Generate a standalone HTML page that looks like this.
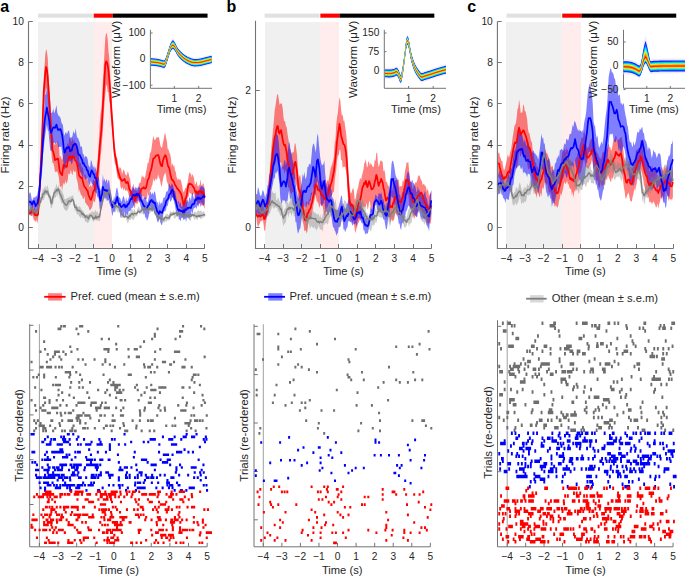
<!DOCTYPE html>
<html><head><meta charset="utf-8"><style>html,body{margin:0;padding:0;background:#fff;overflow:hidden}svg{display:block}</style></head><body>
<svg width="685" height="576" viewBox="0 0 685 576">
<rect width="685" height="576" fill="#fff"/>
<rect x="38" y="22" width="56" height="225.8" fill="#f0f0f0"/>
<rect x="94" y="22" width="18" height="225.8" fill="#ffecec"/>
<rect x="38" y="13.6" width="54.69" height="4.1" fill="#e1e1e1"/>
<rect x="93.69" y="13.6" width="19.13" height="4.1" fill="#ff0000"/>
<rect x="112.82" y="13.6" width="94.73" height="4.1" fill="#000000"/>
<polygon points="28.5,205.3 29.3,208.06 30.1,210.31 30.9,210.14 31.7,206.64 32.5,202.19 33.3,206.82 34.1,204.66 34.9,208.86 35.7,211.25 36.5,209.31 37.3,210.21 38.1,206.28 38.9,189.03 39.7,177.65 40.5,163.48 41.3,147.62 42.1,122.32 42.9,104.25 43.7,78.39 44.5,66.01 45.3,54.6 46.1,49.28 46.9,51.24 47.7,57.72 48.5,74.58 49.3,87.68 50.1,100.58 50.9,115.23 51.7,130.4 52.5,134.37 53.3,139.47 54.1,143.46 54.9,144.89 55.7,144.63 56.5,143.85 57.3,140.68 58.1,141.88 58.9,146.18 59.7,157.44 60.5,155.76 61.3,158.4 62.1,159.92 62.9,157.15 63.7,152.38 64.5,149.55 65.3,149.28 66.1,146.98 66.9,145.85 67.7,142.25 68.5,145.54 69.3,137.76 70.1,138.14 70.9,140.54 71.7,141.9 72.5,137.86 73.3,142.55 74.1,138.86 74.9,143.69 75.7,144.11 76.5,145.31 77.3,146.69 78.1,150.41 78.9,157.65 79.7,163.32 80.5,162.58 81.3,166.37 82.1,167.91 82.9,166.73 83.7,173.72 84.5,175.13 85.3,174.56 86.1,175.95 86.9,180.94 87.7,178.95 88.5,180.18 89.3,187.54 90.1,185.42 90.9,184.89 91.7,187.15 92.5,183.09 93.3,178.87 94.1,180.79 94.9,181.31 95.7,173.05 96.5,170.45 97.3,162.63 98.1,153.1 98.9,142.11 99.7,124.43 100.5,114.46 101.3,109.24 102.1,99.61 102.9,79.44 103.7,67.06 104.5,52.18 105.3,38.17 106.1,32.94 106.9,34.02 107.7,39.53 108.5,51.85 109.3,58.12 110.1,73.81 110.9,88.25 111.7,96.66 112.5,114.05 113.3,121.33 114.1,139.13 114.9,145.07 115.7,152.04 116.5,157.15 117.3,158.58 118.1,164.15 118.9,169.57 119.7,166.89 120.5,167.79 121.3,169.34 122.1,174.5 122.9,170.94 123.7,169.34 124.5,171.21 125.3,174.34 126.1,175.09 126.9,175.5 127.7,171.21 128.5,173.09 129.3,176.98 130.1,178.65 130.9,185.43 131.7,190.44 132.5,185.52 133.3,188.3 134.1,186.99 134.9,191.23 135.7,189.39 136.5,190.56 137.3,191.55 138.1,189.61 138.9,184.59 139.7,182.58 140.5,182.69 141.3,178.34 142.1,174.72 142.9,177.51 143.7,176.17 144.5,178.57 145.3,176.18 146.1,171.48 146.9,167.72 147.7,162.55 148.5,163.06 149.3,158.12 150.1,152.29 150.9,152.66 151.7,147.04 152.5,140.84 153.3,135.52 154.1,139.03 154.9,139.95 155.7,139.2 156.5,137.16 157.3,137.15 158.1,137.43 158.9,137.1 159.7,141.18 160.5,145.92 161.3,147.56 162.1,147.6 162.9,142.62 163.7,139.36 164.5,134.25 165.3,133.12 166.1,137.88 166.9,141.32 167.7,149.25 168.5,149.36 169.3,152.58 170.1,153.81 170.9,158.08 171.7,166.18 172.5,163.08 173.3,167.05 174.1,164.27 174.9,170.36 175.7,171.66 176.5,176.86 177.3,179.36 178.1,180.03 178.9,178.08 179.7,180.51 180.5,179.06 181.3,181.94 182.1,185.44 182.9,190.22 183.7,192.62 184.5,190.15 185.3,187.75 186.1,188.68 186.9,185.27 187.7,182.04 188.5,176.79 189.3,171.45 190.1,174.49 190.9,172.77 191.7,177.56 192.5,173.83 193.3,176.14 194.1,178.86 194.9,184.84 195.7,184.09 196.5,180.82 197.3,185.29 198.1,186.72 198.9,185.39 199.7,184.71 200.5,179.05 201.3,185.63 202.1,187.86 202.9,182.66 203.7,184.21 204.5,188.81 204.7,189.77 204.7,209.72 204.5,208.48 203.7,206.25 202.9,205.04 202.1,205.5 201.3,205.41 200.5,200.66 199.7,204.35 198.9,202.19 198.1,206.04 197.3,204.01 196.5,198.86 195.7,200.78 194.9,200.97 194.1,193.28 193.3,193.89 192.5,195.55 191.7,193.86 190.9,193.7 190.1,192.88 189.3,192.25 188.5,196.98 187.7,197.1 186.9,208.5 186.1,209.84 185.3,212.64 184.5,216.35 183.7,215.78 182.9,216.8 182.1,212.92 181.3,208.37 180.5,208.29 179.7,206.95 178.9,203.96 178.1,202.8 177.3,203.22 176.5,201.66 175.7,197.86 174.9,201.24 174.1,197.36 173.3,198.46 172.5,197.29 171.7,197.19 170.9,195.63 170.1,192.4 169.3,187.8 168.5,186.36 167.7,183.58 166.9,181.82 166.1,176.25 165.3,172.23 164.5,174.61 163.7,175.94 162.9,179.66 162.1,184.13 161.3,186.95 160.5,182.64 159.7,178.7 158.9,177.6 158.1,173.99 157.3,178.66 156.5,180.12 155.7,178.36 154.9,180.73 154.1,181.6 153.3,178.29 152.5,184.6 151.7,186.23 150.9,190.36 150.1,189.56 149.3,195.33 148.5,196.37 147.7,192.02 146.9,198.96 146.1,198.88 145.3,199.49 144.5,198.83 143.7,195.63 142.9,199.19 142.1,195.31 141.3,200.25 140.5,202.11 139.7,203.3 138.9,200.47 138.1,202.33 137.3,203.76 136.5,204.25 135.7,200.9 134.9,208.41 134.1,207.29 133.3,203.69 132.5,202.63 131.7,199.92 130.9,195.92 130.1,196.58 129.3,197.58 128.5,194.34 127.7,191.26 126.9,190.36 126.1,190.21 125.3,191.29 124.5,187.64 123.7,190.9 122.9,187.79 122.1,187.37 121.3,189.38 120.5,186.56 119.7,180.06 118.9,179.18 118.1,178.87 117.3,177.11 116.5,170.84 115.7,165.52 114.9,163.68 114.1,158.46 113.3,143.61 112.5,136.01 111.7,125.13 110.9,118.36 110.1,104.77 109.3,101.55 108.5,92.29 107.7,91.92 106.9,84.5 106.1,86.24 105.3,94.12 104.5,103.66 103.7,113.45 102.9,130.83 102.1,140.43 101.3,150.91 100.5,157.42 99.7,166.18 98.9,179.65 98.1,184.72 97.3,189.09 96.5,190.3 95.7,197.98 94.9,201.83 94.1,202.25 93.3,200.27 92.5,205.41 91.7,207.97 90.9,209 90.1,210.41 89.3,209.41 88.5,206.42 87.7,205.45 86.9,205.07 86.1,203.17 85.3,203.11 84.5,196.37 83.7,198.47 82.9,199 82.1,195.68 81.3,195.3 80.5,193.84 79.7,189.18 78.9,192.71 78.1,184.97 77.3,180.83 76.5,178.56 75.7,171.09 74.9,171.96 74.1,171.74 73.3,169.59 72.5,175.17 71.7,173.65 70.9,169.56 70.1,173.73 69.3,174.39 68.5,173.16 67.7,180.33 66.9,182.68 66.1,183.7 65.3,179.95 64.5,185.05 63.7,182.85 62.9,185.15 62.1,191.03 61.3,185.37 60.5,187.53 59.7,185.53 58.9,177.86 58.1,174.15 57.3,171.58 56.5,171.57 55.7,172.33 54.9,171.22 54.1,166.2 53.3,162.64 52.5,163.22 51.7,157.35 50.9,141.19 50.1,127.46 49.3,112.68 48.5,105.84 47.7,97.16 46.9,89.21 46.1,86.91 45.3,94.67 44.5,102 43.7,106.72 42.9,131.52 42.1,150.56 41.3,166.19 40.5,182.41 39.7,193.15 38.9,204.13 38.1,219.61 37.3,223.7 36.5,219.49 35.7,222.02 34.9,220.84 34.1,220.38 33.3,218.62 32.5,214.23 31.7,216.29 30.9,215.54 30.1,215.54 29.3,214.71 28.5,216.5" fill="#ff0000" fill-opacity="0.5"/>
<polygon points="28.5,196.43 29.3,193.48 30.1,191.71 30.9,194.37 31.7,199.31 32.5,200.44 33.3,197.03 34.1,198.16 34.9,196.49 35.7,196.89 36.5,196.17 37.3,194.72 38.1,190.12 38.9,185.34 39.7,178.49 40.5,164.06 41.3,152.59 42.1,143.27 42.9,131.77 43.7,117.91 44.5,102.42 45.3,93.81 46.1,95.17 46.9,84.67 47.7,93.39 48.5,98.9 49.3,102.51 50.1,114.16 50.9,113.46 51.7,112.62 52.5,112.26 53.3,108.16 54.1,113.52 54.9,111.61 55.7,108.42 56.5,105.31 57.3,112.72 58.1,114.87 58.9,116.15 59.7,116.6 60.5,117.95 61.3,122.05 62.1,123.92 62.9,124.77 63.7,133.26 64.5,135.86 65.3,132.86 66.1,132.28 66.9,134.53 67.7,132.09 68.5,130.18 69.3,131.94 70.1,138.29 70.9,136.88 71.7,137.55 72.5,135.92 73.3,130.83 74.1,133.16 74.9,133.54 75.7,128.34 76.5,134.68 77.3,137.91 78.1,137.76 78.9,140.62 79.7,142.33 80.5,147.27 81.3,145.77 82.1,147.99 82.9,154.24 83.7,154.36 84.5,157.9 85.3,155.76 86.1,156.84 86.9,156.7 87.7,159.62 88.5,165.29 89.3,166.25 90.1,167.8 90.9,159.65 91.7,161.57 92.5,165.1 93.3,167.91 94.1,165.31 94.9,169.91 95.7,166.54 96.5,171.99 97.3,177.54 98.1,177.21 98.9,176.41 99.7,185.93 100.5,190.79 101.3,189.06 102.1,185.01 102.9,173.91 103.7,181.15 104.5,178.3 105.3,182.18 106.1,179.97 106.9,179.27 107.7,183.88 108.5,179.59 109.3,181 110.1,187.95 110.9,192.49 111.7,197.99 112.5,201.47 113.3,200.32 114.1,195.91 114.9,199.61 115.7,192.77 116.5,188 117.3,188.05 118.1,191.87 118.9,198.21 119.7,197.1 120.5,198.97 121.3,202.04 122.1,200.02 122.9,196.97 123.7,195.63 124.5,198.82 125.3,203.35 126.1,196.78 126.9,201.09 127.7,200.64 128.5,198.16 129.3,195.88 130.1,190.56 130.9,190.33 131.7,191.03 132.5,188.83 133.3,183.46 134.1,189.38 134.9,188.87 135.7,186.72 136.5,187.98 137.3,188.65 138.1,185.92 138.9,188.18 139.7,186.35 140.5,190.9 141.3,191.14 142.1,197.02 142.9,200.23 143.7,197.66 144.5,197.7 145.3,196.81 146.1,199.05 146.9,202.19 147.7,202.18 148.5,198.47 149.3,194.95 150.1,191.03 150.9,192.52 151.7,195.09 152.5,192.29 153.3,194.9 154.1,191.89 154.9,191.16 155.7,195.14 156.5,201 157.3,202.62 158.1,202.62 158.9,206.33 159.7,200.24 160.5,204.76 161.3,201.94 162.1,204.03 162.9,200.26 163.7,197.19 164.5,197.73 165.3,196.24 166.1,192.09 166.9,191.14 167.7,191.14 168.5,186.87 169.3,183.22 170.1,185.8 170.9,185.9 171.7,183.13 172.5,184.6 173.3,186.01 174.1,191.26 174.9,190.34 175.7,194.08 176.5,199.02 177.3,203.75 178.1,201.6 178.9,201.29 179.7,204.65 180.5,201.83 181.3,206.51 182.1,207.1 182.9,202.98 183.7,199.99 184.5,204.68 185.3,199.61 186.1,198.28 186.9,202.52 187.7,199.6 188.5,202.65 189.3,197.34 190.1,197.87 190.9,200.93 191.7,194.25 192.5,192.58 193.3,196.51 194.1,199.33 194.9,197.98 195.7,189.89 196.5,191.46 197.3,191.79 198.1,190 198.9,192.72 199.7,188.06 200.5,187.1 201.3,185.7 202.1,184.39 202.9,187.47 203.7,187.13 204.5,189.52 204.7,185.32 204.7,200.78 204.5,204.06 203.7,205.31 202.9,205.71 202.1,202.91 201.3,202.96 200.5,207.25 199.7,202.72 198.9,204.34 198.1,207.08 197.3,204.81 196.5,209.16 195.7,206.75 194.9,208.22 194.1,207.87 193.3,209.65 192.5,213.85 191.7,210.29 190.9,215.28 190.1,216.21 189.3,219.49 188.5,218.51 187.7,216.17 186.9,217.33 186.1,222.15 185.3,218.22 184.5,219.34 183.7,220.13 182.9,218.1 182.1,217.81 181.3,217.72 180.5,221.62 179.7,219.2 178.9,219.82 178.1,213.82 177.3,213.31 176.5,215.11 175.7,209.7 174.9,205.17 174.1,201.43 173.3,199.73 172.5,197.06 171.7,199.68 170.9,201.18 170.1,201.72 169.3,198 168.5,202 167.7,206.58 166.9,205.27 166.1,209.7 165.3,211.32 164.5,211.36 163.7,212.19 162.9,216.47 162.1,225.32 161.3,224.86 160.5,222.86 159.7,216.69 158.9,220.39 158.1,222.66 157.3,221.29 156.5,217.71 155.7,215.27 154.9,211.43 154.1,209.14 153.3,208.92 152.5,212.01 151.7,210.68 150.9,210.48 150.1,206.5 149.3,211.19 148.5,216.9 147.7,219.38 146.9,220.48 146.1,217.55 145.3,217.77 144.5,213.36 143.7,213.89 142.9,209.9 142.1,209.68 141.3,208.8 140.5,205.96 139.7,201.79 138.9,201.26 138.1,197.21 137.3,200.98 136.5,201.5 135.7,203.33 134.9,201.63 134.1,205.08 133.3,206.75 132.5,208.05 131.7,207.92 130.9,209.65 130.1,211.87 129.3,210.63 128.5,211.68 127.7,215.81 126.9,214.61 126.1,214.03 125.3,217.98 124.5,210.81 123.7,217.38 122.9,216.86 122.1,212.05 121.3,218.06 120.5,217.14 119.7,210.97 118.9,213.7 118.1,205.69 117.3,200.41 116.5,203.82 115.7,206.96 114.9,211.09 114.1,212.41 113.3,211.38 112.5,216.56 111.7,212.5 110.9,206.42 110.1,205.63 109.3,202.82 108.5,199.67 107.7,200.17 106.9,201.37 106.1,196.65 105.3,199.34 104.5,198.44 103.7,195.59 102.9,195.35 102.1,201.73 101.3,208.87 100.5,207.91 99.7,209.66 98.9,200.06 98.1,195.67 97.3,198.11 96.5,192.97 95.7,193.12 94.9,190.76 94.1,189.12 93.3,185.34 92.5,184.03 91.7,183.6 90.9,180.53 90.1,184.41 89.3,184.99 88.5,181.96 87.7,178.03 86.9,180.85 86.1,177.74 85.3,180.28 84.5,177.61 83.7,173.39 82.9,180.66 82.1,175.41 81.3,173.43 80.5,172.05 79.7,171.51 78.9,167.45 78.1,167.04 77.3,163.22 76.5,160.43 75.7,157.43 74.9,159.88 74.1,161.74 73.3,157.1 72.5,162.58 71.7,164.68 70.9,161.85 70.1,161.31 69.3,161.02 68.5,158.53 67.7,159.54 66.9,163.38 66.1,162.54 65.3,168.79 64.5,169.71 63.7,164.86 62.9,158.16 62.1,152.14 61.3,146.11 60.5,146.91 59.7,146.78 58.9,146.94 58.1,147.29 57.3,141.73 56.5,142.86 55.7,144.95 54.9,143.02 54.1,142.84 53.3,142.28 52.5,146.2 51.7,150.87 50.9,151.38 50.1,149.03 49.3,140.75 48.5,130.99 47.7,130.34 46.9,124.09 46.1,129.29 45.3,134.2 44.5,140.87 43.7,147.9 42.9,155.91 42.1,172.16 41.3,179.87 40.5,183.14 39.7,198.66 38.9,203.65 38.1,207.19 37.3,210.3 36.5,210.83 35.7,215.27 34.9,211.05 34.1,210.03 33.3,204.92 32.5,209.98 31.7,215.68 30.9,213.35 30.1,210.03 29.3,205.71 28.5,207.63" fill="#0000ff" fill-opacity="0.5"/>
<polygon points="28.5,206.75 29.3,204.97 30.1,207.21 30.9,203.23 31.7,206.35 32.5,208.26 33.3,207.45 34.1,209.8 34.9,209.31 35.7,207.82 36.5,207.46 37.3,208.14 38.1,205.71 38.9,203.2 39.7,200.38 40.5,198.35 41.3,194.14 42.1,192.71 42.9,189.02 43.7,189.09 44.5,186.93 45.3,185.71 46.1,189.66 46.9,185.68 47.7,185.45 48.5,188.91 49.3,193.62 50.1,193.79 50.9,196.32 51.7,200.3 52.5,196.28 53.3,194.27 54.1,188.7 54.9,188.82 55.7,186.75 56.5,183.3 57.3,187.56 58.1,186.38 58.9,184.61 59.7,190.89 60.5,188.32 61.3,190.27 62.1,191.32 62.9,193.5 63.7,195.37 64.5,199.09 65.3,199.34 66.1,198.96 66.9,198.25 67.7,197.18 68.5,198.26 69.3,197.47 70.1,195.78 70.9,197.73 71.7,195.77 72.5,195.22 73.3,196.4 74.1,200.22 74.9,204.83 75.7,204.26 76.5,203.94 77.3,206.54 78.1,206.92 78.9,206.57 79.7,205.93 80.5,207.51 81.3,209.36 82.1,209.75 82.9,211.11 83.7,211.84 84.5,212.97 85.3,214.96 86.1,214.71 86.9,214.67 87.7,213.92 88.5,214.73 89.3,212.91 90.1,212.98 90.9,213.61 91.7,211.34 92.5,211.22 93.3,212.79 94.1,211.18 94.9,212.04 95.7,209.27 96.5,212.47 97.3,211.09 98.1,212.91 98.9,214.34 99.7,214.5 100.5,209.94 101.3,205.1 102.1,202.96 102.9,194.78 103.7,190.98 104.5,190.73 105.3,189.26 106.1,189.16 106.9,191.88 107.7,190.23 108.5,187.74 109.3,186.82 110.1,189.02 110.9,192.28 111.7,197.47 112.5,201.76 113.3,202.83 114.1,204.48 114.9,205.35 115.7,203.58 116.5,201.35 117.3,205.18 118.1,204.42 118.9,203.62 119.7,202.51 120.5,205.99 121.3,207.12 122.1,211.96 122.9,213.45 123.7,214.49 124.5,213.48 125.3,212.13 126.1,214.17 126.9,215.49 127.7,215.39 128.5,213.7 129.3,212.22 130.1,213.42 130.9,210.82 131.7,208.84 132.5,209.28 133.3,211.8 134.1,208.78 134.9,209.55 135.7,212.21 136.5,212.02 137.3,209.01 138.1,207.49 138.9,206.2 139.7,209.16 140.5,209.08 141.3,206.33 142.1,206.1 142.9,206.25 143.7,207.22 144.5,205.8 145.3,203.11 146.1,204.64 146.9,207.96 147.7,205.68 148.5,205.73 149.3,206 150.1,203.92 150.9,205.32 151.7,203.83 152.5,203.28 153.3,204.47 154.1,205.36 154.9,211.19 155.7,210.46 156.5,210.86 157.3,213.6 158.1,212.45 158.9,214.19 159.7,216.02 160.5,213.56 161.3,215.08 162.1,214.23 162.9,214.52 163.7,217.56 164.5,217.1 165.3,215.42 166.1,213.27 166.9,214.43 167.7,213.9 168.5,215.3 169.3,214.01 170.1,211.2 170.9,210.91 171.7,212.22 172.5,211.91 173.3,210.24 174.1,213.01 174.9,210.72 175.7,211.81 176.5,210.45 177.3,212.31 178.1,209.32 178.9,211.31 179.7,211.89 180.5,209.91 181.3,211.22 182.1,211.79 182.9,213.49 183.7,213.16 184.5,213.71 185.3,212.6 186.1,212.08 186.9,212.15 187.7,211.58 188.5,212.7 189.3,213.54 190.1,213.38 190.9,215.26 191.7,213.61 192.5,211.27 193.3,213.71 194.1,211.8 194.9,211.83 195.7,211.58 196.5,213.16 197.3,210.89 198.1,210.75 198.9,209.96 199.7,211.87 200.5,210.45 201.3,210.55 202.1,212.87 202.9,211.8 203.7,211.35 204.5,212.01 204.7,214.52 204.7,218.66 204.5,216.43 203.7,217.68 202.9,216.84 202.1,219.01 201.3,218.14 200.5,219.35 199.7,217.9 198.9,216.44 198.1,218.42 197.3,220.42 196.5,218.92 195.7,217.65 194.9,220.5 194.1,218.48 193.3,217.28 192.5,216.22 191.7,216.14 190.9,220.3 190.1,221.29 189.3,219.65 188.5,217.27 187.7,218.33 186.9,217.9 186.1,217.14 185.3,218.04 184.5,217.54 183.7,219.51 182.9,217.35 182.1,216.28 181.3,218.71 180.5,215.92 179.7,215.26 178.9,215.65 178.1,216.87 177.3,216.85 176.5,216.67 175.7,217.53 174.9,218.46 174.1,218.65 173.3,214.81 172.5,215.64 171.7,216.07 170.9,216.61 170.1,220.08 169.3,219.98 168.5,220.43 167.7,220.14 166.9,220.54 166.1,222.28 165.3,220.82 164.5,222.76 163.7,222.03 162.9,223.09 162.1,223.27 161.3,222.16 160.5,222.6 159.7,219.91 158.9,219.84 158.1,220.81 157.3,219.76 156.5,218.51 155.7,215.68 154.9,214.84 154.1,212.74 153.3,210.73 152.5,209.61 151.7,211.66 150.9,211.66 150.1,212.94 149.3,214.09 148.5,214.48 147.7,213.73 146.9,211.39 146.1,211.64 145.3,210.51 144.5,213.27 143.7,214.74 142.9,214.27 142.1,212.16 141.3,213.98 140.5,213.34 139.7,214.45 138.9,212.87 138.1,213.05 137.3,215.72 136.5,216.55 135.7,216.06 134.9,217.49 134.1,218.51 133.3,220.64 132.5,219.38 131.7,218.13 130.9,219.26 130.1,220.15 129.3,219.8 128.5,222.28 127.7,223.58 126.9,221.04 126.1,218.61 125.3,216.89 124.5,217.98 123.7,218.04 122.9,217.5 122.1,218.42 121.3,215.99 120.5,216.58 119.7,212.28 118.9,207.46 118.1,210.18 117.3,212.38 116.5,209.39 115.7,212.17 114.9,212.15 114.1,210.39 113.3,208.03 112.5,205.88 111.7,202.82 110.9,200.01 110.1,198.57 109.3,192.57 108.5,193.7 107.7,198.54 106.9,199.3 106.1,198.65 105.3,194.65 104.5,195.14 103.7,201.28 102.9,202.62 102.1,208.91 101.3,210.08 100.5,216.7 99.7,221.5 98.9,221.1 98.1,220.21 97.3,220.62 96.5,220.86 95.7,219.01 94.9,221.43 94.1,219.13 93.3,221.9 92.5,220.49 91.7,217.08 90.9,217.65 90.1,219.27 89.3,221.11 88.5,222.31 87.7,223.09 86.9,222.57 86.1,221.27 85.3,222.12 84.5,218.95 83.7,218.29 82.9,217.79 82.1,217.79 81.3,216.07 80.5,218.53 79.7,216.52 78.9,216 78.1,213.06 77.3,215.25 76.5,212.87 75.7,210.12 74.9,211.42 74.1,206.46 73.3,205.85 72.5,200.61 71.7,201.23 70.9,203.44 70.1,204.8 69.3,204.94 68.5,207.2 67.7,209.81 66.9,210.55 66.1,211.14 65.3,209.73 64.5,209.39 63.7,208.09 62.9,204.44 62.1,202.78 61.3,203.55 60.5,199.9 59.7,198.67 58.9,195.21 58.1,191.56 57.3,197.37 56.5,194.25 55.7,198.12 54.9,197.07 54.1,198.56 53.3,203.32 52.5,204.72 51.7,208.57 50.9,207.56 50.1,203.03 49.3,198.23 48.5,198.58 47.7,194.95 46.9,194.63 46.1,194.72 45.3,195.23 44.5,197.73 43.7,200.48 42.9,199.38 42.1,200.6 41.3,202.06 40.5,205.33 39.7,208.94 38.9,210.4 38.1,211.81 37.3,218.08 36.5,218.37 35.7,217.8 34.9,216.44 34.1,214.7 33.3,215.53 32.5,216.45 31.7,215.54 30.9,214.45 30.1,215.79 29.3,213.69 28.5,214.27" fill="#7f7f7f" fill-opacity="0.4"/>
<polyline points="28.5,210.23 29.3,211.42 30.1,213.41 30.9,212.1 31.7,211.82 32.5,210.2 33.3,212.13 34.1,212.86 34.9,215.08 35.7,215.02 36.5,215.08 37.3,215.49 38.1,214.29 38.9,199.62 39.7,186.58 40.5,170.52 41.3,153.72 42.1,136.43 42.9,115 43.7,91.94 44.5,82.58 45.3,72.63 46.1,66.95 46.9,69.45 47.7,77.17 48.5,88.34 49.3,100.16 50.1,112.97 50.9,127.15 51.7,140.22 52.5,149.92 53.3,152.09 54.1,155.19 54.9,160.07 55.7,159.41 56.5,159.33 57.3,158.54 58.1,158.77 58.9,164.98 59.7,170.9 60.5,173.22 61.3,173.84 62.1,175.21 62.9,169.2 63.7,164.71 64.5,165.36 65.3,166.18 66.1,166.81 66.9,166.69 67.7,161.42 68.5,159.14 69.3,156.44 70.1,157.6 70.9,156.69 71.7,159.04 72.5,156.71 73.3,156.05 74.1,157.55 74.9,159.87 75.7,160.52 76.5,162.28 77.3,164.87 78.1,169.12 78.9,174.49 79.7,176.64 80.5,176.74 81.3,178.25 82.1,178.04 82.9,181.6 83.7,184.58 84.5,186.76 85.3,187.56 86.1,188.54 86.9,190.3 87.7,190.91 88.5,195.22 89.3,196.74 90.1,198.99 90.9,199.92 91.7,197.74 92.5,195.17 93.3,191.48 94.1,190.63 94.9,188.14 95.7,184.54 96.5,180.31 97.3,175.19 98.1,167.75 98.9,159.11 99.7,147.36 100.5,139.03 101.3,130.96 102.1,120.9 102.9,105.92 103.7,91.84 104.5,78.32 105.3,64.68 106.1,61.29 106.9,62.27 107.7,65.42 108.5,70.89 109.3,79.59 110.1,89.63 110.9,103.43 111.7,114.38 112.5,126.03 113.3,136.59 114.1,148.22 114.9,154.98 115.7,157.94 116.5,163.13 117.3,167.39 118.1,171.8 118.9,173.92 119.7,176.39 120.5,178.74 121.3,180.09 122.1,180.96 122.9,180.3 123.7,179.61 124.5,178.91 125.3,181.32 126.1,182.99 126.9,182.67 127.7,181.83 128.5,184.98 129.3,189.05 130.1,190.51 130.9,192.31 131.7,194.11 132.5,194.25 133.3,196.99 134.1,198.44 134.9,200.63 135.7,196.43 136.5,197.09 137.3,195.83 138.1,195.81 138.9,195.36 139.7,192.53 140.5,192.08 141.3,188.95 142.1,188.49 142.9,188.16 143.7,187.2 144.5,188.41 145.3,188.67 146.1,187.58 146.9,183.97 147.7,179.93 148.5,179.05 149.3,176.48 150.1,172.52 150.9,170.5 151.7,167.49 152.5,162.93 153.3,158.5 154.1,158.21 154.9,157.46 155.7,155.95 156.5,155.43 157.3,155.49 158.1,154.87 158.9,156.76 159.7,160.98 160.5,164.19 161.3,165.91 162.1,166.17 162.9,160.98 163.7,158.51 164.5,156.19 165.3,155.09 166.1,156.37 166.9,160.34 167.7,164.66 168.5,166.91 169.3,168.2 170.1,172.71 170.9,176.32 171.7,179.51 172.5,179.76 173.3,181.22 174.1,182.03 174.9,184.65 175.7,185.76 176.5,187.19 177.3,188.76 178.1,189.3 178.9,190.5 179.7,191.26 180.5,193.03 181.3,194.22 182.1,197.72 182.9,201.67 183.7,205.11 184.5,203.29 185.3,198.63 186.1,197.79 186.9,194.47 187.7,188.22 188.5,185.01 189.3,183.57 190.1,184.12 190.9,184.08 191.7,184.6 192.5,185.68 193.3,187.11 194.1,187.85 194.9,190.82 195.7,192.52 196.5,191.21 197.3,193.27 198.1,193.78 198.9,191.13 199.7,191.5 200.5,190.82 201.3,192.42 202.1,193.37 202.9,191.6 203.7,192.6 204.5,195.63 204.7,195.41" fill="none" stroke="#ff0000" stroke-width="1.7" stroke-linejoin="round"/>
<polyline points="28.5,202.85 29.3,201.56 30.1,201.64 30.9,202.42 31.7,204.31 32.5,204.29 33.3,201.45 34.1,201.1 34.9,203.64 35.7,206.26 36.5,204.35 37.3,203.71 38.1,200.05 38.9,195.64 39.7,188.09 40.5,175.35 41.3,166.78 42.1,155.24 42.9,142.34 43.7,132.74 44.5,122.31 45.3,116.44 46.1,112.81 46.9,107.68 47.7,112.16 48.5,116.67 49.3,121.44 50.1,129.22 50.9,132.66 51.7,131.84 52.5,128.94 53.3,127.34 54.1,127.25 54.9,128 55.7,126.44 56.5,124.58 57.3,127.83 58.1,129.9 58.9,129.67 59.7,129.34 60.5,129.18 61.3,131.53 62.1,134.87 62.9,140.05 63.7,147.9 64.5,152.59 65.3,151.63 66.1,148.17 66.9,147.52 67.7,148.24 68.5,146.71 69.3,148.02 70.1,151.48 70.9,150.43 71.7,150.5 72.5,147.56 73.3,144.83 74.1,144.88 74.9,143.58 75.7,144.03 76.5,145.65 77.3,148.75 78.1,153.08 78.9,154.88 79.7,154.78 80.5,156.76 81.3,158.28 82.1,159.95 82.9,163.49 83.7,163.19 84.5,165.33 85.3,166.38 86.1,167.08 86.9,170.24 87.7,170.23 88.5,174.06 89.3,175.71 90.1,176.85 90.9,172.44 91.7,170.27 92.5,171.68 93.3,173.72 94.1,174.23 94.9,177.89 95.7,177.75 96.5,179.61 97.3,184.22 98.1,187.42 98.9,189.83 99.7,197.57 100.5,200.85 101.3,196.77 102.1,193.97 102.9,186.79 103.7,189.21 104.5,190.38 105.3,189.86 106.1,190.99 106.9,190.17 107.7,191.16 108.5,190.62 109.3,193.24 110.1,197.71 110.9,199.74 111.7,203.42 112.5,207.4 113.3,204.39 114.1,202.83 114.9,203.93 115.7,202.88 116.5,199.04 117.3,197 118.1,201.91 118.9,205.17 119.7,203.64 120.5,206.28 121.3,207.12 122.1,206.53 122.9,205.92 123.7,204.89 124.5,204.57 125.3,207.43 126.1,205.69 126.9,206.67 127.7,204.14 128.5,204.39 129.3,202.7 130.1,200.48 130.9,198.72 131.7,199.14 132.5,196.05 133.3,194.87 134.1,194.92 134.9,195.88 135.7,195.15 136.5,193.78 137.3,195.39 138.1,193.55 138.9,194.56 139.7,197.17 140.5,199.59 141.3,200.06 142.1,201.77 142.9,203.79 143.7,205.91 144.5,206 145.3,207.83 146.1,208.63 146.9,208.28 147.7,206.38 148.5,205.32 149.3,203.97 150.1,201.79 150.9,200.57 151.7,199.79 152.5,202.02 153.3,201.33 154.1,203.07 154.9,202.66 155.7,206.49 156.5,208.72 157.3,211.91 158.1,212.2 158.9,213.95 159.7,211.19 160.5,211.99 161.3,212.61 162.1,212.88 162.9,210.51 163.7,208.33 164.5,206.59 165.3,205.04 166.1,201.33 166.9,200.25 167.7,199.3 168.5,197.58 169.3,194.48 170.1,193.91 170.9,192.86 171.7,190.54 172.5,189.65 173.3,192.1 174.1,195.81 174.9,199.22 175.7,200.51 176.5,204.05 177.3,207.56 178.1,209.57 178.9,210.72 179.7,209.85 180.5,211.05 181.3,211.05 182.1,210.86 182.9,212.36 183.7,210.5 184.5,211.79 185.3,209.18 186.1,209.97 186.9,209.23 187.7,207.76 188.5,208.44 189.3,207.48 190.1,207.38 190.9,208.01 191.7,205.69 192.5,204.12 193.3,204.33 194.1,204.06 194.9,201.18 195.7,199.21 196.5,199.87 197.3,197.92 198.1,197.33 198.9,199.03 199.7,197.9 200.5,199.09 201.3,198.17 202.1,197.57 202.9,196.88 203.7,195.51 204.5,197.12 204.7,195.93" fill="none" stroke="#0000ff" stroke-width="1.7" stroke-linejoin="round"/>
<polyline points="28.5,211.92 29.3,211.53 30.1,210.71 30.9,208.1 31.7,208.63 32.5,211.25 33.3,211.68 34.1,212.17 34.9,210.92 35.7,211.92 36.5,213.37 37.3,212.24 38.1,208.2 38.9,206.26 39.7,202.81 40.5,202.35 41.3,197.71 42.1,197.85 42.9,194.02 43.7,194.19 44.5,192.05 45.3,190.77 46.1,192.72 46.9,191.16 47.7,191.63 48.5,195.09 49.3,196.28 50.1,197.44 50.9,202.65 51.7,203.7 52.5,198.46 53.3,196.29 54.1,192.98 54.9,192.02 55.7,191.73 56.5,189.76 57.3,190.88 58.1,188.77 58.9,189.82 59.7,193.72 60.5,194.63 61.3,196.34 62.1,198.78 62.9,200.63 63.7,202.4 64.5,203.32 65.3,204.66 66.1,205.18 66.9,204.79 67.7,203.19 68.5,201.36 69.3,200.8 70.1,201.64 70.9,201.62 71.7,199.69 72.5,199.56 73.3,200.49 74.1,203.62 74.9,207.25 75.7,207.75 76.5,207.17 77.3,210.47 78.1,210.28 78.9,210.89 79.7,210.44 80.5,211.59 81.3,212.36 82.1,214.39 82.9,213.31 83.7,215.19 84.5,215.03 85.3,217.32 86.1,215.95 86.9,216.76 87.7,217.45 88.5,218.85 89.3,216.3 90.1,215.46 90.9,215.38 91.7,216.01 92.5,217.18 93.3,218.99 94.1,217.54 94.9,218.56 95.7,216.04 96.5,218.25 97.3,217.1 98.1,216.51 98.9,217.39 99.7,215.84 100.5,210.71 101.3,206.58 102.1,203.82 102.9,199.36 103.7,196.01 104.5,192.93 105.3,192.39 106.1,193.77 106.9,194.65 107.7,193.78 108.5,191.05 109.3,191.01 110.1,193.83 110.9,197.96 111.7,201.24 112.5,203.39 113.3,203.57 114.1,205.84 114.9,206.22 115.7,206.69 116.5,205.51 117.3,207.07 118.1,206.87 118.9,205.98 119.7,207.61 120.5,211.13 121.3,211.2 122.1,214.62 122.9,215.21 123.7,216.22 124.5,216.96 125.3,216.04 126.1,216.21 126.9,216.34 127.7,217.94 128.5,218.06 129.3,215.41 130.1,216.57 130.9,214.68 131.7,213.49 132.5,213.56 133.3,214.99 134.1,213.62 134.9,213.24 135.7,213.79 136.5,213.71 137.3,212.79 138.1,211.3 138.9,211.34 139.7,212.13 140.5,211.72 141.3,210.75 142.1,209.6 142.9,209.22 143.7,210.07 144.5,209.43 145.3,207.3 146.1,208.84 146.9,209.51 147.7,209.05 148.5,209.02 149.3,209.44 150.1,208.58 150.9,209.48 151.7,208.61 152.5,207.79 153.3,208.7 154.1,209.56 154.9,212.98 155.7,214.01 156.5,214.89 157.3,216.46 158.1,215.97 158.9,217.44 159.7,218.65 160.5,218.29 161.3,218.13 162.1,218.99 162.9,219.28 163.7,220.05 164.5,218.06 165.3,217.12 166.1,217.27 166.9,218.14 167.7,218.14 168.5,217.47 169.3,217.9 170.1,215.84 170.9,214.03 171.7,214.82 172.5,214.51 173.3,213.28 174.1,214.27 174.9,213.37 175.7,213.03 176.5,213.35 177.3,215.49 178.1,213.03 178.9,213.78 179.7,213.78 180.5,213.63 181.3,214.45 182.1,214.03 182.9,216.29 183.7,215.5 184.5,216.08 185.3,214.58 186.1,215.35 186.9,216.06 187.7,216.84 188.5,214.99 189.3,215.19 190.1,216.39 190.9,216.45 191.7,214.43 192.5,214.92 193.3,215.64 194.1,214.77 194.9,215.59 195.7,215.82 196.5,216.96 197.3,215.95 198.1,216.25 198.9,215.36 199.7,216.47 200.5,215.37 201.3,215.71 202.1,215.34 202.9,215.09 203.7,214.49 204.5,214.66 204.7,215.71" fill="none" stroke="#7f7f7f" stroke-width="1.4" stroke-linejoin="round"/>
<path d="M28.5 21.5 V248.5 H204.77" fill="none" stroke="#747474" stroke-width="1.1"/>
<path d="M28.5 227.5 H32.8" stroke="#747474" stroke-width="1"/>
<text x="23.9" y="230.5" font-size="10.2" text-anchor="end" fill="#262626" font-family="Liberation Sans, sans-serif">0</text>
<path d="M28.5 186.5 H32.8" stroke="#747474" stroke-width="1"/>
<text x="23.9" y="189.32" font-size="10.2" text-anchor="end" fill="#262626" font-family="Liberation Sans, sans-serif">2</text>
<path d="M28.5 145.5 H32.8" stroke="#747474" stroke-width="1"/>
<text x="23.9" y="148.14" font-size="10.2" text-anchor="end" fill="#262626" font-family="Liberation Sans, sans-serif">4</text>
<path d="M28.5 103.5 H32.8" stroke="#747474" stroke-width="1"/>
<text x="23.9" y="106.96" font-size="10.2" text-anchor="end" fill="#262626" font-family="Liberation Sans, sans-serif">6</text>
<path d="M28.5 62.5 H32.8" stroke="#747474" stroke-width="1"/>
<text x="23.9" y="65.78" font-size="10.2" text-anchor="end" fill="#262626" font-family="Liberation Sans, sans-serif">8</text>
<path d="M28.5 21.5 H32.8" stroke="#747474" stroke-width="1"/>
<text x="23.9" y="24.6" font-size="10.2" text-anchor="end" fill="#262626" font-family="Liberation Sans, sans-serif">10</text>
<path d="M38.5 248.5 V244" stroke="#747474" stroke-width="1"/>
<text x="38" y="262" font-size="10.2" text-anchor="middle" fill="#262626" font-family="Liberation Sans, sans-serif">−4</text>
<path d="M56.5 248.5 V244" stroke="#747474" stroke-width="1"/>
<text x="56.53" y="262" font-size="10.2" text-anchor="middle" fill="#262626" font-family="Liberation Sans, sans-serif">−3</text>
<path d="M75.5 248.5 V244" stroke="#747474" stroke-width="1"/>
<text x="75.06" y="262" font-size="10.2" text-anchor="middle" fill="#262626" font-family="Liberation Sans, sans-serif">−2</text>
<path d="M93.5 248.5 V244" stroke="#747474" stroke-width="1"/>
<text x="93.59" y="262" font-size="10.2" text-anchor="middle" fill="#262626" font-family="Liberation Sans, sans-serif">−1</text>
<path d="M112.5 248.5 V244" stroke="#747474" stroke-width="1"/>
<text x="112.12" y="262" font-size="10.2" text-anchor="middle" fill="#262626" font-family="Liberation Sans, sans-serif">0</text>
<path d="M130.5 248.5 V244" stroke="#747474" stroke-width="1"/>
<text x="130.65" y="262" font-size="10.2" text-anchor="middle" fill="#262626" font-family="Liberation Sans, sans-serif">1</text>
<path d="M149.5 248.5 V244" stroke="#747474" stroke-width="1"/>
<text x="149.18" y="262" font-size="10.2" text-anchor="middle" fill="#262626" font-family="Liberation Sans, sans-serif">2</text>
<path d="M167.5 248.5 V244" stroke="#747474" stroke-width="1"/>
<text x="167.71" y="262" font-size="10.2" text-anchor="middle" fill="#262626" font-family="Liberation Sans, sans-serif">3</text>
<path d="M186.5 248.5 V244" stroke="#747474" stroke-width="1"/>
<text x="186.24" y="262" font-size="10.2" text-anchor="middle" fill="#262626" font-family="Liberation Sans, sans-serif">4</text>
<path d="M204.5 248.5 V244" stroke="#747474" stroke-width="1"/>
<text x="204.77" y="262" font-size="10.2" text-anchor="middle" fill="#262626" font-family="Liberation Sans, sans-serif">5</text>
<text x="116.75" y="275.2" font-size="11.2" text-anchor="middle" fill="#262626" font-family="Liberation Sans, sans-serif">Time (s)</text>
<text transform="translate(9,134.9) rotate(-90)" font-size="11.55" text-anchor="middle" fill="#262626" font-family="Liberation Sans, sans-serif">Firing rate (Hz)</text>
<text x="0.3" y="11.8" font-size="16" font-weight="bold" fill="#000" font-family="Liberation Sans, sans-serif">a</text>
<rect x="265" y="22" width="55" height="225.8" fill="#f0f0f0"/>
<rect x="320" y="22" width="19" height="225.8" fill="#ffecec"/>
<rect x="264.6" y="13.6" width="54.75" height="4.1" fill="#e1e1e1"/>
<rect x="320.35" y="13.6" width="19.15" height="4.1" fill="#ff0000"/>
<rect x="339.5" y="13.6" width="94.83" height="4.1" fill="#000000"/>
<polygon points="255.5,205.16 256.3,210.14 257.1,210.41 257.9,207.32 258.7,205.59 259.5,204.57 260.3,206.15 261.1,204.42 261.9,202.23 262.7,201.43 263.5,206.21 264.3,212.27 265.1,210.44 265.9,208.76 266.7,204.3 267.5,192.19 268.3,186.46 269.1,176.94 269.9,168.58 270.7,159.47 271.5,146.06 272.3,137.29 273.1,128.89 273.9,120.24 274.7,110.25 275.5,105.72 276.3,99.96 277.1,94.47 277.9,94.37 278.7,98.48 279.5,104.87 280.3,103.96 281.1,102.98 281.9,103.88 282.7,108.37 283.5,117.42 284.3,121.47 285.1,120.89 285.9,126.23 286.7,127.1 287.5,133.69 288.3,138.81 289.1,143.78 289.9,148.9 290.7,149.77 291.5,155.21 292.3,152.56 293.1,152.39 293.9,151.6 294.7,143.6 295.5,143.38 296.3,149.19 297.1,155.53 297.9,169.89 298.7,179.17 299.5,175.37 300.3,175.58 301.1,182.88 301.9,189.64 302.7,190.95 303.5,199.77 304.3,207.28 305.1,209.22 305.9,201.76 306.7,201.58 307.5,202.47 308.3,202.75 309.1,198.3 309.9,200.72 310.7,193.46 311.5,192.49 312.3,192.44 313.1,188.03 313.9,179.76 314.7,176.8 315.5,173.13 316.3,174.18 317.1,171.34 317.9,179.93 318.7,181.23 319.5,176.37 320.3,178.11 321.1,181.36 321.9,181.48 322.7,180.96 323.5,180.95 324.3,185.41 325.1,186.37 325.9,184.8 326.7,182.44 327.5,180.07 328.3,181.5 329.1,178.3 329.9,172.64 330.7,168.13 331.5,166.33 332.3,163.39 333.1,160.81 333.9,157.1 334.7,142.88 335.5,139.25 336.3,124.41 337.1,117.37 337.9,112.68 338.7,103.85 339.5,97.17 340.3,100.32 341.1,109.79 341.9,116.16 342.7,114.37 343.5,120.99 344.3,120.14 345.1,126.4 345.9,131.54 346.7,139.39 347.5,151.17 348.3,170.4 349.1,180.71 349.9,189 350.7,193.24 351.5,192.7 352.3,189.86 353.1,187.61 353.9,190.45 354.7,199.49 355.5,199.1 356.3,194.39 357.1,190.87 357.9,188.2 358.7,183.88 359.5,180.4 360.3,177.77 361.1,179.93 361.9,175.65 362.7,172.75 363.5,169.13 364.3,162.91 365.1,162.2 365.9,158.8 366.7,166.14 367.5,167.6 368.3,160.78 369.1,162.56 369.9,165.85 370.7,162.62 371.5,164.3 372.3,166.57 373.1,166.28 373.9,167.58 374.7,159.32 375.5,161.19 376.3,153.01 377.1,152.6 377.9,162.77 378.7,167.21 379.5,164.6 380.3,160.13 381.1,161.56 381.9,160.18 382.7,162.63 383.5,171.49 384.3,169.83 385.1,173.27 385.9,182 386.7,181.41 387.5,183.69 388.3,186.24 389.1,185.41 389.9,193.26 390.7,188.43 391.5,190.8 392.3,190.92 393.1,185.54 393.9,183.93 394.7,181.77 395.5,180.04 396.3,180.25 397.1,179.75 397.9,179.26 398.7,179.74 399.5,186.68 400.3,186.61 401.1,185.85 401.9,186.63 402.7,180.59 403.5,181.4 404.3,177.32 405.1,170.89 405.9,166.85 406.7,162.14 407.5,162.71 408.3,161.83 409.1,170.55 409.9,178.75 410.7,182.43 411.5,182.78 412.3,187.88 413.1,189.47 413.9,184.62 414.7,184.75 415.5,181.89 416.3,182.63 417.1,181.03 417.9,176.71 418.7,175.55 419.5,175.34 420.3,177.89 421.1,180.08 421.9,181.17 422.7,184.98 423.5,184.04 424.3,184.33 425.1,186.86 425.9,185.46 426.7,191.89 427.5,188.76 428.3,190.71 429.1,196.58 429.9,193.79 430.7,193.38 431.3,190.59 431.3,219.13 430.7,223.57 429.9,223.78 429.1,221.89 428.3,224.91 427.5,222.84 426.7,221.88 425.9,215.77 425.1,218 424.3,218.62 423.5,218.91 422.7,215.07 421.9,212.52 421.1,210.4 420.3,209.38 419.5,207.03 418.7,207.24 417.9,212.14 417.1,212.32 416.3,217.61 415.5,215.2 414.7,219.48 413.9,215.54 413.1,218.52 412.3,211.04 411.5,208.69 410.7,208.48 409.9,207.76 409.1,201.93 408.3,194.57 407.5,194.79 406.7,193.93 405.9,191.23 405.1,196.92 404.3,202.17 403.5,212.5 402.7,209.01 401.9,211.71 401.1,217.83 400.3,213.36 399.5,213.11 398.7,214.96 397.9,213.95 397.1,216.09 396.3,213.97 395.5,212.94 394.7,215.62 393.9,221.08 393.1,219.73 392.3,221.67 391.5,218.85 390.7,222.43 389.9,220.23 389.1,217.3 388.3,215.94 387.5,214.55 386.7,216.7 385.9,220.43 385.1,212.33 384.3,209.68 383.5,206.41 382.7,202.62 381.9,198.05 381.1,202.56 380.3,203.11 379.5,203.25 378.7,207.07 377.9,199.84 377.1,196.79 376.3,198.83 375.5,201.4 374.7,200.84 373.9,204.13 373.1,206.13 372.3,210.73 371.5,213.68 370.7,208.27 369.9,201.23 369.1,201.65 368.3,207.77 367.5,209.57 366.7,202.91 365.9,205.64 365.1,208.07 364.3,206.26 363.5,207.86 362.7,205.28 361.9,212.06 361.1,218.17 360.3,220.31 359.5,220.34 358.7,222.38 357.9,224.02 357.1,227.2 356.3,228.77 355.5,233.34 354.7,229.89 353.9,221.67 353.1,220.99 352.3,223.2 351.5,219.84 350.7,221.65 349.9,213.13 349.1,210.04 348.3,206.63 347.5,191.02 346.7,176.24 345.9,170.76 345.1,166.61 344.3,166.9 343.5,166.75 342.7,168.11 341.9,159.61 341.1,160.72 340.3,149.86 339.5,150.18 338.7,155.93 337.9,154.39 337.1,160.27 336.3,168.9 335.5,174.6 334.7,181.69 333.9,191.78 333.1,191.94 332.3,194.62 331.5,195.18 330.7,196.21 329.9,202.45 329.1,203.49 328.3,204.21 327.5,207.81 326.7,207.53 325.9,211.76 325.1,217.99 324.3,215.35 323.5,210.97 322.7,206.15 321.9,205.76 321.1,203.87 320.3,204.86 319.5,207.89 318.7,204.88 317.9,201.17 317.1,202.84 316.3,198.48 315.5,194.71 314.7,199.21 313.9,202.73 313.1,207.18 312.3,213.93 311.5,216.08 310.7,219.39 309.9,217.86 309.1,218.89 308.3,223.41 307.5,230.82 306.7,233.73 305.9,230.17 305.1,230.83 304.3,230.9 303.5,224.4 302.7,221.81 301.9,213.74 301.1,208.81 300.3,208.55 299.5,200.68 298.7,202.08 297.9,194.27 297.1,187.07 296.3,185 295.5,180.02 294.7,178.23 293.9,185.71 293.1,192.66 292.3,191.57 291.5,194.14 290.7,193.05 289.9,190.29 289.1,187.3 288.3,187.85 287.5,183.03 286.7,173.89 285.9,171.41 285.1,169.98 284.3,174.41 283.5,168.72 282.7,169.55 281.9,166.63 281.1,162.47 280.3,162.25 279.5,164.62 278.7,163.99 277.9,153.44 277.1,152.36 276.3,156.67 275.5,162.62 274.7,164.9 273.9,165.64 273.1,169.7 272.3,180.47 271.5,185.07 270.7,194.05 269.9,204.79 269.1,209.31 268.3,212.65 267.5,212.11 266.7,219.24 265.9,222.96 265.1,230.64 264.3,230.84 263.5,223.84 262.7,219.52 261.9,221.42 261.1,220.4 260.3,221.85 259.5,224.03 258.7,225.82 257.9,227.41 257.1,223.65 256.3,217 255.5,217.63" fill="#ff0000" fill-opacity="0.5"/>
<polygon points="255.5,194.12 256.3,194.02 257.1,194.44 257.9,187.1 258.7,188.84 259.5,192.58 260.3,196.11 261.1,195.63 261.9,193.64 262.7,189.87 263.5,191.21 264.3,193.86 265.1,198.21 265.9,195.08 266.7,193.61 267.5,185.51 268.3,185.07 269.1,175.84 269.9,173.77 270.7,169.77 271.5,167.18 272.3,162.5 273.1,148.36 273.9,144.56 274.7,141.06 275.5,136.49 276.3,133.35 277.1,134.9 277.9,135.43 278.7,142.4 279.5,151.5 280.3,163.82 281.1,169.05 281.9,164.05 282.7,167.17 283.5,165.13 284.3,160.45 285.1,159.95 285.9,165.25 286.7,160.92 287.5,152.09 288.3,147.55 289.1,141.56 289.9,144.3 290.7,152.17 291.5,152.39 292.3,159.49 293.1,162.01 293.9,167.23 294.7,173.16 295.5,181.24 296.3,189.09 297.1,193.38 297.9,197.14 298.7,198.92 299.5,194.64 300.3,190.08 301.1,185.26 301.9,180.96 302.7,173.52 303.5,177.43 304.3,171.76 305.1,177.52 305.9,179.25 306.7,174.84 307.5,166.75 308.3,167.18 309.1,163.77 309.9,164.52 310.7,164.48 311.5,155.72 312.3,147.25 313.1,144.21 313.9,143.62 314.7,147.08 315.5,152.57 316.3,147.45 317.1,136.41 317.9,133.3 318.7,142.14 319.5,150.09 320.3,158.3 321.1,161.89 321.9,165.25 322.7,164.91 323.5,164.11 324.3,160.28 325.1,172.35 325.9,180.22 326.7,185.91 327.5,188.47 328.3,182.86 329.1,186.84 329.9,183.15 330.7,188.09 331.5,190.23 332.3,198.45 333.1,198.18 333.9,200.96 334.7,208.96 335.5,210.19 336.3,210.25 337.1,210.02 337.9,209.52 338.7,206.51 339.5,202.88 340.3,200.06 341.1,195.59 341.9,196.01 342.7,203.62 343.5,204.13 344.3,206.82 345.1,208.14 345.9,208.5 346.7,203.63 347.5,203.96 348.3,199.75 349.1,199.12 349.9,200.37 350.7,203.24 351.5,206.07 352.3,203.67 353.1,204.66 353.9,212.04 354.7,211.57 355.5,208.58 356.3,209.27 357.1,206.64 357.9,205.63 358.7,201.07 359.5,207.07 360.3,201.81 361.1,202.53 361.9,207.54 362.7,208.96 363.5,213.64 364.3,212.78 365.1,218.15 365.9,218.43 366.7,215.52 367.5,220.72 368.3,221 369.1,219.13 369.9,212.33 370.7,206.7 371.5,209.13 372.3,210.65 373.1,207 373.9,200.92 374.7,198.73 375.5,194.27 376.3,195.24 377.1,197.01 377.9,197.18 378.7,192.69 379.5,193.77 380.3,194.14 381.1,192.37 381.9,195.02 382.7,199.57 383.5,199.09 384.3,204.52 385.1,205.16 385.9,208.07 386.7,203.28 387.5,202.94 388.3,193.63 389.1,190.7 389.9,182.28 390.7,177.2 391.5,163.82 392.3,160.85 393.1,161.03 393.9,164.48 394.7,169.43 395.5,175.01 396.3,177.26 397.1,178.35 397.9,182.39 398.7,187.67 399.5,194.48 400.3,195.48 401.1,199.72 401.9,193.49 402.7,191.47 403.5,194.06 404.3,189.5 405.1,188.74 405.9,181.16 406.7,175.65 407.5,172.26 408.3,171.54 409.1,173.75 409.9,179.26 410.7,182.28 411.5,181.51 412.3,179.38 413.1,183.33 413.9,182.9 414.7,185.78 415.5,186.89 416.3,192.14 417.1,191.34 417.9,186.04 418.7,190.62 419.5,189.75 420.3,194.13 421.1,194.96 421.9,195.77 422.7,197.98 423.5,194.4 424.3,193.36 425.1,190.29 425.9,196.43 426.7,198.04 427.5,201.35 428.3,207.05 429.1,202.62 429.9,194.8 430.7,191.95 431.3,190.01 431.3,214.16 430.7,215.05 429.9,220.95 429.1,231.25 428.3,228.3 427.5,226.72 426.7,225.21 425.9,222.03 425.1,219.06 424.3,219.65 423.5,217.41 422.7,220 421.9,216.84 421.1,220.47 420.3,216.35 419.5,210.83 418.7,211.52 417.9,213.57 417.1,217.13 416.3,216.7 415.5,215.29 414.7,215.3 413.9,212.2 413.1,214.6 412.3,212.31 411.5,208.11 410.7,209.65 409.9,206.78 409.1,206.58 408.3,205.6 407.5,208.18 406.7,210.86 405.9,211.87 405.1,216.83 404.3,219.28 403.5,222.98 402.7,222.57 401.9,223.96 401.1,230.25 400.3,228.08 399.5,223.57 398.7,223.82 397.9,216.86 397.1,212.17 396.3,212.35 395.5,203.65 394.7,206.12 393.9,203.61 393.1,196.84 392.3,198.35 391.5,195.52 390.7,201.51 389.9,211.49 389.1,217.67 388.3,216.53 387.5,224.41 386.7,229.7 385.9,228.82 385.1,224.17 384.3,219.61 383.5,219.77 382.7,217.54 381.9,213.25 381.1,209.72 380.3,212.64 379.5,211.84 378.7,213.65 377.9,209.67 377.1,210.68 376.3,204.21 375.5,205.13 374.7,207.4 373.9,212.99 373.1,222.77 372.3,219.05 371.5,220.27 370.7,220.37 369.9,222.88 369.1,227.05 368.3,231.76 367.5,234.03 366.7,232.87 365.9,234.47 365.1,233.81 364.3,230.29 363.5,230.34 362.7,223.34 361.9,223.51 361.1,221.98 360.3,219.39 359.5,217.9 358.7,218.21 357.9,219.33 357.1,223.6 356.3,226.2 355.5,223.34 354.7,223.87 353.9,225.04 353.1,223.64 352.3,226.1 351.5,222.51 350.7,222.37 349.9,221.47 349.1,221.15 348.3,221 347.5,227.04 346.7,228.09 345.9,230.48 345.1,232.28 344.3,229.01 343.5,229.85 342.7,219.84 341.9,219.14 341.1,222.95 340.3,227.09 339.5,226.73 338.7,227.39 337.9,233 337.1,233.71 336.3,235.93 335.5,231.69 334.7,230.68 333.9,227.54 333.1,227.54 332.3,223.24 331.5,217.09 330.7,213.15 329.9,211.17 329.1,213.09 328.3,215.35 327.5,212.71 326.7,211.52 325.9,211.92 325.1,207.23 324.3,197.46 323.5,203.77 322.7,204.22 321.9,205.9 321.1,205.7 320.3,196.48 319.5,190 318.7,188.81 317.9,182.33 317.1,180.23 316.3,187.88 315.5,195.38 314.7,191.96 313.9,189.41 313.1,187.29 312.3,194.64 311.5,194.93 310.7,201.58 309.9,200.58 309.1,205.76 308.3,204.4 307.5,202.51 306.7,205.8 305.9,208.55 305.1,205 304.3,208.35 303.5,205.49 302.7,209.92 301.9,216.88 301.1,222.37 300.3,228.5 299.5,228.88 298.7,232.08 297.9,233.67 297.1,228.94 296.3,221.95 295.5,222.18 294.7,211.65 293.9,206.04 293.1,206.14 292.3,202.65 291.5,196.65 290.7,199.51 289.9,197.78 289.1,190.42 288.3,193.9 287.5,201.27 286.7,200.45 285.9,204.78 285.1,200.68 284.3,200.6 283.5,200.79 282.7,199.61 281.9,203.7 281.1,202.62 280.3,198.32 279.5,183.87 278.7,177.97 277.9,172.34 277.1,170.41 276.3,173.67 275.5,172.26 274.7,179.37 273.9,177.52 273.1,183.11 272.3,186.45 271.5,191.22 270.7,200.45 269.9,203.94 269.1,202.62 268.3,213.31 267.5,215.27 266.7,217.57 265.9,214.37 265.1,218.75 264.3,218.76 263.5,215.93 262.7,213.53 261.9,215.21 261.1,216.72 260.3,217.64 259.5,216.84 258.7,214.26 257.9,214.71 257.1,212.24 256.3,213.51 255.5,218.09" fill="#0000ff" fill-opacity="0.5"/>
<polygon points="255.5,203.06 256.3,197.83 257.1,194.34 257.9,198.71 258.7,196.29 259.5,199.35 260.3,202.49 261.1,202.11 261.9,205.04 262.7,203.04 263.5,204.25 264.3,205.31 265.1,202.71 265.9,203.86 266.7,205.14 267.5,206.49 268.3,201.39 269.1,194.36 269.9,200.5 270.7,197.53 271.5,192.8 272.3,190.7 273.1,192.95 273.9,193.08 274.7,193.13 275.5,192.36 276.3,200.04 277.1,200.71 277.9,197.13 278.7,198.77 279.5,201.23 280.3,203.09 281.1,199.21 281.9,203.74 282.7,207.74 283.5,213.53 284.3,209.74 285.1,208.79 285.9,207.86 286.7,200.9 287.5,202.1 288.3,204.65 289.1,202.25 289.9,201.77 290.7,198.98 291.5,196.85 292.3,196.55 293.1,198.07 293.9,201.67 294.7,201.98 295.5,197.79 296.3,198.03 297.1,197.48 297.9,198.43 298.7,194.88 299.5,199.98 300.3,201.28 301.1,201.13 301.9,200.81 302.7,208.53 303.5,212.04 304.3,209.51 305.1,209.47 305.9,212.78 306.7,211.59 307.5,211.09 308.3,213.94 309.1,211.26 309.9,214.65 310.7,209.27 311.5,213.55 312.3,213.94 313.1,210.42 313.9,211.69 314.7,212.94 315.5,212.46 316.3,214.45 317.1,213.49 317.9,215.05 318.7,213.16 319.5,217.75 320.3,214.07 321.1,217.89 321.9,217.3 322.7,214.27 323.5,211.95 324.3,209.77 325.1,211.22 325.9,206.3 326.7,207.59 327.5,206.18 328.3,206.94 329.1,200.82 329.9,202.76 330.7,202.73 331.5,197.76 332.3,196.66 333.1,199.14 333.9,201.9 334.7,201.98 335.5,198.93 336.3,204.25 337.1,210.38 337.9,207.08 338.7,211.18 339.5,211.68 340.3,208.08 341.1,204.86 341.9,204.28 342.7,207.19 343.5,203.06 344.3,199.75 345.1,201.31 345.9,200.68 346.7,203.8 347.5,202.5 348.3,204.42 349.1,204.92 349.9,205.14 350.7,204.96 351.5,209.74 352.3,206.09 353.1,205.22 353.9,203.6 354.7,204.72 355.5,201.98 356.3,203.13 357.1,196.59 357.9,193.37 358.7,193.58 359.5,194.94 360.3,194.9 361.1,200.66 361.9,200.76 362.7,198.98 363.5,201.41 364.3,205 365.1,203.77 365.9,211.65 366.7,212.92 367.5,213.5 368.3,215.89 369.1,213.91 369.9,213.78 370.7,211.18 371.5,213.97 372.3,216.39 373.1,211.88 373.9,211.32 374.7,205.4 375.5,208.69 376.3,211.6 377.1,207.88 377.9,203.13 378.7,204.21 379.5,203.71 380.3,200.7 381.1,202.74 381.9,206.09 382.7,200.95 383.5,206.08 384.3,204.22 385.1,205.04 385.9,204.36 386.7,201.6 387.5,200.4 388.3,201.28 389.1,205.39 389.9,210.15 390.7,209.82 391.5,208.21 392.3,204.28 393.1,206.29 393.9,204.59 394.7,200.74 395.5,197.52 396.3,200.91 397.1,198.44 397.9,199.08 398.7,202.9 399.5,202.12 400.3,207.14 401.1,207.25 401.9,211.5 402.7,213.36 403.5,208.99 404.3,214.94 405.1,216.12 405.9,215.44 406.7,218.46 407.5,213.48 408.3,209.65 409.1,208.14 409.9,206.31 410.7,207.98 411.5,208.3 412.3,199.92 413.1,200.89 413.9,197.32 414.7,196.29 415.5,195.76 416.3,192.63 417.1,189.68 417.9,194.53 418.7,195.36 419.5,202.47 420.3,203.31 421.1,203 421.9,207.54 422.7,206.69 423.5,204.63 424.3,205.55 425.1,206.53 425.9,205.16 426.7,208.49 427.5,206.21 428.3,206.94 429.1,202.74 429.9,199.41 430.7,199.36 431.3,199.13 431.3,217.03 430.7,218.31 429.9,218.1 429.1,218.6 428.3,218.51 427.5,223.76 426.7,225.42 425.9,222.76 425.1,222.72 424.3,225.09 423.5,222.1 422.7,221.78 421.9,221.56 421.1,216.67 420.3,213.62 419.5,213.54 418.7,210.85 417.9,210.04 417.1,208.53 416.3,205.46 415.5,211.6 414.7,215.91 413.9,215.13 413.1,216.74 412.3,217.4 411.5,222.9 410.7,223.8 409.9,222.92 409.1,227.4 408.3,223.69 407.5,221.97 406.7,225.9 405.9,226.58 405.1,227.86 404.3,227.48 403.5,224.9 402.7,222.55 401.9,224.34 401.1,220.9 400.3,215.69 399.5,217.88 398.7,219.13 397.9,218.36 397.1,215.56 396.3,215.11 395.5,211.96 394.7,215.78 393.9,218.28 393.1,219.12 392.3,217.74 391.5,218.71 390.7,223.87 389.9,226.85 389.1,223.78 388.3,220.46 387.5,218.93 386.7,215.45 385.9,215.34 385.1,214.98 384.3,217.05 383.5,217.63 382.7,216.33 381.9,217.66 381.1,218.13 380.3,217.23 379.5,217.23 378.7,216.62 377.9,215.86 377.1,220.33 376.3,223.28 375.5,221.64 374.7,224.21 373.9,226.04 373.1,224.72 372.3,225.79 371.5,229.34 370.7,231.82 369.9,230.17 369.1,228.19 368.3,229.72 367.5,225.78 366.7,225.59 365.9,223.13 365.1,222.49 364.3,218.13 363.5,213.91 362.7,214.05 361.9,216.06 361.1,210.82 360.3,211.43 359.5,210.46 358.7,211.57 357.9,207.94 357.1,204.24 356.3,209.85 355.5,211.91 354.7,216.99 353.9,218.74 353.1,219.57 352.3,219.35 351.5,218.97 350.7,221.56 349.9,220.81 349.1,220.13 348.3,216.03 347.5,215.87 346.7,219.42 345.9,214.52 345.1,219.22 344.3,219.75 343.5,221.38 342.7,222.01 341.9,216.89 341.1,221.98 340.3,225.65 339.5,227.65 338.7,226.83 337.9,225.5 337.1,225.56 336.3,219.74 335.5,218.54 334.7,216.88 333.9,215.28 333.1,216.45 332.3,215.68 331.5,216.77 330.7,215.94 329.9,218.04 329.1,218.42 328.3,222.84 327.5,225.12 326.7,223.09 325.9,222.97 325.1,223.86 324.3,224.96 323.5,224.83 322.7,231.65 321.9,229.92 321.1,229.07 320.3,229.9 319.5,228.05 318.7,225.08 317.9,228.45 317.1,228.24 316.3,230.71 315.5,229.32 314.7,226.56 313.9,228.4 313.1,227.86 312.3,227.04 311.5,225.75 310.7,227.28 309.9,229.43 309.1,224.6 308.3,222.39 307.5,226.21 306.7,231.5 305.9,227.55 305.1,221.48 304.3,220.32 303.5,221.27 302.7,220.3 301.9,216.93 301.1,219.44 300.3,216.43 299.5,211.96 298.7,209.56 297.9,208.86 297.1,212.04 296.3,210.98 295.5,213.3 294.7,216.81 293.9,216.14 293.1,212.52 292.3,212.69 291.5,216.64 290.7,213 289.9,213.12 289.1,213.84 288.3,217.64 287.5,213.35 286.7,214.66 285.9,221.66 285.1,223.24 284.3,224.05 283.5,226.25 282.7,222.83 281.9,216.56 281.1,214.08 280.3,216.29 279.5,212.95 278.7,211.21 277.9,211.55 277.1,207.34 276.3,208.33 275.5,206.81 274.7,208.5 273.9,207.34 273.1,209.12 272.3,205.4 271.5,208.63 270.7,210.72 269.9,213.18 269.1,213.91 268.3,216.28 267.5,216.81 266.7,213.45 265.9,219.19 265.1,215.95 264.3,214.91 263.5,219.78 262.7,216.78 261.9,216.86 261.1,218.42 260.3,222.07 259.5,217.24 258.7,211.08 257.9,211.96 257.1,209.4 256.3,211.09 255.5,216.95" fill="#7f7f7f" fill-opacity="0.4"/>
<polyline points="255.5,213.8 256.3,214.29 257.1,215.39 257.9,216.8 258.7,215.43 259.5,215.83 260.3,216.44 261.1,216.13 261.9,214.78 262.7,214.32 263.5,216.02 264.3,219.2 265.1,217.97 265.9,215.28 266.7,211.99 267.5,205.44 268.3,198.25 269.1,190.84 269.9,184.9 270.7,173.45 271.5,164.21 272.3,156.05 273.1,147.95 273.9,142.56 274.7,137.16 275.5,134.82 276.3,129.91 277.1,126.36 277.9,126.17 278.7,132.3 279.5,133.69 280.3,130.86 281.1,130.07 281.9,134.92 282.7,139.83 283.5,143.54 284.3,145.53 285.1,144.74 285.9,148.39 286.7,153.3 287.5,160.15 288.3,163.7 289.1,167.31 289.9,172.28 290.7,173.51 291.5,174.13 292.3,174.17 293.1,171.4 293.9,167.28 294.7,162.77 295.5,161.82 296.3,166.53 297.1,172.67 297.9,181.53 298.7,189.24 299.5,190.69 300.3,193.13 301.1,197 301.9,203.18 302.7,207.84 303.5,211.3 304.3,216.75 305.1,220.33 305.9,217.05 306.7,217.44 307.5,213.41 308.3,213.08 309.1,210.2 309.9,209.25 310.7,207.87 311.5,204.03 312.3,201.87 313.1,196.82 313.9,194.08 314.7,188.35 315.5,184.86 316.3,185.52 317.1,186.27 317.9,189.88 318.7,189.45 319.5,190.68 320.3,191.22 321.1,194.21 321.9,195.01 322.7,195.62 323.5,196.84 324.3,197.93 325.1,199.48 325.9,198.63 326.7,196.14 327.5,195.5 328.3,192.81 329.1,189.24 329.9,187.44 330.7,184.79 331.5,182.57 332.3,179.35 333.1,175.24 333.9,171.43 334.7,164.57 335.5,157.91 336.3,149.3 337.1,140.7 337.9,134.59 338.7,129.68 339.5,123.93 340.3,128.63 341.1,135.75 341.9,138.24 342.7,141.59 343.5,144.13 344.3,144.71 345.1,147 345.9,152.14 346.7,159.72 347.5,171.75 348.3,185.63 349.1,196.03 349.9,201.49 350.7,205.66 351.5,204.16 352.3,205.27 353.1,206.11 353.9,209.58 354.7,215.67 355.5,218.37 356.3,215.62 357.1,210.51 357.9,205.07 358.7,203.75 359.5,200.65 360.3,199.68 361.1,195.96 361.9,190.37 362.7,186.62 363.5,185.65 364.3,182.57 365.1,183.94 365.9,180.79 366.7,184.86 367.5,187.1 368.3,183.86 369.1,181.1 369.9,183.09 370.7,186.08 371.5,189.38 372.3,189.08 373.1,188.21 373.9,186.64 374.7,182.26 375.5,179.54 376.3,174.79 377.1,177.23 377.9,181.98 378.7,185.84 379.5,182.51 380.3,182.37 381.1,178.88 381.9,180.67 382.7,182.69 383.5,187.99 384.3,190.69 385.1,196.11 385.9,200.67 386.7,199.21 387.5,197.49 388.3,198.2 389.1,201.2 389.9,207.14 390.7,207.35 391.5,206.07 392.3,207 393.1,202.87 393.9,201.94 394.7,198.55 395.5,196.49 396.3,197.67 397.1,199.72 397.9,200.03 398.7,200.87 399.5,201.45 400.3,202.46 401.1,201.75 401.9,198.96 402.7,198.14 403.5,195.04 404.3,189 405.1,185.44 405.9,180.23 406.7,180.4 407.5,179.78 408.3,181.4 409.1,185.35 409.9,190.03 410.7,192.79 411.5,195.93 412.3,199.71 413.1,201.91 413.9,202.47 414.7,202.06 415.5,200.65 416.3,199.31 417.1,197.71 417.9,195.77 418.7,195.52 419.5,194.79 420.3,193.65 421.1,192.38 421.9,193.79 422.7,195.83 423.5,199.3 424.3,200.95 425.1,202.98 425.9,203.73 426.7,207.36 427.5,206.39 428.3,209.47 429.1,209.67 429.9,209.47 430.7,208.39 431.3,205.25" fill="none" stroke="#ff0000" stroke-width="1.7" stroke-linejoin="round"/>
<polyline points="255.5,206.23 256.3,205.03 257.1,202.48 257.9,200.95 258.7,201.64 259.5,204.93 260.3,206.53 261.1,204.03 261.9,202.2 262.7,199.67 263.5,200.43 264.3,203.57 265.1,206.61 265.9,204.27 266.7,203.62 267.5,199.55 268.3,195.6 269.1,189.6 269.9,187.18 270.7,181.73 271.5,177.86 272.3,172.85 273.1,166.57 273.9,163.44 274.7,160.5 275.5,155.82 276.3,154.69 277.1,153.66 277.9,156.97 278.7,163.18 279.5,167.02 280.3,179.05 281.1,186.38 281.9,184.87 282.7,182.6 283.5,181.31 284.3,181.61 285.1,182.53 285.9,186.64 286.7,182.27 287.5,177.4 288.3,169.55 289.1,167.74 289.9,171.13 290.7,173.92 291.5,177.07 292.3,180.38 293.1,184.64 293.9,186.67 294.7,193.28 295.5,200.69 296.3,203.93 297.1,210.2 297.9,214.79 298.7,215.35 299.5,213.16 300.3,210.05 301.1,204.01 301.9,200.04 302.7,193.27 303.5,191.28 304.3,190.68 305.1,192.14 305.9,191.95 306.7,189.02 307.5,187.14 308.3,186.32 309.1,186.43 309.9,184.32 310.7,182.91 311.5,177.6 312.3,172.49 313.1,166.8 313.9,169.13 314.7,172.29 315.5,176.89 316.3,168.36 317.1,160.43 317.9,159.49 318.7,163.57 319.5,169.21 320.3,178.5 321.1,185.81 321.9,189 322.7,186.51 323.5,183.4 324.3,180.91 325.1,188.54 325.9,194.14 326.7,198 327.5,199.85 328.3,200.34 329.1,201.66 329.9,200.54 330.7,199.95 331.5,201.22 332.3,208.9 333.1,212.76 333.9,217.85 334.7,220.62 335.5,221.52 336.3,221.21 337.1,221.88 337.9,218.98 338.7,218.6 339.5,216.28 340.3,213.14 341.1,208.85 341.9,206.62 342.7,211.11 343.5,216.79 344.3,221.17 345.1,219.49 345.9,217.47 346.7,215.5 347.5,216.15 348.3,213.63 349.1,213.7 349.9,211.55 350.7,211.71 351.5,213.74 352.3,214.85 353.1,217.42 353.9,218.83 354.7,219.27 355.5,217.54 356.3,216.4 357.1,212.78 357.9,212.93 358.7,212.19 359.5,213.62 360.3,211.48 361.1,214.55 361.9,217.91 362.7,217.33 363.5,220.54 364.3,222.53 365.1,224.85 365.9,225.61 366.7,225.23 367.5,226.26 368.3,225.38 369.1,222.37 369.9,216.74 370.7,214.93 371.5,214.81 372.3,214.56 373.1,213.11 373.9,205.05 374.7,201.72 375.5,201.48 376.3,199.74 377.1,200.71 377.9,201.82 378.7,203.86 379.5,204.68 380.3,203.01 381.1,200.69 381.9,202.09 382.7,207.15 383.5,210.75 384.3,211.7 385.1,214.03 385.9,215.44 386.7,215.83 387.5,211.58 388.3,204.8 389.1,201.48 389.9,193.65 390.7,188.11 391.5,179.07 392.3,179.96 393.1,178.74 393.9,183.42 394.7,185.92 395.5,188.44 396.3,193.09 397.1,196.77 397.9,202.47 398.7,205.18 399.5,209.81 400.3,214.31 401.1,214.74 401.9,210.65 402.7,210.14 403.5,206.8 404.3,203.26 405.1,199.9 405.9,194.32 406.7,192.5 407.5,189.44 408.3,187.33 409.1,187.32 409.9,190.97 410.7,193.48 411.5,193.3 412.3,194.45 413.1,198.15 413.9,198.01 414.7,200.1 415.5,202.65 416.3,206.27 417.1,205.49 417.9,203.47 418.7,203.03 419.5,202.23 420.3,204.92 421.1,205.65 421.9,206.44 422.7,206.58 423.5,207.06 424.3,207.28 425.1,207.68 425.9,209.85 426.7,210.7 427.5,213.75 428.3,216.05 429.1,216.66 429.9,210.34 430.7,204.04 431.3,200.27" fill="none" stroke="#0000ff" stroke-width="1.7" stroke-linejoin="round"/>
<polyline points="255.5,207.07 256.3,205.2 257.1,204.81 257.9,208.22 258.7,206.96 259.5,208.01 260.3,211.26 261.1,212 261.9,213.22 262.7,211.05 263.5,212.63 264.3,210.59 265.1,210.46 265.9,210.84 266.7,209.48 267.5,209.33 268.3,207.82 269.1,204.38 269.9,205.39 270.7,203.69 271.5,201.49 272.3,200.91 273.1,202.9 273.9,202.45 274.7,203.49 275.5,203.7 276.3,205.09 277.1,204.78 277.9,205.82 278.7,206.5 279.5,206.37 280.3,209.41 281.1,209 281.9,212.84 282.7,216.31 283.5,218.17 284.3,215.34 285.1,215.59 285.9,213.87 286.7,210.72 287.5,208.78 288.3,209.38 289.1,207.26 289.9,209.05 290.7,207.58 291.5,207.85 292.3,207.88 293.1,209.01 293.9,210.37 294.7,207.63 295.5,206.3 296.3,205.75 297.1,203.78 297.9,204.27 298.7,204.84 299.5,205.06 300.3,207.01 301.1,209.06 301.9,209.97 302.7,214.96 303.5,215.8 304.3,216.52 305.1,217.19 305.9,219.63 306.7,220.82 307.5,219.53 308.3,218.51 309.1,217.01 309.9,218.95 310.7,216.99 311.5,218.21 312.3,218.14 313.1,218.36 313.9,218.81 314.7,218.71 315.5,218.52 316.3,220.41 317.1,221.95 317.9,222.18 318.7,221.23 319.5,223.03 320.3,221.36 321.1,221.63 321.9,222.6 322.7,222.58 323.5,220 324.3,219.75 325.1,217.6 325.9,216.27 326.7,214.89 327.5,214.63 328.3,212.51 329.1,209.93 329.9,209.23 330.7,208.04 331.5,206.04 332.3,206.7 333.1,208.1 333.9,208.54 334.7,210.53 335.5,209.92 336.3,213.06 337.1,215.84 337.9,215.94 338.7,215.74 339.5,217.77 340.3,217.15 341.1,215.39 341.9,213.42 342.7,215.11 343.5,212.65 344.3,210.58 345.1,209.64 345.9,209.88 346.7,211.96 347.5,210.25 348.3,210.3 349.1,210.98 349.9,213.72 350.7,214.76 351.5,215.2 352.3,215.71 353.1,215.78 353.9,214.87 354.7,210.93 355.5,208.42 356.3,206.96 357.1,201.59 357.9,200.82 358.7,201.23 359.5,200.54 360.3,203.3 361.1,206.02 361.9,207.83 362.7,209.23 363.5,210.64 364.3,212.36 365.1,213.38 365.9,216.71 366.7,216.25 367.5,219.14 368.3,219.57 369.1,218.42 369.9,219.64 370.7,220.18 371.5,218.49 372.3,219.58 373.1,217.88 373.9,218.78 374.7,215.56 375.5,215.96 376.3,216.2 377.1,214.82 377.9,211.6 378.7,210.93 379.5,208.55 380.3,209.26 381.1,211.82 381.9,212.82 382.7,211.07 383.5,211.95 384.3,212.12 385.1,210.03 385.9,210.97 386.7,210.81 387.5,211.54 388.3,212.44 389.1,215.54 389.9,216.44 390.7,214.51 391.5,213.48 392.3,212.03 393.1,212.4 393.9,209.65 394.7,208 395.5,207.54 396.3,209.18 397.1,207.84 397.9,209.1 398.7,211.72 399.5,212.75 400.3,212.61 401.1,215.25 401.9,216.06 402.7,217.83 403.5,218.54 404.3,220.03 405.1,220.28 405.9,221.26 406.7,222.35 407.5,219.54 408.3,219.65 409.1,218.65 409.9,215.87 410.7,213.37 411.5,212.42 412.3,208.59 413.1,209.53 413.9,207.62 414.7,206.35 415.5,204.87 416.3,200.97 417.1,199.61 417.9,201.45 418.7,204.15 419.5,207.35 420.3,209.7 421.1,210.28 421.9,212.77 422.7,214.16 423.5,213.5 424.3,215.86 425.1,216.12 425.9,214.94 426.7,214.81 427.5,213.99 428.3,212.76 429.1,210.9 429.9,209.84 430.7,208.93 431.3,207.78" fill="none" stroke="#7f7f7f" stroke-width="1.4" stroke-linejoin="round"/>
<path d="M255.5 20.8 V248.5 H431.55" fill="none" stroke="#747474" stroke-width="1.1"/>
<path d="M255.5 227.5 H259.8" stroke="#747474" stroke-width="1"/>
<text x="250.9" y="230.5" font-size="10.2" text-anchor="end" fill="#262626" font-family="Liberation Sans, sans-serif">0</text>
<path d="M255.5 90.5 H259.8" stroke="#747474" stroke-width="1"/>
<text x="250.9" y="93.5" font-size="10.2" text-anchor="end" fill="#262626" font-family="Liberation Sans, sans-serif">2</text>
<path d="M264.5 248.5 V244" stroke="#747474" stroke-width="1"/>
<text x="264.6" y="262" font-size="10.2" text-anchor="middle" fill="#262626" font-family="Liberation Sans, sans-serif">−4</text>
<path d="M283.5 248.5 V244" stroke="#747474" stroke-width="1"/>
<text x="283.15" y="262" font-size="10.2" text-anchor="middle" fill="#262626" font-family="Liberation Sans, sans-serif">−3</text>
<path d="M301.5 248.5 V244" stroke="#747474" stroke-width="1"/>
<text x="301.7" y="262" font-size="10.2" text-anchor="middle" fill="#262626" font-family="Liberation Sans, sans-serif">−2</text>
<path d="M320.5 248.5 V244" stroke="#747474" stroke-width="1"/>
<text x="320.25" y="262" font-size="10.2" text-anchor="middle" fill="#262626" font-family="Liberation Sans, sans-serif">−1</text>
<path d="M338.5 248.5 V244" stroke="#747474" stroke-width="1"/>
<text x="338.8" y="262" font-size="10.2" text-anchor="middle" fill="#262626" font-family="Liberation Sans, sans-serif">0</text>
<path d="M357.5 248.5 V244" stroke="#747474" stroke-width="1"/>
<text x="357.35" y="262" font-size="10.2" text-anchor="middle" fill="#262626" font-family="Liberation Sans, sans-serif">1</text>
<path d="M375.5 248.5 V244" stroke="#747474" stroke-width="1"/>
<text x="375.9" y="262" font-size="10.2" text-anchor="middle" fill="#262626" font-family="Liberation Sans, sans-serif">2</text>
<path d="M394.5 248.5 V244" stroke="#747474" stroke-width="1"/>
<text x="394.45" y="262" font-size="10.2" text-anchor="middle" fill="#262626" font-family="Liberation Sans, sans-serif">3</text>
<path d="M413.5 248.5 V244" stroke="#747474" stroke-width="1"/>
<text x="413" y="262" font-size="10.2" text-anchor="middle" fill="#262626" font-family="Liberation Sans, sans-serif">4</text>
<path d="M431.5 248.5 V244" stroke="#747474" stroke-width="1"/>
<text x="431.55" y="262" font-size="10.2" text-anchor="middle" fill="#262626" font-family="Liberation Sans, sans-serif">5</text>
<text x="343.44" y="275.2" font-size="11.2" text-anchor="middle" fill="#262626" font-family="Liberation Sans, sans-serif">Time (s)</text>
<text transform="translate(236,134.9) rotate(-90)" font-size="11.55" text-anchor="middle" fill="#262626" font-family="Liberation Sans, sans-serif">Firing rate (Hz)</text>
<text x="226.6" y="11.9" font-size="16" font-weight="bold" fill="#000" font-family="Liberation Sans, sans-serif">b</text>
<rect x="506" y="22" width="56" height="225.8" fill="#f0f0f0"/>
<rect x="562" y="22" width="19" height="225.8" fill="#ffecec"/>
<rect x="506.5" y="13.6" width="54.75" height="4.1" fill="#e1e1e1"/>
<rect x="562.25" y="13.6" width="19.15" height="4.1" fill="#ff0000"/>
<rect x="581.4" y="13.6" width="94.83" height="4.1" fill="#000000"/>
<polygon points="497.5,153.86 498.3,153.22 499.1,152.02 499.9,156.46 500.7,158.27 501.5,161.12 502.3,161.29 503.1,166.95 503.9,170.09 504.7,169.37 505.5,165.71 506.3,162.46 507.1,158.37 507.9,154.23 508.7,157.55 509.5,156.09 510.3,151.56 511.1,149.41 511.9,143.71 512.7,137.12 513.5,132.35 514.3,126.55 515.1,124.78 515.9,123.32 516.7,117.29 517.5,109.07 518.3,107.81 519.1,99.48 519.9,105.04 520.7,113.04 521.5,112.62 522.3,112.4 523.1,105.68 523.9,104.52 524.7,111.13 525.5,111.28 526.3,114.77 527.1,119.35 527.9,127.93 528.7,133.07 529.5,133.4 530.3,137.47 531.1,141.53 531.9,141.73 532.7,149.88 533.5,152.15 534.3,157.82 535.1,162.74 535.9,161.91 536.7,167.27 537.5,166.32 538.3,170.1 539.1,169.27 539.9,170.24 540.7,164.47 541.5,163.58 542.3,162.45 543.1,161.35 543.9,157.86 544.7,154.27 545.5,148.4 546.3,152.97 547.1,152.9 547.9,154.95 548.7,157.41 549.5,160.61 550.3,162.39 551.1,167.37 551.9,166.22 552.7,165.63 553.5,171.31 554.3,172.51 555.1,179.06 555.9,178.37 556.7,178.8 557.5,178.34 558.3,173.1 559.1,172.38 559.9,169.41 560.7,163.29 561.5,159.21 562.3,152.96 563.1,151.11 563.9,150.77 564.7,148.05 565.5,152.77 566.3,148.04 567.1,149.63 567.9,149.82 568.7,155.98 569.5,161.04 570.3,160.58 571.1,160.8 571.9,162.57 572.7,161.56 573.5,165.08 574.3,160.93 575.1,160.32 575.9,157.69 576.7,156.92 577.5,153.6 578.3,152.58 579.1,150.47 579.9,143.64 580.7,142.66 581.5,137.24 582.3,138.22 583.1,137.34 583.9,129.1 584.7,132.86 585.5,137.57 586.3,145.15 587.1,148.02 587.9,147.45 588.7,146.38 589.5,142.83 590.3,139.8 591.1,139.82 591.9,137.52 592.7,135.04 593.5,141.5 594.3,140.62 595.1,142.76 595.9,149.85 596.7,151.92 597.5,153.21 598.3,154.35 599.1,158.83 599.9,155.78 600.7,159.4 601.5,158.17 602.3,153.56 603.1,151.61 603.9,151.91 604.7,154.32 605.5,153.64 606.3,147.25 607.1,149.46 607.9,146.32 608.7,143.27 609.5,147.54 610.3,147.05 611.1,151.07 611.9,148.95 612.7,143.85 613.5,139.78 614.3,140.54 615.1,137.2 615.9,135.48 616.7,137.78 617.5,140.83 618.3,139.44 619.1,139.79 619.9,138.21 620.7,137.6 621.5,136.61 622.3,140.95 623.1,146.83 623.9,156.16 624.7,160.38 625.5,160.57 626.3,163.56 627.1,169.24 627.9,166.82 628.7,160.76 629.5,162.32 630.3,170.01 631.1,171 631.9,166.86 632.7,168.41 633.5,162.08 634.3,160.02 635.1,159.68 635.9,150.24 636.7,149.9 637.5,149.82 638.3,148.54 639.1,148.06 639.9,147.86 640.7,139.49 641.5,141.26 642.3,142.77 643.1,152.13 643.9,157 644.7,156.77 645.5,156.84 646.3,157.88 647.1,157.65 647.9,161.16 648.7,162.36 649.5,171.56 650.3,169.71 651.1,165.97 651.9,171.36 652.7,164.74 653.5,171.84 654.3,168.97 655.1,169.77 655.9,169.6 656.7,172.63 657.5,174.95 658.3,180.1 659.1,176.14 659.9,169.82 660.7,169.25 661.5,172.85 662.3,170.02 663.1,166.53 663.9,170.89 664.7,164.12 665.5,168.47 666.3,167.66 667.1,163.9 667.9,168.79 668.7,170.72 669.5,171.94 670.3,175.6 671.1,174.98 671.9,176.02 672.7,167.74 672.9,166.61 672.9,196.41 672.7,198.09 671.9,200.84 671.1,198.48 670.3,200.09 669.5,198.29 668.7,201.31 667.9,197.15 667.1,194.09 666.3,191.9 665.5,191.54 664.7,194.66 663.9,201.6 663.1,197.05 662.3,195.51 661.5,199.72 660.7,197.4 659.9,201.76 659.1,204.28 658.3,209.11 657.5,203.2 656.7,207.22 655.9,207.6 655.1,204.57 654.3,203.24 653.5,201.13 652.7,202.81 651.9,204.19 651.1,202.33 650.3,201.74 649.5,202.63 648.7,197.98 647.9,196.22 647.1,193.61 646.3,194.97 645.5,192.68 644.7,187.38 643.9,184.55 643.1,178.63 642.3,174.75 641.5,171.39 640.7,168.94 639.9,175.24 639.1,173.72 638.3,172.28 637.5,176.98 636.7,183.82 635.9,186.49 635.1,191.38 634.3,188.1 633.5,193.68 632.7,196.38 631.9,201.19 631.1,201.61 630.3,201.1 629.5,197.35 628.7,192.62 627.9,193.77 627.1,195.19 626.3,198.35 625.5,198.6 624.7,191.6 623.9,187.63 623.1,180.7 622.3,174.19 621.5,173.73 620.7,171.3 619.9,171.62 619.1,169.34 618.3,171.9 617.5,172.72 616.7,169.7 615.9,169.32 615.1,169.95 614.3,170.52 613.5,176.64 612.7,179.61 611.9,176.75 611.1,181.99 610.3,181.25 609.5,178.77 608.7,177.31 607.9,173.92 607.1,179.7 606.3,179.38 605.5,177.12 604.7,184.69 603.9,184.83 603.1,183.95 602.3,186.18 601.5,186.19 600.7,182.37 599.9,185.67 599.1,188.38 598.3,185.88 597.5,179.8 596.7,182.03 595.9,179.6 595.1,173.26 594.3,166.36 593.5,169.53 592.7,163.8 591.9,159.79 591.1,163.73 590.3,164.45 589.5,165.82 588.7,168.05 587.9,169.03 587.1,167.87 586.3,167.17 585.5,166.86 584.7,161.28 583.9,158.83 583.1,162.72 582.3,166.47 581.5,170.24 580.7,173.76 579.9,171.53 579.1,176.29 578.3,182.49 577.5,180.84 576.7,190.68 575.9,186.68 575.1,192.17 574.3,190.33 573.5,198.13 572.7,191.82 571.9,195.6 571.1,188.59 570.3,189.26 569.5,187.65 568.7,184.19 567.9,183.91 567.1,180.59 566.3,182.83 565.5,184.25 564.7,181.38 563.9,184 563.1,188.75 562.3,191.38 561.5,195.54 560.7,193.33 559.9,198.3 559.1,200.52 558.3,205.23 557.5,207.75 556.7,206.91 555.9,204.46 555.1,206.98 554.3,205.59 553.5,200.83 552.7,201.27 551.9,198.81 551.1,193.57 550.3,192.25 549.5,192.81 548.7,191.66 547.9,186.32 547.1,182.16 546.3,185.14 545.5,181.72 544.7,182.75 543.9,187.08 543.1,189.52 542.3,187.32 541.5,196.68 540.7,192.53 539.9,197.36 539.1,196.15 538.3,192.47 537.5,192.06 536.7,198.19 535.9,193.7 535.1,194.31 534.3,189.97 533.5,187.32 532.7,183.55 531.9,177.6 531.1,171.71 530.3,166.67 529.5,168.81 528.7,169.76 527.9,167.68 527.1,163.25 526.3,158.26 525.5,158.06 524.7,153.66 523.9,155.28 523.1,153.75 522.3,155.15 521.5,152.73 520.7,157.22 519.9,154.14 519.1,151.2 518.3,160.06 517.5,164.8 516.7,168.14 515.9,167.77 515.1,166.07 514.3,162.98 513.5,167.18 512.7,168.79 511.9,174.14 511.1,180.01 510.3,182.9 509.5,191.25 508.7,187.8 507.9,183.58 507.1,185.66 506.3,187.92 505.5,192.29 504.7,189.53 503.9,192.75 503.1,192.37 502.3,185.26 501.5,187.38 500.7,185.36 499.9,178.91 499.1,177.47 498.3,176.42 497.5,174.17" fill="#ff0000" fill-opacity="0.5"/>
<polygon points="497.5,177.36 498.3,175.3 499.1,172.22 499.9,170.09 500.7,174.77 501.5,174.93 502.3,176.7 503.1,179.86 503.9,181.31 504.7,185.39 505.5,184.77 506.3,181.49 507.1,178.25 507.9,174.78 508.7,172.04 509.5,177.56 510.3,168.7 511.1,167.01 511.9,169.53 512.7,161.11 513.5,154.96 514.3,150.58 515.1,150.22 515.9,146.93 516.7,141.31 517.5,132.73 518.3,135.18 519.1,132.28 519.9,130.88 520.7,134.17 521.5,133.51 522.3,135.44 523.1,138.94 523.9,143.29 524.7,138.88 525.5,142.05 526.3,146.05 527.1,144 527.9,139.82 528.7,144.01 529.5,147.25 530.3,148.67 531.1,149.66 531.9,153.96 532.7,151.43 533.5,150.14 534.3,153.33 535.1,153.33 535.9,154.7 536.7,155.58 537.5,157.21 538.3,159.58 539.1,154.25 539.9,148.15 540.7,141.16 541.5,133.41 542.3,138.77 543.1,137.48 543.9,143.73 544.7,143.33 545.5,152.5 546.3,156.02 547.1,160.07 547.9,160.6 548.7,157.63 549.5,159.54 550.3,169.59 551.1,172.06 551.9,173.61 552.7,169.02 553.5,170.56 554.3,168.89 555.1,162.28 555.9,163.76 556.7,158.84 557.5,157.89 558.3,154.65 559.1,157.74 559.9,149.85 560.7,150.19 561.5,148.43 562.3,149.78 563.1,150.05 563.9,145.34 564.7,143.34 565.5,144.69 566.3,138.98 567.1,139.01 567.9,140.73 568.7,138.96 569.5,134.35 570.3,134.08 571.1,133.63 571.9,129.23 572.7,125.03 573.5,126.79 574.3,120.89 575.1,121.73 575.9,123.54 576.7,126.74 577.5,129.34 578.3,131.14 579.1,128.83 579.9,131.38 580.7,130.13 581.5,132.04 582.3,129.8 583.1,133.16 583.9,124.6 584.7,120.02 585.5,116.5 586.3,110.63 587.1,101.21 587.9,92.14 588.7,88.22 589.5,84.38 590.3,82.92 591.1,91.84 591.9,94 592.7,103.39 593.5,121.13 594.3,125.05 595.1,126.16 595.9,134.04 596.7,137.92 597.5,135.42 598.3,143.39 599.1,147.89 599.9,146.28 600.7,144.07 601.5,141.21 602.3,144.42 603.1,140.31 603.9,134.29 604.7,125.14 605.5,117.45 606.3,111.87 607.1,105.44 607.9,90.93 608.7,76.77 609.5,72.56 610.3,68.26 611.1,68.73 611.9,72.49 612.7,72.41 613.5,74.28 614.3,78.18 615.1,79.27 615.9,85.31 616.7,84.82 617.5,88.32 618.3,96.19 619.1,94.5 619.9,95.36 620.7,103.55 621.5,102.97 622.3,105.57 623.1,103.01 623.9,104.13 624.7,110.75 625.5,115.28 626.3,118.41 627.1,124.46 627.9,127 628.7,134.47 629.5,141.01 630.3,142.26 631.1,142.29 631.9,145.76 632.7,147.2 633.5,141.1 634.3,145.84 635.1,143.77 635.9,140.85 636.7,135.81 637.5,131.5 638.3,132.59 639.1,132.15 639.9,128.2 640.7,130.14 641.5,127.78 642.3,126.99 643.1,132.95 643.9,132.68 644.7,139.08 645.5,140.44 646.3,142.08 647.1,144.94 647.9,150.42 648.7,147.03 649.5,148.36 650.3,149.32 651.1,154.53 651.9,158.41 652.7,154.46 653.5,149.31 654.3,152.4 655.1,152.01 655.9,154.63 656.7,158.29 657.5,156.07 658.3,153.36 659.1,153.87 659.9,153.3 660.7,156.09 661.5,165.18 662.3,169.86 663.1,176.21 663.9,173.91 664.7,175.3 665.5,171.96 666.3,169.8 667.1,160.9 667.9,159.49 668.7,155.65 669.5,155.95 670.3,152.88 671.1,143.69 671.9,144.03 672.7,141.07 672.9,139.01 672.9,180.71 672.7,177.36 671.9,181.52 671.1,183.79 670.3,186.88 669.5,196.05 668.7,197.16 667.9,195.28 667.1,196.61 666.3,206.27 665.5,208.48 664.7,202.31 663.9,203.26 663.1,201.4 662.3,196.51 661.5,198.21 660.7,192.93 659.9,186.94 659.1,187.23 658.3,185.82 657.5,189.79 656.7,189.35 655.9,181.89 655.1,182.59 654.3,187.23 653.5,187.33 652.7,188.18 651.9,191.03 651.1,187.65 650.3,186.85 649.5,183.91 648.7,185.97 647.9,181.87 647.1,178.64 646.3,172.78 645.5,172.98 644.7,169.42 643.9,165.94 643.1,165.02 642.3,160.31 641.5,162.34 640.7,166.11 639.9,169.99 639.1,171.36 638.3,169.38 637.5,172.1 636.7,169.09 635.9,174.63 635.1,177.92 634.3,182.86 633.5,185.73 632.7,184.5 631.9,186.38 631.1,181.86 630.3,181.23 629.5,180.23 628.7,172.34 627.9,170.4 627.1,169.26 626.3,165.85 625.5,154.5 624.7,149.72 623.9,147.19 623.1,146.43 622.3,149.03 621.5,153.68 620.7,154.19 619.9,147.55 619.1,151.16 618.3,148.84 617.5,142.16 616.7,138.39 615.9,142.46 615.1,141.76 614.3,141.85 613.5,139.74 612.7,133.77 611.9,133.56 611.1,135.1 610.3,133.41 609.5,135.24 608.7,143.61 607.9,154.58 607.1,169.1 606.3,170.5 605.5,179.65 604.7,180.04 603.9,189.27 603.1,190.03 602.3,194.65 601.5,198.9 600.7,201.06 599.9,198.76 599.1,196.18 598.3,189.97 597.5,189.71 596.7,184.12 595.9,185.45 595.1,179.77 594.3,180.11 593.5,174 592.7,158.72 591.9,153.96 591.1,155.72 590.3,152.14 589.5,151.42 588.7,152.82 587.9,156.78 587.1,162.55 586.3,162.87 585.5,170.2 584.7,179 583.9,179.26 583.1,185.06 582.3,185.75 581.5,181.04 580.7,181.15 579.9,179.57 579.1,180.03 578.3,175.47 577.5,169.44 576.7,169.14 575.9,166.4 575.1,161.19 574.3,160.44 573.5,168.64 572.7,164.78 571.9,167.86 571.1,165.04 570.3,166.79 569.5,172.36 568.7,173.78 567.9,173.89 567.1,178.05 566.3,177.61 565.5,174.58 564.7,172.5 563.9,176.24 563.1,178.34 562.3,179.54 561.5,181.49 560.7,183.46 559.9,185.44 559.1,184.95 558.3,182.54 557.5,184.73 556.7,193.13 555.9,196.22 555.1,200.26 554.3,203.97 553.5,202.67 552.7,203.3 551.9,207.25 551.1,199.09 550.3,198.22 549.5,194.8 548.7,195.5 547.9,197.63 547.1,193.87 546.3,192.07 545.5,186.47 544.7,180.3 543.9,173.98 543.1,169.62 542.3,169.91 541.5,167.82 540.7,175.34 539.9,186.44 539.1,188.8 538.3,194.29 537.5,189.3 536.7,187.23 535.9,187.03 535.1,190.78 534.3,186.44 533.5,186.53 532.7,184.21 531.9,188 531.1,186.7 530.3,176.22 529.5,174.09 528.7,173.97 527.9,173.34 527.1,177.13 526.3,174.32 525.5,173.33 524.7,172.59 523.9,171.6 523.1,173.85 522.3,166.76 521.5,168.92 520.7,168.66 519.9,165.22 519.1,165.86 518.3,165.91 517.5,166.93 516.7,168.33 515.9,169.56 515.1,172.64 514.3,176.47 513.5,184.39 512.7,185.42 511.9,191.4 511.1,192.22 510.3,190.54 509.5,194.99 508.7,200.09 507.9,199.51 507.1,199.24 506.3,198.19 505.5,203 504.7,199.86 503.9,198.42 503.1,197.72 502.3,194.56 501.5,194.79 500.7,188.72 499.9,193.5 499.1,194.06 498.3,194.21 497.5,189.59" fill="#0000ff" fill-opacity="0.5"/>
<polygon points="497.5,184.15 498.3,180.65 499.1,181.81 499.9,184.27 500.7,179.85 501.5,181.34 502.3,179.18 503.1,180.01 503.9,182.07 504.7,180.14 505.5,176.73 506.3,178.17 507.1,176.17 507.9,175.54 508.7,180.31 509.5,177.82 510.3,180.72 511.1,187.71 511.9,186.43 512.7,192.12 513.5,194.37 514.3,191.84 515.1,192.62 515.9,187.26 516.7,187.6 517.5,189.64 518.3,188.2 519.1,184.1 519.9,182.24 520.7,185.33 521.5,189.09 522.3,192.44 523.1,187.84 523.9,190.25 524.7,186.43 525.5,187.51 526.3,189.11 527.1,183.29 527.9,185.14 528.7,185.93 529.5,183.15 530.3,179.7 531.1,181.46 531.9,181.43 532.7,177.77 533.5,178.38 534.3,179.99 535.1,181.11 535.9,180.77 536.7,180.24 537.5,175.7 538.3,174.25 539.1,168.8 539.9,167.83 540.7,162.93 541.5,156.87 542.3,154.88 543.1,150.21 543.9,145.51 544.7,150.6 545.5,150.98 546.3,158.4 547.1,159.52 547.9,166.01 548.7,167.97 549.5,169.42 550.3,168.6 551.1,168.06 551.9,171.75 552.7,175.97 553.5,173.12 554.3,173.32 555.1,173.97 555.9,168.91 556.7,172.41 557.5,173.32 558.3,171.71 559.1,169.48 559.9,169.66 560.7,168.01 561.5,166.84 562.3,164.56 563.1,161.69 563.9,163.76 564.7,160.7 565.5,157.06 566.3,153.41 567.1,154.44 567.9,159.27 568.7,158.44 569.5,158.58 570.3,157.14 571.1,158.6 571.9,161.29 572.7,168.2 573.5,165.62 574.3,168.75 575.1,173.37 575.9,177.52 576.7,177.25 577.5,175.47 578.3,173.79 579.1,176.38 579.9,172.73 580.7,176.77 581.5,170.37 582.3,171.53 583.1,167.43 583.9,166.29 584.7,166.72 585.5,165.7 586.3,165.26 587.1,165.42 587.9,166.82 588.7,164.39 589.5,162.84 590.3,162.99 591.1,169.94 591.9,170.32 592.7,172.7 593.5,172.28 594.3,167.35 595.1,159.22 595.9,155.89 596.7,156.62 597.5,159.14 598.3,163.43 599.1,161.1 599.9,168.48 600.7,171.43 601.5,174.47 602.3,173.49 603.1,168.26 603.9,164.76 604.7,166.44 605.5,167.47 606.3,167.38 607.1,163.55 607.9,157.6 608.7,156.57 609.5,159.3 610.3,151.21 611.1,155.48 611.9,153.53 612.7,156.44 613.5,159.18 614.3,159.55 615.1,160.04 615.9,165.1 616.7,165.05 617.5,160.78 618.3,162.52 619.1,163.48 619.9,163.78 620.7,163.23 621.5,160.59 622.3,161.8 623.1,160.68 623.9,158.93 624.7,158.07 625.5,157.46 626.3,157.43 627.1,157.93 627.9,158.47 628.7,160.59 629.5,163.37 630.3,158.88 631.1,165.66 631.9,162.83 632.7,165.8 633.5,165.13 634.3,164.36 635.1,165.16 635.9,166.17 636.7,163 637.5,162.91 638.3,162.16 639.1,162.35 639.9,163.49 640.7,166.21 641.5,175.46 642.3,188.33 643.1,188.32 643.9,189.7 644.7,191.19 645.5,185.2 646.3,182.72 647.1,183.16 647.9,182.14 648.7,179.85 649.5,180.95 650.3,181.76 651.1,178.1 651.9,175.83 652.7,177.99 653.5,175.92 654.3,179.43 655.1,176.46 655.9,172.92 656.7,174.14 657.5,175.43 658.3,174.09 659.1,176.51 659.9,169.91 660.7,167.8 661.5,167.73 662.3,171.72 663.1,171.42 663.9,170.69 664.7,165.68 665.5,164.57 666.3,166.74 667.1,163.24 667.9,168.17 668.7,167.85 669.5,168.17 670.3,168.1 671.1,167.7 671.9,168.92 672.7,170.7 672.9,173.67 672.9,186.4 672.7,186.04 671.9,182.11 671.1,177.29 670.3,179.44 669.5,176.34 668.7,180.9 667.9,181.25 667.1,178.02 666.3,177.55 665.5,179.95 664.7,181.09 663.9,179.73 663.1,181.61 662.3,185.85 661.5,184.64 660.7,188.55 659.9,188.86 659.1,188.46 658.3,184.51 657.5,187.34 656.7,184.5 655.9,185.31 655.1,185.49 654.3,187.11 653.5,188.08 652.7,188.63 651.9,189.38 651.1,191.69 650.3,194.86 649.5,189.88 648.7,193.49 647.9,197.9 647.1,197.95 646.3,196.94 645.5,197.41 644.7,204.86 643.9,202.76 643.1,197.95 642.3,202.89 641.5,189.64 640.7,187.94 639.9,181.24 639.1,180.18 638.3,178.73 637.5,178.66 636.7,180.64 635.9,179.51 635.1,177.24 634.3,179.18 633.5,185.36 632.7,183.06 631.9,177.52 631.1,175.59 630.3,174.82 629.5,177.51 628.7,176.74 627.9,175.96 627.1,174.1 626.3,170.93 625.5,171.46 624.7,168.3 623.9,170.83 623.1,172.63 622.3,178.47 621.5,181.48 620.7,179.35 619.9,177.83 619.1,175.32 618.3,177.84 617.5,176.54 616.7,176.51 615.9,178.07 615.1,179.62 614.3,179.9 613.5,172.7 612.7,173.56 611.9,171.41 611.1,167.39 610.3,172.7 609.5,172.97 608.7,174.02 607.9,176.7 607.1,176.57 606.3,177.57 605.5,184.63 604.7,185.28 603.9,183.89 603.1,182.2 602.3,184.87 601.5,187.79 600.7,187.25 599.9,183.9 599.1,179.13 598.3,172.28 597.5,171.83 596.7,170.89 595.9,171.08 595.1,176.97 594.3,182.52 593.5,184.37 592.7,183.02 591.9,183.11 591.1,183.21 590.3,179.36 589.5,178.97 588.7,182.69 587.9,182.21 587.1,182.31 586.3,186.62 585.5,186.96 584.7,184.21 583.9,183.55 583.1,184.9 582.3,190.44 581.5,189.67 580.7,190.29 579.9,188.07 579.1,193.09 578.3,193.87 577.5,189.03 576.7,190.65 575.9,190.27 575.1,189.61 574.3,182.54 573.5,178.4 572.7,179.51 571.9,173.75 571.1,174.15 570.3,170.13 569.5,172.72 568.7,171.72 567.9,172.38 567.1,169.75 566.3,169.32 565.5,168.94 564.7,170.67 563.9,173.41 563.1,169.06 562.3,173.15 561.5,174.73 560.7,177.98 559.9,183.03 559.1,182.97 558.3,184.01 557.5,185.37 556.7,188.48 555.9,186.62 555.1,189.78 554.3,190.78 553.5,190.75 552.7,192.32 551.9,186.91 551.1,183.46 550.3,182.93 549.5,180.45 548.7,180.18 547.9,182.56 547.1,176.97 546.3,170.88 545.5,163.38 544.7,160.13 543.9,155.97 543.1,161.41 542.3,165.82 541.5,168.73 540.7,174.83 539.9,177.83 539.1,181.21 538.3,187.88 537.5,192.95 536.7,193.91 535.9,192.59 535.1,191.5 534.3,193.58 533.5,193.49 532.7,188 531.9,188.14 531.1,192 530.3,195.02 529.5,194.16 528.7,195.87 527.9,194.63 527.1,195.19 526.3,200.35 525.5,202.53 524.7,200.82 523.9,203.2 523.1,202.73 522.3,202.37 521.5,204.65 520.7,200.2 519.9,195.37 519.1,198.87 518.3,201.87 517.5,203.15 516.7,205.54 515.9,203.92 515.1,201.92 514.3,206.09 513.5,205.11 512.7,204.75 511.9,199.18 511.1,196.84 510.3,189.81 509.5,188.12 508.7,189.46 507.9,185.48 507.1,188.11 506.3,190.41 505.5,192.78 504.7,190.45 503.9,191.76 503.1,192 502.3,191.71 501.5,189.94 500.7,193.82 499.9,193.76 499.1,192.48 498.3,194.62 497.5,198.2" fill="#7f7f7f" fill-opacity="0.4"/>
<polyline points="497.5,163.13 498.3,163.47 499.1,163.61 499.9,167.94 500.7,170.83 501.5,173.84 502.3,175.88 503.1,178.35 503.9,179.28 504.7,177.05 505.5,177.67 506.3,177.17 507.1,174.05 507.9,172.22 508.7,171.46 509.5,172.82 510.3,166.96 511.1,162.38 511.9,157.8 512.7,152.85 513.5,148.28 514.3,144.47 515.1,142.41 515.9,143.22 516.7,141.67 517.5,136.93 518.3,130.81 519.1,127.68 519.9,130.8 520.7,134.79 521.5,132.79 522.3,132.21 523.1,130.42 523.9,130.66 524.7,133.46 525.5,135.12 526.3,137.71 527.1,141.26 527.9,144.78 528.7,147.96 529.5,147.57 530.3,150.57 531.1,154.12 531.9,159.38 532.7,162.76 533.5,168.26 534.3,172.09 535.1,175.55 535.9,178.41 536.7,179.51 537.5,179.22 538.3,182.49 539.1,183.83 539.9,182.55 540.7,180.3 541.5,179.68 542.3,175.79 543.1,172.54 543.9,170.7 544.7,167.73 545.5,166.04 546.3,168.97 547.1,170.51 547.9,172.49 548.7,174.18 549.5,176.4 550.3,179.26 551.1,181.65 551.9,184.3 552.7,185.72 553.5,186.94 554.3,188.48 555.1,191.26 555.9,192.19 556.7,193.39 557.5,193.14 558.3,191.61 559.1,187.97 559.9,185.61 560.7,181.83 561.5,178.24 562.3,173.43 563.1,169.75 563.9,167.98 564.7,163.58 565.5,165.15 566.3,165.45 567.1,168.14 567.9,169.47 568.7,172.55 569.5,176.65 570.3,179.2 571.1,178.07 571.9,179.8 572.7,179.42 573.5,181.1 574.3,178.93 575.1,178.35 575.9,174.93 576.7,173.61 577.5,168.94 578.3,168.12 579.1,163.71 579.9,158.9 580.7,157.77 581.5,154.54 582.3,149.76 583.1,147.81 583.9,144.88 584.7,145.23 585.5,149.88 586.3,155.74 587.1,157.59 587.9,157.56 588.7,156.81 589.5,155.94 590.3,154.27 591.1,153.5 591.9,150.28 592.7,149.32 593.5,151.92 594.3,153.47 595.1,157.17 595.9,161.86 596.7,165.23 597.5,167.64 598.3,169.64 599.1,171.45 599.9,171.43 600.7,171.98 601.5,173.2 602.3,171 603.1,170.04 603.9,168.51 604.7,168.08 605.5,165.12 606.3,164.44 607.1,161.75 607.9,159.69 608.7,160.77 609.5,163.71 610.3,164.75 611.1,163.4 611.9,163.65 612.7,161.61 613.5,159.16 614.3,158.22 615.1,155.75 615.9,151.83 616.7,153.12 617.5,154.8 618.3,154.77 619.1,155.99 619.9,154.09 620.7,153.36 621.5,155.41 622.3,160.41 623.1,166.99 623.9,171.54 624.7,174.16 625.5,178.92 626.3,182.45 627.1,182.71 627.9,180.06 628.7,179.58 629.5,179.79 630.3,183.29 631.1,184.33 631.9,183.26 632.7,181.98 633.5,175.99 634.3,171.72 635.1,171.67 635.9,168.08 636.7,166.51 637.5,164.21 638.3,161.29 639.1,160.74 639.9,160.45 640.7,156.44 641.5,158.04 642.3,161.18 643.1,165.62 643.9,168.3 644.7,172.06 645.5,173.72 646.3,176.03 647.1,177.4 647.9,181.92 648.7,183.18 649.5,185.74 650.3,183.5 651.1,182.95 651.9,184.07 652.7,183.03 653.5,185.47 654.3,187.55 655.1,188.16 655.9,190.14 656.7,190.69 657.5,190.34 658.3,193.1 659.1,190.2 659.9,188.8 660.7,186.36 661.5,185.68 662.3,183.45 663.1,184.2 663.9,183.31 664.7,182.21 665.5,181.04 666.3,180.6 667.1,179.73 667.9,182.41 668.7,183.08 669.5,183.11 670.3,185.37 671.1,186.5 671.9,186.11 672.7,182.67 672.9,183.68" fill="none" stroke="#ff0000" stroke-width="1.7" stroke-linejoin="round"/>
<polyline points="497.5,185.14 498.3,183.86 499.1,183.46 499.9,183.28 500.7,182.64 501.5,183.85 502.3,185.75 503.1,189.05 503.9,189.01 504.7,190.98 505.5,190.26 506.3,187.81 507.1,187.97 507.9,187.1 508.7,185.96 509.5,186.12 510.3,181.92 511.1,178.39 511.9,178.03 512.7,173.6 513.5,168.74 514.3,165 515.1,161.18 515.9,159.12 516.7,153.14 517.5,151.09 518.3,150.85 519.1,149.61 519.9,149.58 520.7,149.9 521.5,148.75 522.3,149.1 523.1,153.33 523.9,156.55 524.7,155.45 525.5,158.72 526.3,160.93 527.1,160.78 527.9,159.68 528.7,161.4 529.5,161.5 530.3,161.77 531.1,168.12 531.9,172.25 532.7,170.79 533.5,168.95 534.3,167.07 535.1,169.44 535.9,172.44 536.7,174.15 537.5,174.71 538.3,174.87 539.1,171.26 539.9,166.93 540.7,160.27 541.5,152.37 542.3,152.64 543.1,155.31 543.9,158.39 544.7,161.91 545.5,167.17 546.3,173.38 547.1,174.37 547.9,176.53 548.7,176.89 549.5,179.84 550.3,184.76 551.1,187.44 551.9,189.5 552.7,186.13 553.5,185.46 554.3,184.64 555.1,181.6 555.9,180.13 556.7,176.43 557.5,171.74 558.3,169.52 559.1,171.21 559.9,167.93 560.7,165.49 561.5,163.66 562.3,163.24 563.1,162.78 563.9,160.54 564.7,159.23 565.5,159.6 566.3,157.61 567.1,156.89 567.9,156.59 568.7,155.75 569.5,152.02 570.3,149.75 571.1,147.8 571.9,148.61 572.7,147.81 573.5,146.69 574.3,143.55 575.1,139.15 575.9,143.6 576.7,147.72 577.5,148.91 578.3,150.26 579.1,153.93 579.9,156.61 580.7,158 581.5,159.1 582.3,159.6 583.1,158.57 583.9,153.02 584.7,149.53 585.5,142.76 586.3,136.68 587.1,131.34 587.9,122.76 588.7,118.09 589.5,118.03 590.3,118.15 591.1,121.19 591.9,126.19 592.7,131.8 593.5,147.46 594.3,151.27 595.1,153.75 595.9,157.6 596.7,160.1 597.5,162.17 598.3,165.25 599.1,170.65 599.9,172.36 600.7,172.54 601.5,171.37 602.3,169.9 603.1,164.17 603.9,161.78 604.7,155.51 605.5,149.95 606.3,142.76 607.1,136.97 607.9,124.9 608.7,109.97 609.5,101.71 610.3,102.18 611.1,101.97 611.9,104.94 612.7,106.7 613.5,109.75 614.3,113.39 615.1,113.45 615.9,112.26 616.7,109.73 617.5,113.34 618.3,119.35 619.1,121.09 619.9,123.36 620.7,126.81 621.5,126.25 622.3,125.99 623.1,126.43 623.9,127.8 624.7,131.73 625.5,133.65 626.3,141.07 627.1,147.46 627.9,151.68 628.7,155.5 629.5,157.86 630.3,160.33 631.1,163.97 631.9,164.39 632.7,164.99 633.5,162.77 634.3,162.47 635.1,160.52 635.9,158.88 636.7,155.34 637.5,152.91 638.3,152.17 639.1,151.81 639.9,148.82 640.7,147.84 641.5,144.29 642.3,140.74 643.1,145.58 643.9,148.78 644.7,154.4 645.5,158.09 646.3,160.04 647.1,161.91 647.9,163.76 648.7,166.38 649.5,166.48 650.3,167.94 651.1,169.62 651.9,171.08 652.7,169.96 653.5,168.81 654.3,169.23 655.1,167.91 655.9,169.42 656.7,171.9 657.5,171.65 658.3,168.91 659.1,167.66 659.9,172.19 660.7,175.34 661.5,181.24 662.3,182.7 663.1,188.36 663.9,191.13 664.7,189.06 665.5,190.09 666.3,188.26 667.1,181.93 667.9,178.12 668.7,175.24 669.5,173.75 670.3,168.09 671.1,164.63 671.9,162.99 672.7,159.94 672.9,160.38" fill="none" stroke="#0000ff" stroke-width="1.7" stroke-linejoin="round"/>
<polyline points="497.5,191.55 498.3,189.81 499.1,188.22 499.9,188.28 500.7,186.51 501.5,186.51 502.3,184.1 503.1,184.5 503.9,185.23 504.7,183.92 505.5,184.58 506.3,184.08 507.1,183.09 507.9,182.38 508.7,185.51 509.5,185.58 510.3,186.55 511.1,190.92 511.9,194.09 512.7,196.51 513.5,198.51 514.3,197.79 515.1,196.94 515.9,195.29 516.7,196.43 517.5,193.53 518.3,192.7 519.1,191.65 519.9,191.1 520.7,192.66 521.5,195.26 522.3,195.45 523.1,194.75 523.9,195.73 524.7,192.62 525.5,193.21 526.3,192.25 527.1,190.67 527.9,189.53 528.7,189.92 529.5,189.89 530.3,188.34 531.1,186.84 531.9,185.01 532.7,183.89 533.5,186.68 534.3,186.45 535.1,186.2 535.9,187.34 536.7,186.99 537.5,184.44 538.3,183.45 539.1,177.65 539.9,173.22 540.7,171.08 541.5,165.51 542.3,162.03 543.1,158.42 543.9,153.91 544.7,155.96 545.5,158.41 546.3,164.52 547.1,168.15 547.9,172.82 548.7,173.02 549.5,175.41 550.3,176.53 551.1,177.67 551.9,180.41 552.7,183.47 553.5,182.14 554.3,180.83 555.1,180.45 555.9,177.79 556.7,178.4 557.5,176.47 558.3,175.45 559.1,175 559.9,173.41 560.7,170.47 561.5,168.82 562.3,166.38 563.1,164.64 563.9,165.99 564.7,163.86 565.5,163.38 566.3,162.11 567.1,161.72 567.9,164.66 568.7,166.04 569.5,166.39 570.3,166.9 571.1,169.36 571.9,170.98 572.7,173.58 573.5,174.83 574.3,178.73 575.1,181.96 575.9,181.75 576.7,185.13 577.5,185.88 578.3,185.08 579.1,185.96 579.9,184.12 580.7,184.15 581.5,180.66 582.3,181.98 583.1,178.78 583.9,176.61 584.7,178.02 585.5,176.83 586.3,176.15 587.1,175.98 587.9,174.35 588.7,172.84 589.5,172.84 590.3,174.98 591.1,176.3 591.9,174.8 592.7,175.81 593.5,176.68 594.3,174.25 595.1,167.76 595.9,165.98 596.7,165.44 597.5,167.68 598.3,168.03 599.1,169.76 599.9,174.88 600.7,176.81 601.5,180.02 602.3,179.42 603.1,178.53 603.9,175.76 604.7,174.97 605.5,174.51 606.3,171.26 607.1,167.62 607.9,165.9 608.7,166.85 609.5,165.69 610.3,161.82 611.1,160.98 611.9,163.26 612.7,163.91 613.5,164.06 614.3,169.07 615.1,171.05 615.9,172.77 616.7,170.89 617.5,171.15 618.3,171.14 619.1,169.12 619.9,168.5 620.7,170.42 621.5,171.43 622.3,169.48 623.1,167.85 623.9,166.75 624.7,164.85 625.5,163.95 626.3,164.57 627.1,164.8 627.9,165.15 628.7,165.69 629.5,167.77 630.3,168.59 631.1,171.71 631.9,171.51 632.7,174.1 633.5,174.78 634.3,173.82 635.1,173.9 635.9,174.26 636.7,173.35 637.5,172.7 638.3,170.58 639.1,170.8 639.9,170.91 640.7,176.58 641.5,183.34 642.3,192.85 643.1,192.86 643.9,195.54 644.7,195.7 645.5,192.3 646.3,192.17 647.1,190.31 647.9,191.11 648.7,189.26 649.5,186.96 650.3,188.43 651.1,187.39 651.9,185.72 652.7,184.41 653.5,181.72 654.3,183.25 655.1,180.72 655.9,180.56 656.7,179.98 657.5,179.38 658.3,177.37 659.1,179.34 659.9,178.02 660.7,177 661.5,177.86 662.3,177.62 663.1,176.7 663.9,176.71 664.7,174.51 665.5,172.86 666.3,172.87 667.1,173.26 667.9,173.49 668.7,172.84 669.5,171.7 670.3,170.74 671.1,173.08 671.9,176.75 672.7,178.84 672.9,181.15" fill="none" stroke="#7f7f7f" stroke-width="1.4" stroke-linejoin="round"/>
<path d="M497.4 21.5 V248.5 H673.45" fill="none" stroke="#747474" stroke-width="1.1"/>
<path d="M497.4 227.5 H501.7" stroke="#747474" stroke-width="1"/>
<text x="492.8" y="230.5" font-size="10.2" text-anchor="end" fill="#262626" font-family="Liberation Sans, sans-serif">0</text>
<path d="M497.4 186.5 H501.7" stroke="#747474" stroke-width="1"/>
<text x="492.8" y="189.32" font-size="10.2" text-anchor="end" fill="#262626" font-family="Liberation Sans, sans-serif">2</text>
<path d="M497.4 145.5 H501.7" stroke="#747474" stroke-width="1"/>
<text x="492.8" y="148.14" font-size="10.2" text-anchor="end" fill="#262626" font-family="Liberation Sans, sans-serif">4</text>
<path d="M497.4 103.5 H501.7" stroke="#747474" stroke-width="1"/>
<text x="492.8" y="106.96" font-size="10.2" text-anchor="end" fill="#262626" font-family="Liberation Sans, sans-serif">6</text>
<path d="M497.4 62.5 H501.7" stroke="#747474" stroke-width="1"/>
<text x="492.8" y="65.78" font-size="10.2" text-anchor="end" fill="#262626" font-family="Liberation Sans, sans-serif">8</text>
<path d="M497.4 21.5 H501.7" stroke="#747474" stroke-width="1"/>
<text x="492.8" y="24.6" font-size="10.2" text-anchor="end" fill="#262626" font-family="Liberation Sans, sans-serif">10</text>
<path d="M506.5 248.5 V244" stroke="#747474" stroke-width="1"/>
<text x="506.5" y="262" font-size="10.2" text-anchor="middle" fill="#262626" font-family="Liberation Sans, sans-serif">−4</text>
<path d="M525.5 248.5 V244" stroke="#747474" stroke-width="1"/>
<text x="525.05" y="262" font-size="10.2" text-anchor="middle" fill="#262626" font-family="Liberation Sans, sans-serif">−3</text>
<path d="M543.5 248.5 V244" stroke="#747474" stroke-width="1"/>
<text x="543.6" y="262" font-size="10.2" text-anchor="middle" fill="#262626" font-family="Liberation Sans, sans-serif">−2</text>
<path d="M562.5 248.5 V244" stroke="#747474" stroke-width="1"/>
<text x="562.15" y="262" font-size="10.2" text-anchor="middle" fill="#262626" font-family="Liberation Sans, sans-serif">−1</text>
<path d="M580.5 248.5 V244" stroke="#747474" stroke-width="1"/>
<text x="580.7" y="262" font-size="10.2" text-anchor="middle" fill="#262626" font-family="Liberation Sans, sans-serif">0</text>
<path d="M599.5 248.5 V244" stroke="#747474" stroke-width="1"/>
<text x="599.25" y="262" font-size="10.2" text-anchor="middle" fill="#262626" font-family="Liberation Sans, sans-serif">1</text>
<path d="M617.5 248.5 V244" stroke="#747474" stroke-width="1"/>
<text x="617.8" y="262" font-size="10.2" text-anchor="middle" fill="#262626" font-family="Liberation Sans, sans-serif">2</text>
<path d="M636.5 248.5 V244" stroke="#747474" stroke-width="1"/>
<text x="636.35" y="262" font-size="10.2" text-anchor="middle" fill="#262626" font-family="Liberation Sans, sans-serif">3</text>
<path d="M654.5 248.5 V244" stroke="#747474" stroke-width="1"/>
<text x="654.9" y="262" font-size="10.2" text-anchor="middle" fill="#262626" font-family="Liberation Sans, sans-serif">4</text>
<path d="M673.5 248.5 V244" stroke="#747474" stroke-width="1"/>
<text x="673.45" y="262" font-size="10.2" text-anchor="middle" fill="#262626" font-family="Liberation Sans, sans-serif">5</text>
<text x="585.34" y="275.2" font-size="11.2" text-anchor="middle" fill="#262626" font-family="Liberation Sans, sans-serif">Time (s)</text>
<text transform="translate(477.9,134.9) rotate(-90)" font-size="11.55" text-anchor="middle" fill="#262626" font-family="Liberation Sans, sans-serif">Firing rate (Hz)</text>
<text x="467.3" y="11.8" font-size="16" font-weight="bold" fill="#000" font-family="Liberation Sans, sans-serif">c</text>
<path d="M150.4 29.8 V88.3 H212" fill="none" stroke="#747474" stroke-width="1"/>
<path d="M150.4 33 H152.6" stroke="#747474" stroke-width="1"/>
<text x="145.4" y="36.3" font-size="10.2" text-anchor="end" fill="#262626" font-family="Liberation Sans, sans-serif">100</text>
<path d="M150.4 59.1 H152.6" stroke="#747474" stroke-width="1"/>
<text x="145.4" y="62.4" font-size="10.2" text-anchor="end" fill="#262626" font-family="Liberation Sans, sans-serif">0</text>
<path d="M150.4 85.2 H152.6" stroke="#747474" stroke-width="1"/>
<text x="145.4" y="88.5" font-size="10.2" text-anchor="end" fill="#262626" font-family="Liberation Sans, sans-serif">−100</text>
<path d="M174.3 88.3 V86" stroke="#747474" stroke-width="1"/>
<text x="174.3" y="101.8" font-size="10.2" text-anchor="middle" fill="#262626" font-family="Liberation Sans, sans-serif">1</text>
<path d="M198.7 88.3 V86" stroke="#747474" stroke-width="1"/>
<text x="198.7" y="101.8" font-size="10.2" text-anchor="middle" fill="#262626" font-family="Liberation Sans, sans-serif">2</text>
<text x="181.62" y="112.9" font-size="11.2" text-anchor="middle" fill="#262626" font-family="Liberation Sans, sans-serif">Time (ms)</text>
<text transform="translate(120.3,59.3) rotate(-90)" font-size="11.55" text-anchor="middle" fill="#262626" font-family="Liberation Sans, sans-serif">Waveform (μV)</text>
<polygon points="150.9,56.91 151.4,56.95 151.9,57 152.4,57.04 152.9,57.08 153.4,57.13 153.9,57.18 154.4,57.23 154.9,57.28 155.4,57.33 155.9,57.39 156.4,57.46 156.9,57.53 157.4,57.61 157.9,57.7 158.4,57.79 158.9,57.88 159.4,57.98 159.9,58.08 160.4,58.21 160.9,58.35 161.4,58.51 161.9,58.68 162.4,58.84 162.9,58.98 163.4,59.08 163.9,59.1 164.4,59.03 164.9,58.72 165.4,57.76 165.9,56.55 166.4,55.12 166.9,53.57 167.4,51.97 167.9,50.41 168.4,48.85 168.9,47.2 169.4,45.58 169.9,44.11 170.4,42.67 170.9,41.47 171.4,40.45 171.9,39.61 172.4,38.96 172.9,38.51 173.4,38.83 173.9,39.53 174.4,40.41 174.9,41.39 175.4,42.41 175.9,43.55 176.4,44.58 176.9,45.56 177.4,46.44 177.9,47.17 178.4,47.81 178.9,48.4 179.4,48.96 179.9,49.49 180.4,50 180.9,50.5 181.4,51 181.9,51.48 182.4,51.93 182.9,52.37 183.4,52.77 183.9,53.16 184.4,53.51 184.9,53.85 185.4,54.18 185.9,54.49 186.4,54.78 186.9,55.07 187.4,55.34 187.9,55.6 188.4,55.85 188.9,56.09 189.4,56.31 189.9,56.53 190.4,56.73 190.9,56.92 191.4,57.09 191.9,57.24 192.4,57.38 192.9,57.5 193.4,57.59 193.9,57.65 194.4,57.69 194.9,57.7 195.4,57.7 195.9,57.7 196.4,57.68 196.9,57.65 197.4,57.62 197.9,57.58 198.4,57.54 198.9,57.48 199.4,57.42 199.9,57.35 200.4,57.27 200.9,57.17 201.4,57.06 201.9,56.94 202.4,56.8 202.9,56.67 203.4,56.53 203.9,56.39 204.4,56.26 204.9,56.13 205.4,56.01 205.9,55.89 206.4,55.76 206.9,55.64 207.4,55.52 207.9,55.4 208.4,55.28 208.9,55.16 209.4,55.04 209.9,54.92 210.4,54.8 210.9,54.67 211.4,54.55 211.6,54.5 211.6,64.5 211.4,64.54 210.9,64.66 210.4,64.79 209.9,64.91 209.4,65.03 208.9,65.15 208.4,65.27 207.9,65.39 207.4,65.51 206.9,65.63 206.4,65.75 205.9,65.88 205.4,66 204.9,66.12 204.4,66.25 203.9,66.38 203.4,66.52 202.9,66.66 202.4,66.79 201.9,66.93 201.4,67.05 200.9,67.16 200.4,67.26 199.9,67.34 199.4,67.41 198.9,67.47 198.4,67.53 197.9,67.57 197.4,67.61 196.9,67.64 196.4,67.67 195.9,67.69 195.4,67.69 194.9,67.69 194.4,67.68 193.9,67.64 193.4,67.58 192.9,67.49 192.4,67.37 191.9,67.23 191.4,67.08 190.9,66.91 190.4,66.72 189.9,66.52 189.4,66.3 188.9,66.08 188.4,65.84 187.9,65.59 187.4,65.33 186.9,65.06 186.4,64.77 185.9,64.48 185.4,64.17 184.9,63.84 184.4,63.5 183.9,63.15 183.4,62.76 182.9,62.36 182.4,61.92 181.9,61.47 181.4,60.99 180.9,60.5 180.4,59.99 179.9,59.48 179.4,58.95 178.9,58.39 178.4,57.8 177.9,57.16 177.4,56.43 176.9,55.55 176.4,54.57 175.9,53.6 175.4,52.75 174.9,52.02 174.4,51.33 173.9,50.75 173.4,50.34 172.9,50.2 172.4,50.35 171.9,50.71 171.4,51.26 170.9,51.99 170.4,52.89 169.9,54.1 169.4,55.57 168.9,57.19 168.4,58.84 167.9,60.4 167.4,61.96 166.9,63.56 166.4,65.11 165.9,66.54 165.4,67.75 164.9,68.71 164.4,69.02 163.9,69.09 163.4,69.07 162.9,68.97 162.4,68.83 161.9,68.67 161.4,68.5 160.9,68.34 160.4,68.2 159.9,68.07 159.4,67.97 158.9,67.87 158.4,67.78 157.9,67.69 157.4,67.6 156.9,67.52 156.4,67.45 155.9,67.38 155.4,67.32 154.9,67.27 154.4,67.22 153.9,67.17 153.4,67.12 152.9,67.07 152.4,67.03 151.9,66.99 151.4,66.94 150.9,66.89" fill="#ececff"/>
<polygon points="150.9,58.2 151.4,58.25 151.9,58.29 152.4,58.33 152.9,58.38 153.4,58.43 153.9,58.47 154.4,58.52 154.9,58.57 155.4,58.63 155.9,58.69 156.4,58.76 156.9,58.83 157.4,58.91 157.9,58.99 158.4,59.08 158.9,59.18 159.4,59.27 159.9,59.38 160.4,59.5 160.9,59.65 161.4,59.81 161.9,59.97 162.4,60.13 162.9,60.27 163.4,60.38 163.9,60.4 164.4,60.32 164.9,60.01 165.4,59.05 165.9,57.85 166.4,56.42 166.9,54.86 167.4,53.27 167.9,51.71 168.4,50.14 168.9,48.49 169.4,46.87 169.9,45.4 170.4,44.03 170.9,42.9 171.4,41.96 171.9,41.19 172.4,40.62 172.9,40.24 173.4,40.52 173.9,41.14 174.4,41.94 174.9,42.85 175.4,43.8 175.9,44.86 176.4,45.88 176.9,46.86 177.4,47.73 177.9,48.47 178.4,49.11 178.9,49.7 179.4,50.25 179.9,50.78 180.4,51.3 180.9,51.8 181.4,52.29 181.9,52.77 182.4,53.23 182.9,53.66 183.4,54.07 183.9,54.45 184.4,54.81 184.9,55.15 185.4,55.48 185.9,55.78 186.4,56.08 186.9,56.36 187.4,56.64 187.9,56.9 188.4,57.15 188.9,57.38 189.4,57.61 189.9,57.82 190.4,58.02 190.9,58.21 191.4,58.38 191.9,58.54 192.4,58.68 192.9,58.8 193.4,58.89 193.9,58.95 194.4,58.98 194.9,59 195.4,59 195.9,58.99 196.4,58.97 196.9,58.95 197.4,58.92 197.9,58.88 198.4,58.83 198.9,58.78 199.4,58.72 199.9,58.64 200.4,58.56 200.9,58.47 201.4,58.35 201.9,58.23 202.4,58.1 202.9,57.96 203.4,57.82 203.9,57.69 204.4,57.55 204.9,57.43 205.4,57.3 205.9,57.18 206.4,57.06 206.9,56.94 207.4,56.82 207.9,56.69 208.4,56.57 208.9,56.45 209.4,56.33 209.9,56.21 210.4,56.09 210.9,55.97 211.4,55.85 211.6,55.8 211.6,63.2 211.4,63.25 210.9,63.37 210.4,63.49 209.9,63.61 209.4,63.73 208.9,63.85 208.4,63.97 207.9,64.09 207.4,64.22 206.9,64.34 206.4,64.46 205.9,64.58 205.4,64.7 204.9,64.83 204.4,64.95 203.9,65.09 203.4,65.22 202.9,65.36 202.4,65.5 201.9,65.63 201.4,65.75 200.9,65.87 200.4,65.96 199.9,66.04 199.4,66.12 198.9,66.18 198.4,66.23 197.9,66.28 197.4,66.32 196.9,66.35 196.4,66.37 195.9,66.39 195.4,66.4 194.9,66.4 194.4,66.38 193.9,66.35 193.4,66.29 192.9,66.2 192.4,66.08 191.9,65.94 191.4,65.78 190.9,65.61 190.4,65.42 189.9,65.22 189.4,65.01 188.9,64.78 188.4,64.55 187.9,64.3 187.4,64.04 186.9,63.76 186.4,63.48 185.9,63.18 185.4,62.88 184.9,62.55 184.4,62.21 183.9,61.85 183.4,61.47 182.9,61.06 182.4,60.63 181.9,60.17 181.4,59.69 180.9,59.2 180.4,58.7 179.9,58.18 179.4,57.65 178.9,57.1 178.4,56.51 177.9,55.87 177.4,55.13 176.9,54.26 176.4,53.28 175.9,52.3 175.4,51.46 174.9,50.73 174.4,50.04 173.9,49.45 173.4,49.05 172.9,48.9 172.4,49.06 171.9,49.42 171.4,49.96 170.9,50.69 170.4,51.6 169.9,52.8 169.4,54.27 168.9,55.89 168.4,57.54 167.9,59.11 167.4,60.67 166.9,62.26 166.4,63.82 165.9,65.25 165.4,66.45 164.9,67.41 164.4,67.72 163.9,67.8 163.4,67.78 162.9,67.67 162.4,67.53 161.9,67.37 161.4,67.21 160.9,67.05 160.4,66.9 159.9,66.78 159.4,66.67 158.9,66.58 158.4,66.48 157.9,66.39 157.4,66.31 156.9,66.23 156.4,66.16 155.9,66.09 155.4,66.03 154.9,65.97 154.4,65.92 153.9,65.87 153.4,65.83 152.9,65.78 152.4,65.73 151.9,65.69 151.4,65.65 150.9,65.6" fill="#1414ff"/>
<polygon points="150.9,58.72 151.4,58.76 151.9,58.81 152.4,58.85 152.9,58.9 153.4,58.94 153.9,58.99 154.4,59.04 154.9,59.09 155.4,59.15 155.9,59.21 156.4,59.27 156.9,59.35 157.4,59.42 157.9,59.51 158.4,59.6 158.9,59.69 159.4,59.79 159.9,59.9 160.4,60.02 160.9,60.17 161.4,60.33 161.9,60.49 162.4,60.65 162.9,60.79 163.4,60.9 163.9,60.92 164.4,60.84 164.9,60.53 165.4,59.57 165.9,58.37 166.4,56.94 166.9,55.38 167.4,53.79 167.9,52.23 168.4,50.66 168.9,49.01 169.4,47.39 169.9,45.92 170.4,44.57 170.9,43.48 171.4,42.56 171.9,41.83 172.4,41.28 172.9,40.94 173.4,41.2 173.9,41.79 174.4,42.56 174.9,43.44 175.4,44.35 175.9,45.38 176.4,46.39 176.9,47.37 177.4,48.25 177.9,48.98 178.4,49.63 178.9,50.22 179.4,50.77 179.9,51.3 180.4,51.82 180.9,52.32 181.4,52.81 181.9,53.29 182.4,53.75 182.9,54.18 183.4,54.59 183.9,54.97 184.4,55.33 184.9,55.67 185.4,55.99 185.9,56.3 186.4,56.6 186.9,56.88 187.4,57.16 187.9,57.41 188.4,57.66 188.9,57.9 189.4,58.13 189.9,58.34 190.4,58.54 190.9,58.73 191.4,58.9 191.9,59.06 192.4,59.2 192.9,59.31 193.4,59.41 193.9,59.47 194.4,59.5 194.9,59.51 195.4,59.52 195.9,59.51 196.4,59.49 196.9,59.47 197.4,59.43 197.9,59.4 198.4,59.35 198.9,59.29 199.4,59.24 199.9,59.16 200.4,59.08 200.9,58.99 201.4,58.87 201.9,58.75 202.4,58.62 202.9,58.48 203.4,58.34 203.9,58.2 204.4,58.07 204.9,57.94 205.4,57.82 205.9,57.7 206.4,57.58 206.9,57.45 207.4,57.33 207.9,57.21 208.4,57.09 208.9,56.97 209.4,56.85 209.9,56.73 210.4,56.61 210.9,56.49 211.4,56.37 211.6,56.32 211.6,62.68 211.4,62.73 210.9,62.85 210.4,62.97 209.9,63.09 209.4,63.21 208.9,63.33 208.4,63.46 207.9,63.58 207.4,63.7 206.9,63.82 206.4,63.94 205.9,64.06 205.4,64.18 204.9,64.31 204.4,64.44 203.9,64.57 203.4,64.71 202.9,64.84 202.4,64.98 201.9,65.11 201.4,65.24 200.9,65.35 200.4,65.44 199.9,65.53 199.4,65.6 198.9,65.66 198.4,65.71 197.9,65.76 197.4,65.8 196.9,65.83 196.4,65.85 195.9,65.87 195.4,65.88 194.9,65.88 194.4,65.86 193.9,65.83 193.4,65.77 192.9,65.68 192.4,65.56 191.9,65.42 191.4,65.27 190.9,65.09 190.4,64.9 189.9,64.7 189.4,64.49 188.9,64.26 188.4,64.03 187.9,63.78 187.4,63.52 186.9,63.25 186.4,62.96 185.9,62.66 185.4,62.36 184.9,62.03 184.4,61.69 183.9,61.33 183.4,60.95 182.9,60.54 182.4,60.11 181.9,59.65 181.4,59.18 180.9,58.68 180.4,58.18 179.9,57.67 179.4,57.14 178.9,56.58 178.4,55.99 177.9,55.35 177.4,54.61 176.9,53.74 176.4,52.76 175.9,51.78 175.4,50.94 174.9,50.21 174.4,49.52 173.9,48.93 173.4,48.53 172.9,48.38 172.4,48.54 171.9,48.9 171.4,49.45 170.9,50.18 170.4,51.08 169.9,52.29 169.4,53.75 168.9,55.37 168.4,57.03 167.9,58.59 167.4,60.15 166.9,61.74 166.4,63.3 165.9,64.73 165.4,65.93 164.9,66.89 164.4,67.21 163.9,67.28 163.4,67.26 162.9,67.16 162.4,67.01 161.9,66.86 161.4,66.69 160.9,66.53 160.4,66.39 159.9,66.26 159.4,66.16 158.9,66.06 158.4,65.96 157.9,65.87 157.4,65.79 156.9,65.71 156.4,65.64 155.9,65.57 155.4,65.51 154.9,65.46 154.4,65.4 153.9,65.35 153.4,65.31 152.9,65.26 152.4,65.22 151.9,65.17 151.4,65.13 150.9,65.08" fill="#0050ff"/>
<polygon points="150.9,59.16 151.4,59.21 151.9,59.25 152.4,59.3 152.9,59.34 153.4,59.39 153.9,59.43 154.4,59.48 154.9,59.54 155.4,59.59 155.9,59.65 156.4,59.72 156.9,59.79 157.4,59.87 157.9,59.95 158.4,60.04 158.9,60.14 159.4,60.24 159.9,60.34 160.4,60.47 160.9,60.61 161.4,60.77 161.9,60.94 162.4,61.09 162.9,61.24 163.4,61.34 163.9,61.36 164.4,61.29 164.9,60.97 165.4,60.01 165.9,58.81 166.4,57.38 166.9,55.82 167.4,54.23 167.9,52.67 168.4,51.11 168.9,49.45 169.4,47.83 169.9,46.37 170.4,45.03 170.9,43.97 171.4,43.08 171.9,42.37 172.4,41.85 172.9,41.53 173.4,41.77 173.9,42.34 174.4,43.09 174.9,43.94 175.4,44.83 175.9,45.83 176.4,46.84 176.9,47.82 177.4,48.69 177.9,49.43 178.4,50.07 178.9,50.66 179.4,51.22 179.9,51.75 180.4,52.26 180.9,52.76 181.4,53.26 181.9,53.73 182.4,54.19 182.9,54.62 183.4,55.03 183.9,55.41 184.4,55.77 184.9,56.11 185.4,56.44 185.9,56.74 186.4,57.04 186.9,57.33 187.4,57.6 187.9,57.86 188.4,58.11 188.9,58.34 189.4,58.57 189.9,58.78 190.4,58.98 190.9,59.17 191.4,59.35 191.9,59.5 192.4,59.64 192.9,59.76 193.4,59.85 193.9,59.91 194.4,59.94 194.9,59.96 195.4,59.96 195.9,59.95 196.4,59.93 196.9,59.91 197.4,59.88 197.9,59.84 198.4,59.79 198.9,59.74 199.4,59.68 199.9,59.61 200.4,59.52 200.9,59.43 201.4,59.32 201.9,59.19 202.4,59.06 202.9,58.92 203.4,58.79 203.9,58.65 204.4,58.52 204.9,58.39 205.4,58.26 205.9,58.14 206.4,58.02 206.9,57.9 207.4,57.78 207.9,57.66 208.4,57.54 208.9,57.41 209.4,57.29 209.9,57.17 210.4,57.05 210.9,56.93 211.4,56.81 211.6,56.76 211.6,62.24 211.4,62.29 210.9,62.41 210.4,62.53 209.9,62.65 209.4,62.77 208.9,62.89 208.4,63.01 207.9,63.13 207.4,63.25 206.9,63.37 206.4,63.5 205.9,63.62 205.4,63.74 204.9,63.86 204.4,63.99 203.9,64.12 203.4,64.26 202.9,64.4 202.4,64.54 201.9,64.67 201.4,64.79 200.9,64.91 200.4,65 199.9,65.08 199.4,65.16 198.9,65.21 198.4,65.27 197.9,65.32 197.4,65.35 196.9,65.39 196.4,65.41 195.9,65.43 195.4,65.44 194.9,65.43 194.4,65.42 193.9,65.39 193.4,65.33 192.9,65.23 192.4,65.12 191.9,64.98 191.4,64.82 190.9,64.65 190.4,64.46 189.9,64.26 189.4,64.05 188.9,63.82 188.4,63.58 187.9,63.33 187.4,63.08 186.9,62.8 186.4,62.52 185.9,62.22 185.4,61.91 184.9,61.59 184.4,61.25 183.9,60.89 183.4,60.51 182.9,60.1 182.4,59.67 181.9,59.21 181.4,58.73 180.9,58.24 180.4,57.74 179.9,57.22 179.4,56.69 178.9,56.14 178.4,55.55 177.9,54.9 177.4,54.17 176.9,53.29 176.4,52.31 175.9,51.34 175.4,50.5 174.9,49.77 174.4,49.08 173.9,48.49 173.4,48.08 172.9,47.94 172.4,48.09 171.9,48.45 171.4,49 170.9,49.73 170.4,50.64 169.9,51.84 169.4,53.31 168.9,54.93 168.4,56.58 167.9,58.15 167.4,59.71 166.9,61.3 166.4,62.86 165.9,64.29 165.4,65.49 164.9,66.45 164.4,66.76 163.9,66.84 163.4,66.82 162.9,66.71 162.4,66.57 161.9,66.41 161.4,66.25 160.9,66.09 160.4,65.94 159.9,65.82 159.4,65.71 158.9,65.61 158.4,65.52 157.9,65.43 157.4,65.34 156.9,65.27 156.4,65.19 155.9,65.13 155.4,65.07 154.9,65.01 154.4,64.96 153.9,64.91 153.4,64.86 152.9,64.82 152.4,64.77 151.9,64.73 151.4,64.68 150.9,64.64" fill="#00a8ff"/>
<polygon points="150.9,59.61 151.4,59.65 151.9,59.7 152.4,59.74 152.9,59.79 153.4,59.83 153.9,59.88 154.4,59.93 154.9,59.98 155.4,60.03 155.9,60.09 156.4,60.16 156.9,60.23 157.4,60.31 157.9,60.4 158.4,60.49 158.9,60.58 159.4,60.68 159.9,60.79 160.4,60.91 160.9,61.05 161.4,61.21 161.9,61.38 162.4,61.54 162.9,61.68 163.4,61.78 163.9,61.8 164.4,61.73 164.9,61.42 165.4,60.46 165.9,59.25 166.4,57.82 166.9,56.27 167.4,54.68 167.9,53.11 168.4,51.55 168.9,49.9 169.4,48.28 169.9,46.81 170.4,45.5 170.9,44.46 171.4,43.59 171.9,42.91 172.4,42.42 172.9,42.13 173.4,42.35 173.9,42.89 174.4,43.61 174.9,44.44 175.4,45.3 175.9,46.28 176.4,47.28 176.9,48.26 177.4,49.14 177.9,49.87 178.4,50.51 178.9,51.1 179.4,51.66 179.9,52.19 180.4,52.7 180.9,53.21 181.4,53.7 181.9,54.18 182.4,54.64 182.9,55.07 183.4,55.47 183.9,55.86 184.4,56.22 184.9,56.56 185.4,56.88 185.9,57.19 186.4,57.48 186.9,57.77 187.4,58.04 187.9,58.3 188.4,58.55 188.9,58.79 189.4,59.01 189.9,59.23 190.4,59.43 190.9,59.62 191.4,59.79 191.9,59.95 192.4,60.08 192.9,60.2 193.4,60.29 193.9,60.35 194.4,60.39 194.9,60.4 195.4,60.4 195.9,60.4 196.4,60.38 196.9,60.36 197.4,60.32 197.9,60.28 198.4,60.24 198.9,60.18 199.4,60.12 199.9,60.05 200.4,59.97 200.9,59.87 201.4,59.76 201.9,59.64 202.4,59.51 202.9,59.37 203.4,59.23 203.9,59.09 204.4,58.96 204.9,58.83 205.4,58.71 205.9,58.59 206.4,58.46 206.9,58.34 207.4,58.22 207.9,58.1 208.4,57.98 208.9,57.86 209.4,57.74 209.9,57.62 210.4,57.5 210.9,57.38 211.4,57.25 211.6,57.21 211.6,61.79 211.4,61.84 210.9,61.96 210.4,62.08 209.9,62.2 209.4,62.33 208.9,62.45 208.4,62.57 207.9,62.69 207.4,62.81 206.9,62.93 206.4,63.05 205.9,63.17 205.4,63.3 204.9,63.42 204.4,63.55 203.9,63.68 203.4,63.82 202.9,63.96 202.4,64.09 201.9,64.23 201.4,64.35 200.9,64.46 200.4,64.56 199.9,64.64 199.4,64.71 198.9,64.77 198.4,64.83 197.9,64.87 197.4,64.91 196.9,64.94 196.4,64.97 195.9,64.98 195.4,64.99 194.9,64.99 194.4,64.98 193.9,64.94 193.4,64.88 192.9,64.79 192.4,64.67 191.9,64.53 191.4,64.38 190.9,64.2 190.4,64.02 189.9,63.81 189.4,63.6 188.9,63.38 188.4,63.14 187.9,62.89 187.4,62.63 186.9,62.36 186.4,62.07 185.9,61.78 185.4,61.47 184.9,61.14 184.4,60.8 183.9,60.44 183.4,60.06 182.9,59.66 182.4,59.22 181.9,58.77 181.4,58.29 180.9,57.79 180.4,57.29 179.9,56.78 179.4,56.25 178.9,55.69 178.4,55.1 177.9,54.46 177.4,53.72 176.9,52.85 176.4,51.87 175.9,50.9 175.4,50.05 174.9,49.32 174.4,48.63 173.9,48.04 173.4,47.64 172.9,47.49 172.4,47.65 171.9,48.01 171.4,48.56 170.9,49.29 170.4,50.19 169.9,51.4 169.4,52.87 168.9,54.48 168.4,56.14 167.9,57.7 167.4,59.26 166.9,60.85 166.4,62.41 165.9,63.84 165.4,65.05 164.9,66.01 164.4,66.32 163.9,66.39 163.4,66.37 162.9,66.27 162.4,66.12 161.9,65.97 161.4,65.8 160.9,65.64 160.4,65.5 159.9,65.37 159.4,65.27 158.9,65.17 158.4,65.07 157.9,64.98 157.4,64.9 156.9,64.82 156.4,64.75 155.9,64.68 155.4,64.62 154.9,64.57 154.4,64.52 153.9,64.47 153.4,64.42 152.9,64.37 152.4,64.33 151.9,64.28 151.4,64.24 150.9,64.19" fill="#00f0f0"/>
<polygon points="150.9,60.12 151.4,60.17 151.9,60.21 152.4,60.26 152.9,60.3 153.4,60.35 153.9,60.4 154.4,60.45 154.9,60.5 155.4,60.55 155.9,60.61 156.4,60.68 156.9,60.75 157.4,60.83 157.9,60.91 158.4,61 158.9,61.1 159.4,61.2 159.9,61.3 160.4,61.43 160.9,61.57 161.4,61.73 161.9,61.9 162.4,62.05 162.9,62.2 163.4,62.3 163.9,62.32 164.4,62.25 164.9,61.94 165.4,60.98 165.9,59.77 166.4,58.34 166.9,56.78 167.4,55.19 167.9,53.63 168.4,52.07 168.9,50.41 169.4,48.8 169.9,47.33 170.4,46.04 170.9,45.03 171.4,44.2 171.9,43.54 172.4,43.08 172.9,42.82 173.4,43.03 173.9,43.54 174.4,44.23 174.9,45.02 175.4,45.86 175.9,46.81 176.4,47.8 176.9,48.78 177.4,49.65 177.9,50.39 178.4,51.03 178.9,51.62 179.4,52.18 179.9,52.71 180.4,53.22 180.9,53.72 181.4,54.22 181.9,54.7 182.4,55.15 182.9,55.59 183.4,55.99 183.9,56.37 184.4,56.73 184.9,57.07 185.4,57.4 185.9,57.71 186.4,58 186.9,58.29 187.4,58.56 187.9,58.82 188.4,59.07 188.9,59.31 189.4,59.53 189.9,59.74 190.4,59.95 190.9,60.13 191.4,60.31 191.9,60.46 192.4,60.6 192.9,60.72 193.4,60.81 193.9,60.87 194.4,60.91 194.9,60.92 195.4,60.92 195.9,60.91 196.4,60.9 196.9,60.87 197.4,60.84 197.9,60.8 198.4,60.76 198.9,60.7 199.4,60.64 199.9,60.57 200.4,60.49 200.9,60.39 201.4,60.28 201.9,60.16 202.4,60.02 202.9,59.89 203.4,59.75 203.9,59.61 204.4,59.48 204.9,59.35 205.4,59.23 205.9,59.1 206.4,58.98 206.9,58.86 207.4,58.74 207.9,58.62 208.4,58.5 208.9,58.38 209.4,58.26 209.9,58.13 210.4,58.01 210.9,57.89 211.4,57.77 211.6,57.72 211.6,61.28 211.4,61.32 210.9,61.45 210.4,61.57 209.9,61.69 209.4,61.81 208.9,61.93 208.4,62.05 207.9,62.17 207.4,62.29 206.9,62.41 206.4,62.53 205.9,62.66 205.4,62.78 204.9,62.9 204.4,63.03 203.9,63.16 203.4,63.3 202.9,63.44 202.4,63.58 201.9,63.71 201.4,63.83 200.9,63.94 200.4,64.04 199.9,64.12 199.4,64.19 198.9,64.25 198.4,64.31 197.9,64.35 197.4,64.39 196.9,64.43 196.4,64.45 195.9,64.47 195.4,64.47 194.9,64.47 194.4,64.46 193.9,64.42 193.4,64.36 192.9,64.27 192.4,64.15 191.9,64.02 191.4,63.86 190.9,63.69 190.4,63.5 189.9,63.3 189.4,63.08 188.9,62.86 188.4,62.62 187.9,62.37 187.4,62.11 186.9,61.84 186.4,61.55 185.9,61.26 185.4,60.95 184.9,60.63 184.4,60.29 183.9,59.93 183.4,59.54 182.9,59.14 182.4,58.71 181.9,58.25 181.4,57.77 180.9,57.28 180.4,56.77 179.9,56.26 179.4,55.73 178.9,55.17 178.4,54.58 177.9,53.94 177.4,53.21 176.9,52.33 176.4,51.35 175.9,50.38 175.4,49.53 174.9,48.81 174.4,48.11 173.9,47.53 173.4,47.12 172.9,46.98 172.4,47.13 171.9,47.49 171.4,48.04 170.9,48.77 170.4,49.68 169.9,50.88 169.4,52.35 168.9,53.97 168.4,55.62 167.9,57.18 167.4,58.75 166.9,60.34 166.4,61.89 165.9,63.32 165.4,64.53 164.9,65.49 164.4,65.8 163.9,65.87 163.4,65.85 162.9,65.75 162.4,65.61 161.9,65.45 161.4,65.28 160.9,65.12 160.4,64.98 159.9,64.86 159.4,64.75 158.9,64.65 158.4,64.56 157.9,64.47 157.4,64.38 156.9,64.3 156.4,64.23 155.9,64.16 155.4,64.1 154.9,64.05 154.4,64 153.9,63.95 153.4,63.9 152.9,63.86 152.4,63.81 151.9,63.77 151.4,63.72 150.9,63.68" fill="#9cff64"/>
<polygon points="150.9,60.57 151.4,60.61 151.9,60.66 152.4,60.7 152.9,60.75 153.4,60.79 153.9,60.84 154.4,60.89 154.9,60.94 155.4,61 155.9,61.06 156.4,61.12 156.9,61.2 157.4,61.27 157.9,61.36 158.4,61.45 158.9,61.54 159.4,61.64 159.9,61.75 160.4,61.87 160.9,62.02 161.4,62.18 161.9,62.34 162.4,62.5 162.9,62.64 163.4,62.75 163.9,62.77 164.4,62.69 164.9,62.38 165.4,61.42 165.9,60.22 166.4,58.79 166.9,57.23 167.4,55.64 167.9,54.08 168.4,52.51 168.9,50.86 169.4,49.24 169.9,47.77 170.4,46.51 170.9,45.52 171.4,44.71 171.9,44.09 172.4,43.65 172.9,43.42 173.4,43.61 173.9,44.09 174.4,44.76 174.9,45.53 175.4,46.33 175.9,47.26 176.4,48.24 176.9,49.22 177.4,50.1 177.9,50.83 178.4,51.48 178.9,52.07 179.4,52.62 179.9,53.15 180.4,53.67 180.9,54.17 181.4,54.66 181.9,55.14 182.4,55.6 182.9,56.03 183.4,56.44 183.9,56.82 184.4,57.18 184.9,57.52 185.4,57.84 185.9,58.15 186.4,58.45 186.9,58.73 187.4,59.01 187.9,59.26 188.4,59.51 188.9,59.75 189.4,59.98 189.9,60.19 190.4,60.39 190.9,60.58 191.4,60.75 191.9,60.91 192.4,61.05 192.9,61.16 193.4,61.26 193.9,61.32 194.4,61.35 194.9,61.36 195.4,61.37 195.9,61.36 196.4,61.34 196.9,61.32 197.4,61.28 197.9,61.25 198.4,61.2 198.9,61.14 199.4,61.09 199.9,61.01 200.4,60.93 200.9,60.84 201.4,60.72 201.9,60.6 202.4,60.47 202.9,60.33 203.4,60.19 203.9,60.05 204.4,59.92 204.9,59.79 205.4,59.67 205.9,59.55 206.4,59.43 206.9,59.3 207.4,59.18 207.9,59.06 208.4,58.94 208.9,58.82 209.4,58.7 209.9,58.58 210.4,58.46 210.9,58.34 211.4,58.22 211.6,58.17 211.6,60.83 211.4,60.88 210.9,61 210.4,61.12 209.9,61.24 209.4,61.36 208.9,61.48 208.4,61.61 207.9,61.73 207.4,61.85 206.9,61.97 206.4,62.09 205.9,62.21 205.4,62.33 204.9,62.46 204.4,62.59 203.9,62.72 203.4,62.86 202.9,62.99 202.4,63.13 201.9,63.26 201.4,63.39 200.9,63.5 200.4,63.59 199.9,63.68 199.4,63.75 198.9,63.81 198.4,63.86 197.9,63.91 197.4,63.95 196.9,63.98 196.4,64 195.9,64.02 195.4,64.03 194.9,64.03 194.4,64.01 193.9,63.98 193.4,63.92 192.9,63.83 192.4,63.71 191.9,63.57 191.4,63.42 190.9,63.24 190.4,63.05 189.9,62.85 189.4,62.64 188.9,62.41 188.4,62.18 187.9,61.93 187.4,61.67 186.9,61.4 186.4,61.11 185.9,60.81 185.4,60.51 184.9,60.18 184.4,59.84 183.9,59.48 183.4,59.1 182.9,58.69 182.4,58.26 181.9,57.8 181.4,57.33 180.9,56.83 180.4,56.33 179.9,55.82 179.4,55.29 178.9,54.73 178.4,54.14 177.9,53.5 177.4,52.76 176.9,51.89 176.4,50.91 175.9,49.93 175.4,49.09 174.9,48.36 174.4,47.67 173.9,47.08 173.4,46.68 172.9,46.53 172.4,46.69 171.9,47.05 171.4,47.6 170.9,48.33 170.4,49.23 169.9,50.44 169.4,51.9 168.9,53.52 168.4,55.18 167.9,56.74 167.4,58.3 166.9,59.89 166.4,61.45 165.9,62.88 165.4,64.08 164.9,65.04 164.4,65.36 163.9,65.43 163.4,65.41 162.9,65.31 162.4,65.16 161.9,65.01 161.4,64.84 160.9,64.68 160.4,64.54 159.9,64.41 159.4,64.31 158.9,64.21 158.4,64.11 157.9,64.02 157.4,63.94 156.9,63.86 156.4,63.79 155.9,63.72 155.4,63.66 154.9,63.61 154.4,63.55 153.9,63.5 153.4,63.46 152.9,63.41 152.4,63.37 151.9,63.32 151.4,63.28 150.9,63.23" fill="#ffe600"/>
<polygon points="150.9,61.01 151.4,61.06 151.9,61.1 152.4,61.15 152.9,61.19 153.4,61.24 153.9,61.28 154.4,61.33 154.9,61.39 155.4,61.44 155.9,61.5 156.4,61.57 156.9,61.64 157.4,61.72 157.9,61.8 158.4,61.89 158.9,61.99 159.4,62.09 159.9,62.19 160.4,62.32 160.9,62.46 161.4,62.62 161.9,62.79 162.4,62.94 162.9,63.09 163.4,63.19 163.9,63.21 164.4,63.14 164.9,62.82 165.4,61.86 165.9,60.66 166.4,59.23 166.9,57.67 167.4,56.08 167.9,54.52 168.4,52.96 168.9,51.3 169.4,49.68 169.9,48.22 170.4,46.97 170.9,46.01 171.4,45.23 171.9,44.63 172.4,44.22 172.9,44.01 173.4,44.19 173.9,44.64 174.4,45.28 174.9,46.03 175.4,46.81 175.9,47.7 176.4,48.69 176.9,49.67 177.4,50.54 177.9,51.28 178.4,51.92 178.9,52.51 179.4,53.07 179.9,53.6 180.4,54.11 180.9,54.61 181.4,55.11 181.9,55.58 182.4,56.04 182.9,56.47 183.4,56.88 183.9,57.26 184.4,57.62 184.9,57.96 185.4,58.29 185.9,58.59 186.4,58.89 186.9,59.18 187.4,59.45 187.9,59.71 188.4,59.96 188.9,60.19 189.4,60.42 189.9,60.63 190.4,60.83 190.9,61.02 191.4,61.2 191.9,61.35 192.4,61.49 192.9,61.61 193.4,61.7 193.9,61.76 194.4,61.79 194.9,61.81 195.4,61.81 195.9,61.8 196.4,61.78 196.9,61.76 197.4,61.73 197.9,61.69 198.4,61.64 198.9,61.59 199.4,61.53 199.9,61.46 200.4,61.37 200.9,61.28 201.4,61.17 201.9,61.04 202.4,60.91 202.9,60.77 203.4,60.64 203.9,60.5 204.4,60.37 204.9,60.24 205.4,60.11 205.9,59.99 206.4,59.87 206.9,59.75 207.4,59.63 207.9,59.51 208.4,59.39 208.9,59.26 209.4,59.14 209.9,59.02 210.4,58.9 210.9,58.78 211.4,58.66 211.6,58.61 211.6,60.39 211.4,60.44 210.9,60.56 210.4,60.68 209.9,60.8 209.4,60.92 208.9,61.04 208.4,61.16 207.9,61.28 207.4,61.4 206.9,61.52 206.4,61.65 205.9,61.77 205.4,61.89 204.9,62.01 204.4,62.14 203.9,62.27 203.4,62.41 202.9,62.55 202.4,62.69 201.9,62.82 201.4,62.94 200.9,63.06 200.4,63.15 199.9,63.23 199.4,63.31 198.9,63.36 198.4,63.42 197.9,63.47 197.4,63.5 196.9,63.54 196.4,63.56 195.9,63.58 195.4,63.59 194.9,63.58 194.4,63.57 193.9,63.54 193.4,63.48 192.9,63.38 192.4,63.27 191.9,63.13 191.4,62.97 190.9,62.8 190.4,62.61 189.9,62.41 189.4,62.2 188.9,61.97 188.4,61.73 187.9,61.48 187.4,61.23 186.9,60.95 186.4,60.67 185.9,60.37 185.4,60.06 184.9,59.74 184.4,59.4 183.9,59.04 183.4,58.66 182.9,58.25 182.4,57.82 181.9,57.36 181.4,56.88 180.9,56.39 180.4,55.89 179.9,55.37 179.4,54.84 178.9,54.29 178.4,53.7 177.9,53.05 177.4,52.32 176.9,51.44 176.4,50.46 175.9,49.49 175.4,48.65 174.9,47.92 174.4,47.23 173.9,46.64 173.4,46.23 172.9,46.09 172.4,46.24 171.9,46.6 171.4,47.15 170.9,47.88 170.4,48.79 169.9,49.99 169.4,51.46 168.9,53.08 168.4,54.73 167.9,56.3 167.4,57.86 166.9,59.45 166.4,61.01 165.9,62.44 165.4,63.64 164.9,64.6 164.4,64.91 163.9,64.99 163.4,64.97 162.9,64.86 162.4,64.72 161.9,64.56 161.4,64.4 160.9,64.24 160.4,64.09 159.9,63.97 159.4,63.86 158.9,63.76 158.4,63.67 157.9,63.58 157.4,63.49 156.9,63.42 156.4,63.34 155.9,63.28 155.4,63.22 154.9,63.16 154.4,63.11 153.9,63.06 153.4,63.01 152.9,62.97 152.4,62.92 151.9,62.88 151.4,62.83 150.9,62.79" fill="#ff8c00"/>
<polygon points="150.9,61.57 151.4,61.61 151.9,61.66 152.4,61.7 152.9,61.75 153.4,61.79 153.9,61.84 154.4,61.89 154.9,61.94 155.4,62 155.9,62.06 156.4,62.12 156.9,62.19 157.4,62.27 157.9,62.36 158.4,62.45 158.9,62.54 159.4,62.64 159.9,62.75 160.4,62.87 160.9,63.01 161.4,63.17 161.9,63.34 162.4,63.5 162.9,63.64 163.4,63.74 163.9,63.77 164.4,63.69 164.9,63.38 165.4,62.42 165.9,61.21 166.4,59.78 166.9,58.23 167.4,56.64 167.9,55.08 168.4,53.51 168.9,51.86 169.4,50.24 169.9,48.77 170.4,47.55 170.9,46.62 171.4,45.88 171.9,45.31 172.4,44.93 172.9,44.75 173.4,44.91 173.9,45.34 174.4,45.94 174.9,46.65 175.4,47.4 175.9,48.27 176.4,49.24 176.9,50.22 177.4,51.1 177.9,51.83 178.4,52.48 178.9,53.07 179.4,53.62 179.9,54.15 180.4,54.66 180.9,55.17 181.4,55.66 181.9,56.14 182.4,56.6 182.9,57.03 183.4,57.44 183.9,57.82 184.4,58.18 184.9,58.52 185.4,58.84 185.9,59.15 186.4,59.45 186.9,59.73 187.4,60 187.9,60.26 188.4,60.51 188.9,60.75 189.4,60.98 189.9,61.19 190.4,61.39 190.9,61.58 191.4,61.75 191.9,61.91 192.4,62.04 192.9,62.16 193.4,62.25 193.9,62.32 194.4,62.35 194.9,62.36 195.4,62.37 195.9,62.36 196.4,62.34 196.9,62.32 197.4,62.28 197.9,62.24 198.4,62.2 198.9,62.14 199.4,62.08 199.9,62.01 200.4,61.93 200.9,61.83 201.4,61.72 201.9,61.6 202.4,61.47 202.9,61.33 203.4,61.19 203.9,61.05 204.4,60.92 204.9,60.79 205.4,60.67 205.9,60.55 206.4,60.43 206.9,60.3 207.4,60.18 207.9,60.06 208.4,59.94 208.9,59.82 209.4,59.7 209.9,59.58 210.4,59.46 210.9,59.34 211.4,59.22 211.6,59.17 211.6,59.83 211.4,59.88 210.9,60 210.4,60.12 209.9,60.24 209.4,60.36 208.9,60.49 208.4,60.61 207.9,60.73 207.4,60.85 206.9,60.97 206.4,61.09 205.9,61.21 205.4,61.34 204.9,61.46 204.4,61.59 203.9,61.72 203.4,61.86 202.9,62 202.4,62.13 201.9,62.26 201.4,62.39 200.9,62.5 200.4,62.6 199.9,62.68 199.4,62.75 198.9,62.81 198.4,62.87 197.9,62.91 197.4,62.95 196.9,62.98 196.4,63.01 195.9,63.02 195.4,63.03 194.9,63.03 194.4,63.01 193.9,62.98 193.4,62.92 192.9,62.83 192.4,62.71 191.9,62.57 191.4,62.42 190.9,62.24 190.4,62.05 189.9,61.85 189.4,61.64 188.9,61.42 188.4,61.18 187.9,60.93 187.4,60.67 186.9,60.4 186.4,60.11 185.9,59.82 185.4,59.51 184.9,59.18 184.4,58.84 183.9,58.48 183.4,58.1 182.9,57.7 182.4,57.26 181.9,56.81 181.4,56.33 180.9,55.83 180.4,55.33 179.9,54.82 179.4,54.29 178.9,53.73 178.4,53.14 177.9,52.5 177.4,51.76 176.9,50.89 176.4,49.91 175.9,48.94 175.4,48.09 174.9,47.36 174.4,46.67 173.9,46.08 173.4,45.68 172.9,45.53 172.4,45.69 171.9,46.05 171.4,46.6 170.9,47.33 170.4,48.23 169.9,49.44 169.4,50.9 168.9,52.52 168.4,54.18 167.9,55.74 167.4,57.3 166.9,58.89 166.4,60.45 165.9,61.88 165.4,63.09 164.9,64.05 164.4,64.36 163.9,64.43 163.4,64.41 162.9,64.31 162.4,64.16 161.9,64.01 161.4,63.84 160.9,63.68 160.4,63.54 159.9,63.41 159.4,63.31 158.9,63.21 158.4,63.11 157.9,63.02 157.4,62.94 156.9,62.86 156.4,62.79 155.9,62.72 155.4,62.66 154.9,62.61 154.4,62.55 153.9,62.51 153.4,62.46 152.9,62.41 152.4,62.37 151.9,62.32 151.4,62.28 150.9,62.23" fill="#f21a00"/>
<path d="M384.3 29.8 V88.3 H446" fill="none" stroke="#747474" stroke-width="1"/>
<path d="M384.3 32.99 H386.5" stroke="#747474" stroke-width="1"/>
<text x="379.3" y="36.29" font-size="10.2" text-anchor="end" fill="#262626" font-family="Liberation Sans, sans-serif">150</text>
<path d="M384.3 51.65 H386.5" stroke="#747474" stroke-width="1"/>
<text x="379.3" y="54.95" font-size="10.2" text-anchor="end" fill="#262626" font-family="Liberation Sans, sans-serif">75</text>
<path d="M384.3 70.3 H386.5" stroke="#747474" stroke-width="1"/>
<text x="379.3" y="73.6" font-size="10.2" text-anchor="end" fill="#262626" font-family="Liberation Sans, sans-serif">0</text>
<path d="M408.6 88.3 V86" stroke="#747474" stroke-width="1"/>
<text x="408.6" y="101.8" font-size="10.2" text-anchor="middle" fill="#262626" font-family="Liberation Sans, sans-serif">1</text>
<path d="M433.2 88.3 V86" stroke="#747474" stroke-width="1"/>
<text x="433.2" y="101.8" font-size="10.2" text-anchor="middle" fill="#262626" font-family="Liberation Sans, sans-serif">2</text>
<text x="415.98" y="112.9" font-size="11.2" text-anchor="middle" fill="#262626" font-family="Liberation Sans, sans-serif">Time (ms)</text>
<text transform="translate(356.6,59.3) rotate(-90)" font-size="11.55" text-anchor="middle" fill="#262626" font-family="Liberation Sans, sans-serif">Waveform (μV)</text>
<polygon points="385,68.03 385.5,68.06 386,68.1 386.5,68.13 387,68.16 387.5,68.19 388,68.22 388.5,68.23 389,68.25 389.5,68.24 390,68.23 390.5,68.2 391,68.14 391.5,68.08 392,68 392.5,67.9 393,67.79 393.5,67.67 394,67.53 394.5,67.33 395,67.01 395.5,66.66 396,66.39 396.5,66.33 397,66.61 397.5,67.13 398,67.88 398.5,68.73 399,69.97 399.5,71.48 400,72.88 400.5,73.64 401,73.37 401.5,71.86 402,69.49 402.5,66.73 403,63.64 403.5,60.18 404,56.48 404.5,52.73 405,48.69 405.5,44.26 406,40.45 406.5,37.47 407,35.33 407.5,34.62 408,35.49 408.5,37.27 409,39.48 409.5,42.21 410,45.32 410.5,48.23 411,50.73 411.5,52.75 412,54.57 412.5,56.24 413,57.79 413.5,59.23 414,60.56 414.5,61.74 415,62.82 415.5,63.81 416,64.73 416.5,65.6 417,66.41 417.5,67.17 418,67.89 418.5,68.58 419,69.23 419.5,69.9 420,70.55 420.5,71.12 421,71.52 421.5,71.73 422,71.78 422.5,71.69 423,71.52 423.5,71.31 424,71.1 424.5,70.91 425,70.73 425.5,70.59 426,70.44 426.5,70.3 427,70.15 427.5,70 428,69.85 428.5,69.7 429,69.55 429.5,69.39 430,69.23 430.5,69.07 431,68.91 431.5,68.74 432,68.57 432.5,68.4 433,68.23 433.5,68.07 434,67.9 434.5,67.73 435,67.56 435.5,67.4 436,67.23 436.5,67.08 437,66.92 437.5,66.77 438,66.62 438.5,66.47 439,66.32 439.5,66.17 440,66.03 440.5,65.88 441,65.73 441.5,65.59 442,65.45 442.5,65.31 443,65.17 443.5,65.03 444,64.89 444.5,64.75 445,64.61 445.5,64.47 446,64.33 446,74.86 445.5,75 445,75.14 444.5,75.28 444,75.42 443.5,75.56 443,75.7 442.5,75.84 442,75.98 441.5,76.12 441,76.27 440.5,76.41 440,76.56 439.5,76.7 439,76.85 438.5,77 438,77.15 437.5,77.3 437,77.45 436.5,77.61 436,77.77 435.5,77.93 435,78.09 434.5,78.26 434,78.43 433.5,78.6 433,78.77 432.5,78.93 432,79.1 431.5,79.27 431,79.44 430.5,79.6 430,79.77 429.5,79.92 429,80.08 428.5,80.23 428,80.38 427.5,80.53 427,80.68 426.5,80.83 426,80.97 425.5,81.12 425,81.27 424.5,81.44 424,81.63 423.5,81.84 423,82.05 422.5,82.22 422,82.31 421.5,82.27 421,82.05 420.5,81.65 420,81.08 419.5,80.43 419,79.77 418.5,79.11 418,78.42 417.5,77.7 417,76.94 416.5,76.13 416,75.27 415.5,74.34 415,73.35 414.5,72.27 414,71.09 413.5,69.77 413,68.32 412.5,66.77 412,65.1 411.5,63.28 411,61.27 410.5,58.76 410,55.85 409.5,52.87 409,50.27 408.5,48.19 408,46.54 407.5,45.8 407,46.42 406.5,48.42 406,51.27 405.5,54.93 405,59.22 404.5,63.27 404,67.01 403.5,70.71 403,74.17 402.5,77.27 402,80.02 401.5,82.39 401,83.9 400.5,84.17 400,83.41 399.5,82.01 399,80.5 398.5,79.27 398,78.41 397.5,77.66 397,77.14 396.5,76.86 396,76.92 395.5,77.19 395,77.54 394.5,77.86 394,78.06 393.5,78.2 393,78.32 392.5,78.43 392,78.53 391.5,78.61 391,78.67 390.5,78.73 390,78.77 389.5,78.77 389,78.78 388.5,78.76 388,78.75 387.5,78.72 387,78.69 386.5,78.66 386,78.63 385.5,78.59 385,78.56" fill="#ececff"/>
<polygon points="385,69.4 385.5,69.43 386,69.46 386.5,69.5 387,69.53 387.5,69.56 388,69.58 388.5,69.6 389,69.61 389.5,69.61 390,69.6 390.5,69.56 391,69.51 391.5,69.45 392,69.36 392.5,69.27 393,69.16 393.5,69.04 394,68.9 394.5,68.69 395,68.38 395.5,68.02 396,67.75 396.5,67.7 397,67.98 397.5,68.49 398,69.24 398.5,70.1 399,71.33 399.5,72.84 400,74.25 400.5,75 401,74.73 401.5,73.22 402,70.86 402.5,68.1 403,65.01 403.5,61.55 404,57.85 404.5,54.1 405,50.05 405.5,45.66 406,41.89 406.5,38.94 407,36.84 407.5,36.16 408,36.99 408.5,38.74 409,40.91 409.5,43.61 410,46.69 410.5,49.59 411,52.1 411.5,54.12 412,55.94 412.5,57.6 413,59.15 413.5,60.6 414,61.92 414.5,63.11 415,64.18 415.5,65.17 416,66.1 416.5,66.97 417,67.78 417.5,68.54 418,69.26 418.5,69.95 419,70.6 419.5,71.26 420,71.92 420.5,72.48 421,72.89 421.5,73.1 422,73.14 422.5,73.05 423,72.88 423.5,72.68 424,72.47 424.5,72.27 425,72.1 425.5,71.95 426,71.81 426.5,71.66 427,71.51 427.5,71.37 428,71.22 428.5,71.07 429,70.91 429.5,70.76 430,70.6 430.5,70.44 431,70.27 431.5,70.11 432,69.94 432.5,69.77 433,69.6 433.5,69.43 434,69.26 434.5,69.09 435,68.93 435.5,68.76 436,68.6 436.5,68.44 437,68.29 437.5,68.13 438,67.98 438.5,67.83 439,67.68 439.5,67.54 440,67.39 440.5,67.25 441,67.1 441.5,66.96 442,66.81 442.5,66.67 443,66.53 443.5,66.39 444,66.25 444.5,66.12 445,65.98 445.5,65.84 446,65.7 446,73.5 445.5,73.64 445,73.78 444.5,73.92 444,74.05 443.5,74.19 443,74.33 442.5,74.47 442,74.61 441.5,74.76 441,74.9 440.5,75.05 440,75.19 439.5,75.34 439,75.48 438.5,75.63 438,75.78 437.5,75.93 437,76.09 436.5,76.24 436,76.4 435.5,76.56 435,76.73 434.5,76.89 434,77.06 433.5,77.23 433,77.4 432.5,77.57 432,77.74 431.5,77.91 431,78.07 430.5,78.24 430,78.4 429.5,78.56 429,78.71 428.5,78.87 428,79.02 427.5,79.17 427,79.31 426.5,79.46 426,79.61 425.5,79.75 425,79.9 424.5,80.07 424,80.27 423.5,80.48 423,80.68 422.5,80.85 422,80.94 421.5,80.9 421,80.69 420.5,80.28 420,79.72 419.5,79.06 419,78.4 418.5,77.75 418,77.06 417.5,76.34 417,75.58 416.5,74.77 416,73.9 415.5,72.97 415,71.98 414.5,70.91 414,69.72 413.5,68.4 413,66.95 412.5,65.4 412,63.74 411.5,61.92 411,59.9 410.5,57.39 410,54.49 409.5,51.5 409,48.9 408.5,46.83 408,45.18 407.5,44.44 407,45.06 406.5,47.05 406,49.9 405.5,53.56 405,57.85 404.5,61.9 404,65.65 403.5,69.35 403,72.81 402.5,75.9 402,78.66 401.5,81.02 401,82.53 400.5,82.8 400,82.05 399.5,80.64 399,79.13 398.5,77.9 398,77.04 397.5,76.29 397,75.78 396.5,75.5 396,75.55 395.5,75.82 395,76.18 394.5,76.49 394,76.7 393.5,76.84 393,76.96 392.5,77.07 392,77.16 391.5,77.25 391,77.31 390.5,77.36 390,77.4 389.5,77.41 389,77.41 388.5,77.4 388,77.38 387.5,77.36 387,77.33 386.5,77.3 386,77.26 385.5,77.23 385,77.2" fill="#1414ff"/>
<polygon points="385,69.95 385.5,69.97 386,70.01 386.5,70.04 387,70.07 387.5,70.1 388,70.13 388.5,70.15 389,70.16 389.5,70.16 390,70.15 390.5,70.11 391,70.06 391.5,69.99 392,69.91 392.5,69.81 393,69.71 393.5,69.58 394,69.45 394.5,69.24 395,68.92 395.5,68.57 396,68.3 396.5,68.25 397,68.52 397.5,69.04 398,69.79 398.5,70.65 399,71.88 399.5,73.39 400,74.79 400.5,75.55 401,75.28 401.5,73.77 402,71.4 402.5,68.65 403,65.55 403.5,62.09 404,58.4 404.5,54.65 405,50.6 405.5,46.22 406,42.47 406.5,39.53 407,37.44 407.5,36.77 408,37.59 408.5,39.33 409,41.48 409.5,44.17 410,47.23 410.5,50.14 411,52.65 411.5,54.66 412,56.48 412.5,58.15 413,59.7 413.5,61.15 414,62.47 414.5,63.65 415,64.73 415.5,65.72 416,66.65 416.5,67.51 417,68.32 417.5,69.08 418,69.8 418.5,70.49 419,71.15 419.5,71.81 420,72.47 420.5,73.03 421,73.43 421.5,73.65 422,73.69 422.5,73.6 423,73.43 423.5,73.22 424,73.01 424.5,72.82 425,72.65 425.5,72.5 426,72.35 426.5,72.21 427,72.06 427.5,71.91 428,71.76 428.5,71.61 429,71.46 429.5,71.3 430,71.15 430.5,70.98 431,70.82 431.5,70.65 432,70.49 432.5,70.32 433,70.15 433.5,69.98 434,69.81 434.5,69.64 435,69.47 435.5,69.31 436,69.15 436.5,68.99 437,68.83 437.5,68.68 438,68.53 438.5,68.38 439,68.23 439.5,68.08 440,67.94 440.5,67.79 441,67.65 441.5,67.5 442,67.36 442.5,67.22 443,67.08 443.5,66.94 444,66.8 444.5,66.66 445,66.52 445.5,66.38 446,66.25 446,72.95 445.5,73.09 445,73.23 444.5,73.37 444,73.51 443.5,73.65 443,73.79 442.5,73.93 442,74.07 441.5,74.21 441,74.35 440.5,74.5 440,74.64 439.5,74.79 439,74.94 438.5,75.09 438,75.24 437.5,75.39 437,75.54 436.5,75.7 436,75.85 435.5,76.02 435,76.18 434.5,76.35 434,76.51 433.5,76.68 433,76.85 432.5,77.02 432,77.19 431.5,77.36 431,77.53 430.5,77.69 430,77.85 429.5,78.01 429,78.17 428.5,78.32 428,78.47 427.5,78.62 427,78.77 426.5,78.91 426,79.06 425.5,79.21 425,79.35 424.5,79.53 424,79.72 423.5,79.93 423,80.14 422.5,80.31 422,80.4 421.5,80.35 421,80.14 420.5,79.74 420,79.17 419.5,78.52 419,77.85 418.5,77.2 418,76.51 417.5,75.79 417,75.03 416.5,74.22 416,73.35 415.5,72.42 415,71.44 414.5,70.36 414,69.17 413.5,67.85 413,66.4 412.5,64.86 412,63.19 411.5,61.37 411,59.35 410.5,56.85 410,53.94 409.5,50.96 409,48.35 408.5,46.28 408,44.63 407.5,43.89 407,44.51 406.5,46.51 406,49.35 405.5,53.02 405,57.31 404.5,61.35 404,65.1 403.5,68.8 403,72.26 402.5,75.35 402,78.11 401.5,80.48 401,81.99 400.5,82.26 400,81.5 399.5,80.09 399,78.59 398.5,77.35 398,76.5 397.5,75.74 397,75.23 396.5,74.95 396,75.01 395.5,75.28 395,75.63 394.5,75.95 394,76.15 393.5,76.29 393,76.41 392.5,76.52 392,76.62 391.5,76.7 391,76.76 390.5,76.81 390,76.85 389.5,76.86 389,76.87 388.5,76.85 388,76.84 387.5,76.81 387,76.78 386.5,76.75 386,76.72 385.5,76.68 385,76.65" fill="#0050ff"/>
<polygon points="385,70.41 385.5,70.44 386,70.48 386.5,70.51 387,70.54 387.5,70.57 388,70.6 388.5,70.61 389,70.63 389.5,70.62 390,70.61 390.5,70.57 391,70.52 391.5,70.46 392,70.38 392.5,70.28 393,70.17 393.5,70.05 394,69.91 394.5,69.71 395,69.39 395.5,69.04 396,68.77 396.5,68.71 397,68.99 397.5,69.5 398,70.26 398.5,71.11 399,72.35 399.5,73.85 400,75.26 400.5,76.02 401,75.75 401.5,74.24 402,71.87 402.5,69.11 403,66.02 403.5,62.56 404,58.86 404.5,55.11 405,51.07 405.5,46.7 406,42.96 406.5,40.04 407,37.96 407.5,37.3 408,38.11 408.5,39.83 409,41.97 409.5,44.64 410,47.7 410.5,50.61 411,53.11 411.5,55.13 412,56.95 412.5,58.62 413,60.16 413.5,61.61 414,62.93 414.5,64.12 415,65.2 415.5,66.18 416,67.11 416.5,67.98 417,68.79 417.5,69.55 418,70.27 418.5,70.96 419,71.61 419.5,72.28 420,72.93 420.5,73.5 421,73.9 421.5,74.11 422,74.16 422.5,74.07 423,73.9 423.5,73.69 424,73.48 424.5,73.29 425,73.11 425.5,72.97 426,72.82 426.5,72.67 427,72.53 427.5,72.38 428,72.23 428.5,72.08 429,71.93 429.5,71.77 430,71.61 430.5,71.45 431,71.29 431.5,71.12 432,70.95 432.5,70.78 433,70.61 433.5,70.44 434,70.27 434.5,70.11 435,69.94 435.5,69.78 436,69.61 436.5,69.46 437,69.3 437.5,69.15 438,69 438.5,68.85 439,68.7 439.5,68.55 440,68.4 440.5,68.26 441,68.11 441.5,67.97 442,67.83 442.5,67.69 443,67.55 443.5,67.41 444,67.27 444.5,67.13 445,66.99 445.5,66.85 446,66.71 446,72.49 445.5,72.62 445,72.76 444.5,72.9 444,73.04 443.5,73.18 443,73.32 442.5,73.46 442,73.6 441.5,73.74 441,73.89 440.5,74.03 440,74.18 439.5,74.32 439,74.47 438.5,74.62 438,74.77 437.5,74.92 437,75.07 436.5,75.23 436,75.39 435.5,75.55 435,75.71 434.5,75.88 434,76.05 433.5,76.22 433,76.39 432.5,76.56 432,76.73 431.5,76.89 431,77.06 430.5,77.22 430,77.39 429.5,77.54 429,77.7 428.5,77.85 428,78 427.5,78.15 427,78.3 426.5,78.45 426,78.59 425.5,78.74 425,78.89 424.5,79.06 424,79.25 423.5,79.46 423,79.67 422.5,79.84 422,79.93 421.5,79.89 421,79.67 420.5,79.27 420,78.71 419.5,78.05 419,77.39 418.5,76.73 418,76.04 417.5,75.32 417,74.56 416.5,73.75 416,72.89 415.5,71.96 415,70.97 414.5,69.89 414,68.71 413.5,67.39 413,65.94 412.5,64.39 412,62.72 411.5,60.9 411,58.89 410.5,56.38 410,53.47 409.5,50.49 409,47.89 408.5,45.81 408,44.17 407.5,43.42 407,44.04 406.5,46.04 406,48.89 405.5,52.55 405,56.84 404.5,60.89 404,64.64 403.5,68.33 403,71.79 402.5,74.89 402,77.64 401.5,80.01 401,81.52 400.5,81.79 400,81.03 399.5,79.63 399,78.12 398.5,76.89 398,76.03 397.5,75.28 397,74.76 396.5,74.49 396,74.54 395.5,74.81 395,75.16 394.5,75.48 394,75.69 393.5,75.82 393,75.95 392.5,76.05 392,76.15 391.5,76.23 391,76.3 390.5,76.35 390,76.39 389.5,76.4 389,76.4 388.5,76.39 388,76.37 387.5,76.34 387,76.31 386.5,76.28 386,76.25 385.5,76.21 385,76.19" fill="#00a8ff"/>
<polygon points="385,70.88 385.5,70.91 386,70.94 386.5,70.98 387,71.01 387.5,71.04 388,71.06 388.5,71.08 389,71.09 389.5,71.09 390,71.08 390.5,71.04 391,70.99 391.5,70.93 392,70.85 392.5,70.75 393,70.64 393.5,70.52 394,70.38 394.5,70.17 395,69.86 395.5,69.51 396,69.23 396.5,69.18 397,69.46 397.5,69.97 398,70.72 398.5,71.58 399,72.82 399.5,74.32 400,75.73 400.5,76.48 401,76.22 401.5,74.71 402,72.34 402.5,69.58 403,66.49 403.5,63.03 404,59.33 404.5,55.58 405,51.54 405.5,47.18 406,43.45 406.5,40.54 407,38.48 407.5,37.82 408,38.62 408.5,40.33 409,42.46 409.5,45.12 410,48.17 410.5,51.08 411,53.58 411.5,55.6 412,57.42 412.5,59.08 413,60.63 413.5,62.08 414,63.4 414.5,64.59 415,65.67 415.5,66.65 416,67.58 416.5,68.45 417,69.26 417.5,70.02 418,70.74 418.5,71.43 419,72.08 419.5,72.74 420,73.4 420.5,73.97 421,74.37 421.5,74.58 422,74.62 422.5,74.53 423,74.36 423.5,74.16 424,73.95 424.5,73.76 425,73.58 425.5,73.44 426,73.29 426.5,73.14 427,73 427.5,72.85 428,72.7 428.5,72.55 429,72.39 429.5,72.24 430,72.08 430.5,71.92 431,71.76 431.5,71.59 432,71.42 432.5,71.25 433,71.08 433.5,70.91 434,70.74 434.5,70.58 435,70.41 435.5,70.24 436,70.08 436.5,69.92 437,69.77 437.5,69.62 438,69.46 438.5,69.31 439,69.17 439.5,69.02 440,68.87 440.5,68.73 441,68.58 441.5,68.44 442,68.3 442.5,68.16 443,68.01 443.5,67.88 444,67.74 444.5,67.6 445,67.46 445.5,67.32 446,67.18 446,72.02 445.5,72.16 445,72.3 444.5,72.43 444,72.57 443.5,72.71 443,72.85 442.5,72.99 442,73.13 441.5,73.27 441,73.42 440.5,73.56 440,73.71 439.5,73.85 439,74 438.5,74.15 438,74.3 437.5,74.45 437,74.6 436.5,74.76 436,74.92 435.5,75.08 435,75.24 434.5,75.41 434,75.58 433.5,75.75 433,75.92 432.5,76.09 432,76.26 431.5,76.42 431,76.59 430.5,76.76 430,76.92 429.5,77.07 429,77.23 428.5,77.38 428,77.53 427.5,77.68 427,77.83 426.5,77.98 426,78.13 425.5,78.27 425,78.42 424.5,78.59 424,78.79 423.5,79 423,79.2 422.5,79.37 422,79.46 421.5,79.42 421,79.2 420.5,78.8 420,78.24 419.5,77.58 419,76.92 418.5,76.26 418,75.58 417.5,74.86 417,74.09 416.5,73.29 416,72.42 415.5,71.49 415,70.5 414.5,69.43 414,68.24 413.5,66.92 413,65.47 412.5,63.92 412,62.25 411.5,60.44 411,58.42 410.5,55.91 410,53.01 409.5,50.02 409,47.42 408.5,45.35 408,43.7 407.5,42.96 407,43.57 406.5,45.57 406,48.42 405.5,52.08 405,56.37 404.5,60.42 404,64.17 403.5,67.86 403,71.32 402.5,74.42 402,77.17 401.5,79.54 401,81.05 400.5,81.32 400,80.57 399.5,79.16 399,77.65 398.5,76.42 398,75.56 397.5,74.81 397,74.29 396.5,74.02 396,74.07 395.5,74.34 395,74.69 394.5,75.01 394,75.22 393.5,75.36 393,75.48 392.5,75.59 392,75.68 391.5,75.76 391,75.83 390.5,75.88 390,75.92 389.5,75.93 389,75.93 388.5,75.92 388,75.9 387.5,75.87 387,75.85 386.5,75.81 386,75.78 385.5,75.75 385,75.72" fill="#00f0f0"/>
<polygon points="385,71.43 385.5,71.46 386,71.49 386.5,71.52 387,71.56 387.5,71.58 388,71.61 388.5,71.63 389,71.64 389.5,71.64 390,71.63 390.5,71.59 391,71.54 391.5,71.47 392,71.39 392.5,71.3 393,71.19 393.5,71.07 394,70.93 394.5,70.72 395,70.4 395.5,70.05 396,69.78 396.5,69.73 397,70 397.5,70.52 398,71.27 398.5,72.13 399,73.36 399.5,74.87 400,76.28 400.5,77.03 401,76.76 401.5,75.25 402,72.88 402.5,70.13 403,67.03 403.5,63.57 404,59.88 404.5,56.13 405,52.08 405.5,47.74 406,44.03 406.5,41.13 407,39.08 407.5,38.44 408,39.22 408.5,40.92 409,43.04 409.5,45.68 410,48.72 410.5,51.62 411,54.13 411.5,56.15 412,57.96 412.5,59.63 413,61.18 413.5,62.63 414,63.95 414.5,65.14 415,66.21 415.5,67.2 416,68.13 416.5,69 417,69.8 417.5,70.57 418,71.29 418.5,71.97 419,72.63 419.5,73.29 420,73.95 420.5,74.51 421,74.91 421.5,75.13 422,75.17 422.5,75.08 423,74.91 423.5,74.71 424,74.5 424.5,74.3 425,74.13 425.5,73.98 426,73.84 426.5,73.69 427,73.54 427.5,73.39 428,73.24 428.5,73.09 429,72.94 429.5,72.78 430,72.63 430.5,72.47 431,72.3 431.5,72.13 432,71.97 432.5,71.8 433,71.63 433.5,71.46 434,71.29 434.5,71.12 435,70.95 435.5,70.79 436,70.63 436.5,70.47 437,70.31 437.5,70.16 438,70.01 438.5,69.86 439,69.71 439.5,69.56 440,69.42 440.5,69.27 441,69.13 441.5,68.98 442,68.84 442.5,68.7 443,68.56 443.5,68.42 444,68.28 444.5,68.14 445,68.01 445.5,67.87 446,67.73 446,71.47 445.5,71.61 445,71.75 444.5,71.89 444,72.03 443.5,72.17 443,72.3 442.5,72.45 442,72.59 441.5,72.73 441,72.87 440.5,73.02 440,73.16 439.5,73.31 439,73.46 438.5,73.6 438,73.75 437.5,73.91 437,74.06 436.5,74.21 436,74.37 435.5,74.53 435,74.7 434.5,74.87 434,75.03 433.5,75.2 433,75.37 432.5,75.54 432,75.71 431.5,75.88 431,76.05 430.5,76.21 430,76.37 429.5,76.53 429,76.68 428.5,76.84 428,76.99 427.5,77.14 427,77.29 426.5,77.43 426,77.58 425.5,77.73 425,77.87 424.5,78.05 424,78.24 423.5,78.45 423,78.65 422.5,78.82 422,78.91 421.5,78.87 421,78.66 420.5,78.26 420,77.69 419.5,77.03 419,76.37 418.5,75.72 418,75.03 417.5,74.31 417,73.55 416.5,72.74 416,71.87 415.5,70.94 415,69.96 414.5,68.88 414,67.69 413.5,66.37 413,64.92 412.5,63.37 412,61.71 411.5,59.89 411,57.87 410.5,55.37 410,52.46 409.5,49.47 409,46.87 408.5,44.8 408,43.15 407.5,42.41 407,43.03 406.5,45.03 406,47.87 405.5,51.54 405,55.83 404.5,59.87 404,63.62 403.5,67.32 403,70.78 402.5,73.87 402,76.63 401.5,79 401,80.51 400.5,80.77 400,80.02 399.5,78.61 399,77.11 398.5,75.87 398,75.01 397.5,74.26 397,73.75 396.5,73.47 396,73.52 395.5,73.8 395,74.15 394.5,74.46 394,74.67 393.5,74.81 393,74.93 392.5,75.04 392,75.14 391.5,75.22 391,75.28 390.5,75.33 390,75.37 389.5,75.38 389,75.38 388.5,75.37 388,75.35 387.5,75.33 387,75.3 386.5,75.27 386,75.23 385.5,75.2 385,75.17" fill="#9cff64"/>
<polygon points="385,71.9 385.5,71.92 386,71.96 386.5,71.99 387,72.02 387.5,72.05 388,72.08 388.5,72.1 389,72.11 389.5,72.11 390,72.1 390.5,72.06 391,72.01 391.5,71.94 392,71.86 392.5,71.76 393,71.66 393.5,71.53 394,71.4 394.5,71.19 395,70.87 395.5,70.52 396,70.25 396.5,70.2 397,70.47 397.5,70.99 398,71.74 398.5,72.6 399,73.83 399.5,75.34 400,76.74 400.5,77.5 401,77.23 401.5,75.72 402,73.35 402.5,70.6 403,67.5 403.5,64.04 404,60.35 404.5,56.6 405,52.55 405.5,48.22 406,44.52 406.5,41.64 407,39.6 407.5,38.96 408,39.74 408.5,41.42 409,43.53 409.5,46.16 410,49.18 410.5,52.09 411,54.6 411.5,56.61 412,58.43 412.5,60.1 413,61.65 413.5,63.1 414,64.42 414.5,65.6 415,66.68 415.5,67.67 416,68.6 416.5,69.46 417,70.27 417.5,71.03 418,71.75 418.5,72.44 419,73.1 419.5,73.76 420,74.42 420.5,74.98 421,75.38 421.5,75.6 422,75.64 422.5,75.55 423,75.38 423.5,75.17 424,74.96 424.5,74.77 425,74.6 425.5,74.45 426,74.3 426.5,74.16 427,74.01 427.5,73.86 428,73.71 428.5,73.56 429,73.41 429.5,73.25 430,73.1 430.5,72.93 431,72.77 431.5,72.6 432,72.44 432.5,72.27 433,72.1 433.5,71.93 434,71.76 434.5,71.59 435,71.42 435.5,71.26 436,71.1 436.5,70.94 437,70.78 437.5,70.63 438,70.48 438.5,70.33 439,70.18 439.5,70.03 440,69.89 440.5,69.74 441,69.6 441.5,69.45 442,69.31 442.5,69.17 443,69.03 443.5,68.89 444,68.75 444.5,68.61 445,68.47 445.5,68.33 446,68.2 446,71 445.5,71.14 445,71.28 444.5,71.42 444,71.56 443.5,71.7 443,71.84 442.5,71.98 442,72.12 441.5,72.26 441,72.4 440.5,72.55 440,72.69 439.5,72.84 439,72.99 438.5,73.14 438,73.29 437.5,73.44 437,73.59 436.5,73.75 436,73.9 435.5,74.07 435,74.23 434.5,74.4 434,74.56 433.5,74.73 433,74.9 432.5,75.07 432,75.24 431.5,75.41 431,75.58 430.5,75.74 430,75.9 429.5,76.06 429,76.22 428.5,76.37 428,76.52 427.5,76.67 427,76.82 426.5,76.96 426,77.11 425.5,77.26 425,77.4 424.5,77.58 424,77.77 423.5,77.98 423,78.19 422.5,78.36 422,78.45 421.5,78.4 421,78.19 420.5,77.79 420,77.22 419.5,76.57 419,75.9 418.5,75.25 418,74.56 417.5,73.84 417,73.08 416.5,72.27 416,71.4 415.5,70.47 415,69.49 414.5,68.41 414,67.22 413.5,65.9 413,64.45 412.5,62.91 412,61.24 411.5,59.42 411,57.4 410.5,54.9 410,51.99 409.5,49.01 409,46.4 408.5,44.33 408,42.68 407.5,41.94 407,42.56 406.5,44.56 406,47.4 405.5,51.07 405,55.36 404.5,59.4 404,63.15 403.5,66.85 403,70.31 402.5,73.4 402,76.16 401.5,78.53 401,80.04 400.5,80.31 400,79.55 399.5,78.14 399,76.64 398.5,75.4 398,74.55 397.5,73.79 397,73.28 396.5,73 396,73.06 395.5,73.33 395,73.68 394.5,74 394,74.2 393.5,74.34 393,74.46 392.5,74.57 392,74.67 391.5,74.75 391,74.81 390.5,74.86 390,74.9 389.5,74.91 389,74.92 388.5,74.9 388,74.89 387.5,74.86 387,74.83 386.5,74.8 386,74.77 385.5,74.73 385,74.7" fill="#ffe600"/>
<polygon points="385,72.36 385.5,72.39 386,72.43 386.5,72.46 387,72.49 387.5,72.52 388,72.55 388.5,72.56 389,72.58 389.5,72.57 390,72.56 390.5,72.52 391,72.47 391.5,72.41 392,72.33 392.5,72.23 393,72.12 393.5,72 394,71.86 394.5,71.66 395,71.34 395.5,70.99 396,70.72 396.5,70.66 397,70.94 397.5,71.45 398,72.21 398.5,73.06 399,74.3 399.5,75.8 400,77.21 400.5,77.97 401,77.7 401.5,76.19 402,73.82 402.5,71.06 403,67.97 403.5,64.51 404,60.81 404.5,57.06 405,53.02 405.5,48.7 406,45.01 406.5,42.14 407,40.12 407.5,39.49 408,40.25 408.5,41.92 409,44.02 409.5,46.64 410,49.65 410.5,52.56 411,55.06 411.5,57.08 412,58.9 412.5,60.57 413,62.11 413.5,63.56 414,64.88 414.5,66.07 415,67.15 415.5,68.13 416,69.06 416.5,69.93 417,70.74 417.5,71.5 418,72.22 418.5,72.91 419,73.56 419.5,74.23 420,74.88 420.5,75.45 421,75.85 421.5,76.06 422,76.11 422.5,76.02 423,75.85 423.5,75.64 424,75.43 424.5,75.24 425,75.06 425.5,74.92 426,74.77 426.5,74.62 427,74.48 427.5,74.33 428,74.18 428.5,74.03 429,73.88 429.5,73.72 430,73.56 430.5,73.4 431,73.24 431.5,73.07 432,72.9 432.5,72.73 433,72.56 433.5,72.39 434,72.22 434.5,72.06 435,71.89 435.5,71.73 436,71.56 436.5,71.41 437,71.25 437.5,71.1 438,70.95 438.5,70.8 439,70.65 439.5,70.5 440,70.35 440.5,70.21 441,70.06 441.5,69.92 442,69.78 442.5,69.64 443,69.5 443.5,69.36 444,69.22 444.5,69.08 445,68.94 445.5,68.8 446,68.66 446,70.54 445.5,70.67 445,70.81 444.5,70.95 444,71.09 443.5,71.23 443,71.37 442.5,71.51 442,71.65 441.5,71.79 441,71.94 440.5,72.08 440,72.23 439.5,72.37 439,72.52 438.5,72.67 438,72.82 437.5,72.97 437,73.12 436.5,73.28 436,73.44 435.5,73.6 435,73.76 434.5,73.93 434,74.1 433.5,74.27 433,74.44 432.5,74.61 432,74.78 431.5,74.94 431,75.11 430.5,75.27 430,75.44 429.5,75.59 429,75.75 428.5,75.9 428,76.05 427.5,76.2 427,76.35 426.5,76.5 426,76.64 425.5,76.79 425,76.94 424.5,77.11 424,77.3 423.5,77.51 423,77.72 422.5,77.89 422,77.98 421.5,77.94 421,77.72 420.5,77.32 420,76.76 419.5,76.1 419,75.44 418.5,74.78 418,74.09 417.5,73.37 417,72.61 416.5,71.8 416,70.94 415.5,70.01 415,69.02 414.5,67.94 414,66.76 413.5,65.44 413,63.99 412.5,62.44 412,60.77 411.5,58.95 411,56.94 410.5,54.43 410,51.52 409.5,48.54 409,45.94 408.5,43.86 408,42.22 407.5,41.47 407,42.09 406.5,44.09 406,46.94 405.5,50.6 405,54.89 404.5,58.94 404,62.69 403.5,66.38 403,69.84 402.5,72.94 402,75.69 401.5,78.06 401,79.57 400.5,79.84 400,79.08 399.5,77.68 399,76.17 398.5,74.94 398,74.08 397.5,73.33 397,72.81 396.5,72.54 396,72.59 395.5,72.86 395,73.21 394.5,73.53 394,73.74 393.5,73.87 393,74 392.5,74.1 392,74.2 391.5,74.28 391,74.35 390.5,74.4 390,74.44 389.5,74.45 389,74.45 388.5,74.44 388,74.42 387.5,74.39 387,74.36 386.5,74.33 386,74.3 385.5,74.26 385,74.24" fill="#ff8c00"/>
<polygon points="385,72.95 385.5,72.98 386,73.01 386.5,73.04 387,73.08 387.5,73.11 388,73.13 388.5,73.15 389,73.16 389.5,73.16 390,73.15 390.5,73.11 391,73.06 391.5,72.99 392,72.91 392.5,72.82 393,72.71 393.5,72.59 394,72.45 394.5,72.24 395,71.93 395.5,71.57 396,71.3 396.5,71.25 397,71.53 397.5,72.04 398,72.79 398.5,73.65 399,74.88 399.5,76.39 400,77.8 400.5,78.55 401,78.28 401.5,76.77 402,74.4 402.5,71.65 403,68.56 403.5,65.09 404,61.4 404.5,57.65 405,53.6 405.5,49.3 406,45.63 406.5,42.77 407,40.77 407.5,40.14 408,40.89 408.5,42.55 409,44.63 409.5,47.24 410,50.24 410.5,53.14 411,55.65 411.5,57.67 412,59.48 412.5,61.15 413,62.7 413.5,64.15 414,65.47 414.5,66.66 415,67.73 415.5,68.72 416,69.65 416.5,70.52 417,71.33 417.5,72.09 418,72.81 418.5,73.49 419,74.15 419.5,74.81 420,75.47 420.5,76.03 421,76.44 421.5,76.65 422,76.69 422.5,76.6 423,76.43 423.5,76.23 424,76.02 424.5,75.82 425,75.65 425.5,75.5 426,75.36 426.5,75.21 427,75.06 427.5,74.91 428,74.77 428.5,74.61 429,74.46 429.5,74.31 430,74.15 430.5,73.99 431,73.82 431.5,73.66 432,73.49 432.5,73.32 433,73.15 433.5,72.98 434,72.81 434.5,72.64 435,72.47 435.5,72.31 436,72.15 436.5,71.99 437,71.84 437.5,71.68 438,71.53 438.5,71.38 439,71.23 439.5,71.09 440,70.94 440.5,70.79 441,70.65 441.5,70.51 442,70.36 442.5,70.22 443,70.08 443.5,69.94 444,69.8 444.5,69.66 445,69.53 445.5,69.39 446,69.25 446,69.95 445.5,70.09 445,70.23 444.5,70.37 444,70.51 443.5,70.64 443,70.78 442.5,70.92 442,71.07 441.5,71.21 441,71.35 440.5,71.5 440,71.64 439.5,71.79 439,71.93 438.5,72.08 438,72.23 437.5,72.38 437,72.54 436.5,72.69 436,72.85 435.5,73.01 435,73.18 434.5,73.34 434,73.51 433.5,73.68 433,73.85 432.5,74.02 432,74.19 431.5,74.36 431,74.53 430.5,74.69 430,74.85 429.5,75.01 429,75.16 428.5,75.32 428,75.47 427.5,75.62 427,75.76 426.5,75.91 426,76.06 425.5,76.2 425,76.35 424.5,76.52 424,76.72 423.5,76.93 423,77.13 422.5,77.3 422,77.39 421.5,77.35 421,77.14 420.5,76.74 420,76.17 419.5,75.51 419,74.85 418.5,74.2 418,73.51 417.5,72.79 417,72.03 416.5,71.22 416,70.35 415.5,69.42 415,68.43 414.5,67.36 414,66.17 413.5,64.85 413,63.4 412.5,61.85 412,60.19 411.5,58.37 411,56.35 410.5,53.85 410,50.94 409.5,47.95 409,45.35 408.5,43.28 408,41.63 407.5,40.89 407,41.51 406.5,43.5 406,46.35 405.5,50.02 405,54.31 404.5,58.35 404,62.1 403.5,65.8 403,69.26 402.5,72.35 402,75.11 401.5,77.48 401,78.99 400.5,79.25 400,78.5 399.5,77.09 399,75.58 398.5,74.35 398,73.49 397.5,72.74 397,72.23 396.5,71.95 396,72 395.5,72.27 395,72.63 394.5,72.94 394,73.15 393.5,73.29 393,73.41 392.5,73.52 392,73.61 391.5,73.7 391,73.76 390.5,73.81 390,73.85 389.5,73.86 389,73.86 388.5,73.85 388,73.83 387.5,73.81 387,73.78 386.5,73.75 386,73.71 385.5,73.68 385,73.65" fill="#f21a00"/>
<path d="M623.5 29.8 V88.3 H685" fill="none" stroke="#747474" stroke-width="1"/>
<path d="M623.5 42 H625.7" stroke="#747474" stroke-width="1"/>
<text x="618.5" y="45.3" font-size="10.2" text-anchor="end" fill="#262626" font-family="Liberation Sans, sans-serif">50</text>
<path d="M623.5 65.8 H625.7" stroke="#747474" stroke-width="1"/>
<text x="618.5" y="69.1" font-size="10.2" text-anchor="end" fill="#262626" font-family="Liberation Sans, sans-serif">0</text>
<path d="M623.5 89.6 H625.7" stroke="#747474" stroke-width="1"/>
<text x="618.5" y="92.9" font-size="10.2" text-anchor="end" fill="#262626" font-family="Liberation Sans, sans-serif">−50</text>
<path d="M646.8 88.3 V86" stroke="#747474" stroke-width="1"/>
<text x="646.8" y="101.8" font-size="10.2" text-anchor="middle" fill="#262626" font-family="Liberation Sans, sans-serif">1</text>
<path d="M670.3 88.3 V86" stroke="#747474" stroke-width="1"/>
<text x="670.3" y="101.8" font-size="10.2" text-anchor="middle" fill="#262626" font-family="Liberation Sans, sans-serif">2</text>
<text x="653.85" y="112.9" font-size="11.2" text-anchor="middle" fill="#262626" font-family="Liberation Sans, sans-serif">Time (ms)</text>
<text transform="translate(596.6,59.3) rotate(-90)" font-size="11.55" text-anchor="middle" fill="#262626" font-family="Liberation Sans, sans-serif">Waveform (μV)</text>
<polygon points="623.5,59.38 624,59.38 624.5,59.38 625,59.38 625.5,59.38 626,59.39 626.5,59.4 627,59.41 627.5,59.44 628,59.48 628.5,59.53 629,59.58 629.5,59.65 630,59.73 630.5,59.82 631,59.92 631.5,60.04 632,60.17 632.5,60.34 633,60.51 633.5,60.71 634,60.92 634.5,61.14 635,61.36 635.5,61.59 636,61.83 636.5,62.11 637,62.45 637.5,62.8 638,63.14 638.5,63.43 639,63.61 639.5,63.58 640,63.18 640.5,62.38 641,61.19 641.5,58.08 642,54.91 642.5,51.47 643,48.01 643.5,44.8 644,42.07 644.5,39.44 645,37.13 645.5,35.22 646,37.04 646.5,39.27 647,41.78 647.5,44.3 648,47.1 648.5,50.03 649,52.95 649.5,55.71 650,58.45 650.5,59.01 651,59.23 651.5,59.24 652,59.12 652.5,59.03 653,58.95 653.5,58.91 654,58.88 654.5,58.86 655,58.84 655.5,58.82 656,58.8 656.5,58.78 657,58.77 657.5,58.75 658,58.73 658.5,58.72 659,58.71 659.5,58.69 660,58.68 660.5,58.67 661,58.66 661.5,58.64 662,58.63 662.5,58.62 663,58.61 663.5,58.61 664,58.6 664.5,58.59 665,58.58 665.5,58.58 666,58.57 666.5,58.57 667,58.56 667.5,58.56 668,58.55 668.5,58.55 669,58.54 669.5,58.54 670,58.54 670.5,58.53 671,58.53 671.5,58.53 672,58.52 672.5,58.52 673,58.52 673.5,58.52 674,58.51 674.5,58.51 675,58.51 675.5,58.51 676,58.51 676.5,58.5 677,58.5 677.5,58.5 678,58.5 678.5,58.5 679,58.5 679.5,58.49 680,58.49 680.5,58.49 681,58.49 681.5,58.49 682,58.49 682.5,58.48 683,58.48 683.5,58.48 684,58.48 684.5,58.48 685,58.48 685,73.33 684.5,73.33 684,73.33 683.5,73.33 683,73.33 682.5,73.33 682,73.34 681.5,73.34 681,73.34 680.5,73.34 680,73.34 679.5,73.34 679,73.35 678.5,73.35 678,73.35 677.5,73.35 677,73.35 676.5,73.35 676,73.36 675.5,73.36 675,73.36 674.5,73.36 674,73.36 673.5,73.37 673,73.37 672.5,73.37 672,73.37 671.5,73.38 671,73.38 670.5,73.38 670,73.39 669.5,73.39 669,73.39 668.5,73.4 668,73.4 667.5,73.41 667,73.41 666.5,73.42 666,73.42 665.5,73.42 665,73.43 664.5,73.44 664,73.45 663.5,73.46 663,73.46 662.5,73.47 662,73.48 661.5,73.49 661,73.51 660.5,73.52 660,73.53 659.5,73.54 659,73.56 658.5,73.57 658,73.58 657.5,73.6 657,73.62 656.5,73.63 656,73.65 655.5,73.67 655,73.69 654.5,73.71 654,73.72 653.5,73.76 653,73.8 652.5,73.88 652,73.97 651.5,74.09 651,74.08 650.5,73.86 650,73.3 649.5,72.32 649,71.31 648.5,70.15 648,68.97 647.5,67.92 647,66.92 646.5,65.94 646,65.22 645.5,64.92 645,65.31 644.5,66.1 644,67.21 643.5,68.42 643,69.88 642.5,71.59 642,73.27 641.5,74.69 641,76.04 640.5,77.23 640,78.03 639.5,78.42 639,78.46 638.5,78.28 638,77.99 637.5,77.65 637,77.3 636.5,76.96 636,76.68 635.5,76.44 635,76.21 634.5,75.99 634,75.77 633.5,75.56 633,75.36 632.5,75.19 632,75.02 631.5,74.89 631,74.77 630.5,74.67 630,74.58 629.5,74.5 629,74.43 628.5,74.38 628,74.33 627.5,74.29 627,74.26 626.5,74.25 626,74.24 625.5,74.23 625,74.23 624.5,74.23 624,74.23 623.5,74.22" fill="#ececff"/>
<polygon points="623.5,61.3 624,61.3 624.5,61.3 625,61.3 625.5,61.31 626,61.31 626.5,61.32 627,61.34 627.5,61.37 628,61.4 628.5,61.45 629,61.51 629.5,61.57 630,61.65 630.5,61.74 631,61.85 631.5,61.97 632,62.1 632.5,62.26 633,62.44 633.5,62.63 634,62.84 634.5,63.06 635,63.29 635.5,63.52 636,63.76 636.5,64.04 637,64.38 637.5,64.73 638,65.06 638.5,65.35 639,65.53 639.5,65.5 640,65.11 640.5,64.3 641,63.11 641.5,60.46 642,57.75 642.5,54.76 643,51.76 643.5,49 644,46.66 644.5,44.43 645,42.51 645.5,41 646,42.42 646.5,44.26 647,46.37 647.5,48.5 648,50.85 648.5,53.32 649,55.79 649.5,58.09 650,60.37 650.5,60.94 651,61.15 651.5,61.16 652,61.05 652.5,60.95 653,60.88 653.5,60.84 654,60.8 654.5,60.78 655,60.76 655.5,60.74 656,60.72 656.5,60.71 657,60.69 657.5,60.67 658,60.66 658.5,60.64 659,60.63 659.5,60.62 660,60.6 660.5,60.59 661,60.58 661.5,60.57 662,60.56 662.5,60.55 663,60.54 663.5,60.53 664,60.52 664.5,60.52 665,60.51 665.5,60.5 666,60.5 666.5,60.49 667,60.49 667.5,60.48 668,60.48 668.5,60.47 669,60.47 669.5,60.46 670,60.46 670.5,60.46 671,60.46 671.5,60.45 672,60.45 672.5,60.45 673,60.44 673.5,60.44 674,60.44 674.5,60.44 675,60.44 675.5,60.43 676,60.43 676.5,60.43 677,60.43 677.5,60.43 678,60.42 678.5,60.42 679,60.42 679.5,60.42 680,60.42 680.5,60.42 681,60.41 681.5,60.41 682,60.41 682.5,60.41 683,60.41 683.5,60.41 684,60.4 684.5,60.4 685,60.4 685,71.4 684.5,71.4 684,71.4 683.5,71.41 683,71.41 682.5,71.41 682,71.41 681.5,71.41 681,71.41 680.5,71.42 680,71.42 679.5,71.42 679,71.42 678.5,71.42 678,71.42 677.5,71.43 677,71.43 676.5,71.43 676,71.43 675.5,71.43 675,71.44 674.5,71.44 674,71.44 673.5,71.44 673,71.44 672.5,71.45 672,71.45 671.5,71.45 671,71.46 670.5,71.46 670,71.46 669.5,71.46 669,71.47 668.5,71.47 668,71.48 667.5,71.48 667,71.49 666.5,71.49 666,71.5 665.5,71.5 665,71.51 664.5,71.52 664,71.52 663.5,71.53 663,71.54 662.5,71.55 662,71.56 661.5,71.57 661,71.58 660.5,71.59 660,71.6 659.5,71.62 659,71.63 658.5,71.64 658,71.66 657.5,71.67 657,71.69 656.5,71.71 656,71.72 655.5,71.74 655,71.76 654.5,71.78 654,71.8 653.5,71.84 653,71.88 652.5,71.95 652,72.05 651.5,72.16 651,72.15 650.5,71.94 650,71.37 649.5,70.39 649,69.39 648.5,68.22 648,67.05 647.5,66 647,65 646.5,64.01 646,63.29 645.5,63 645,63.38 644.5,64.18 644,65.29 643.5,66.5 643,67.96 642.5,69.66 642,71.35 641.5,72.76 641,74.11 640.5,75.3 640,76.11 639.5,76.5 639,76.53 638.5,76.35 638,76.06 637.5,75.73 637,75.38 636.5,75.04 636,74.76 635.5,74.52 635,74.29 634.5,74.06 634,73.84 633.5,73.63 633,73.44 632.5,73.26 632,73.1 631.5,72.97 631,72.85 630.5,72.74 630,72.65 629.5,72.57 629,72.51 628.5,72.45 628,72.4 627.5,72.37 627,72.34 626.5,72.32 626,72.31 625.5,72.31 625,72.3 624.5,72.3 624,72.3 623.5,72.3" fill="#1414ff"/>
<polygon points="623.5,62.07 624,62.07 624.5,62.07 625,62.07 625.5,62.08 626,62.08 626.5,62.09 627,62.11 627.5,62.14 628,62.17 628.5,62.22 629,62.28 629.5,62.34 630,62.42 630.5,62.51 631,62.62 631.5,62.74 632,62.87 632.5,63.03 633,63.21 633.5,63.4 634,63.61 634.5,63.83 635,64.06 635.5,64.29 636,64.53 636.5,64.81 637,65.15 637.5,65.5 638,65.83 638.5,66.12 639,66.3 639.5,66.27 640,65.88 640.5,65.07 641,63.88 641.5,61.42 642,58.88 642.5,56.08 643,53.26 643.5,50.68 644,48.5 644.5,46.42 645,44.66 645.5,43.31 646,44.57 646.5,46.26 647,48.21 647.5,50.18 648,52.34 648.5,54.64 649,56.92 649.5,59.05 650,61.14 650.5,61.71 651,61.92 651.5,61.93 652,61.82 652.5,61.72 653,61.65 653.5,61.61 654,61.57 654.5,61.55 655,61.53 655.5,61.51 656,61.49 656.5,61.48 657,61.46 657.5,61.44 658,61.43 658.5,61.41 659,61.4 659.5,61.39 660,61.37 660.5,61.36 661,61.35 661.5,61.34 662,61.33 662.5,61.32 663,61.31 663.5,61.3 664,61.29 664.5,61.29 665,61.28 665.5,61.27 666,61.27 666.5,61.26 667,61.26 667.5,61.25 668,61.25 668.5,61.24 669,61.24 669.5,61.23 670,61.23 670.5,61.23 671,61.23 671.5,61.22 672,61.22 672.5,61.22 673,61.21 673.5,61.21 674,61.21 674.5,61.21 675,61.21 675.5,61.2 676,61.2 676.5,61.2 677,61.2 677.5,61.2 678,61.19 678.5,61.19 679,61.19 679.5,61.19 680,61.19 680.5,61.19 681,61.18 681.5,61.18 682,61.18 682.5,61.18 683,61.18 683.5,61.18 684,61.17 684.5,61.17 685,61.17 685,70.63 684.5,70.63 684,70.63 683.5,70.64 683,70.64 682.5,70.64 682,70.64 681.5,70.64 681,70.64 680.5,70.65 680,70.65 679.5,70.65 679,70.65 678.5,70.65 678,70.65 677.5,70.66 677,70.66 676.5,70.66 676,70.66 675.5,70.66 675,70.67 674.5,70.67 674,70.67 673.5,70.67 673,70.67 672.5,70.68 672,70.68 671.5,70.68 671,70.69 670.5,70.69 670,70.69 669.5,70.69 669,70.7 668.5,70.7 668,70.71 667.5,70.71 667,70.72 666.5,70.72 666,70.73 665.5,70.73 665,70.74 664.5,70.75 664,70.75 663.5,70.76 663,70.77 662.5,70.78 662,70.79 661.5,70.8 661,70.81 660.5,70.82 660,70.83 659.5,70.85 659,70.86 658.5,70.87 658,70.89 657.5,70.9 657,70.92 656.5,70.94 656,70.95 655.5,70.97 655,70.99 654.5,71.01 654,71.03 653.5,71.07 653,71.11 652.5,71.18 652,71.28 651.5,71.39 651,71.38 650.5,71.17 650,70.6 649.5,69.62 649,68.62 648.5,67.45 648,66.28 647.5,65.23 647,64.23 646.5,63.24 646,62.52 645.5,62.23 645,62.61 644.5,63.41 644,64.52 643.5,65.73 643,67.19 642.5,68.89 642,70.58 641.5,71.99 641,73.34 640.5,74.53 640,75.34 639.5,75.73 639,75.76 638.5,75.58 638,75.29 637.5,74.96 637,74.61 636.5,74.27 636,73.99 635.5,73.75 635,73.52 634.5,73.29 634,73.07 633.5,72.86 633,72.67 632.5,72.49 632,72.33 631.5,72.2 631,72.08 630.5,71.97 630,71.88 629.5,71.8 629,71.74 628.5,71.68 628,71.63 627.5,71.6 627,71.57 626.5,71.55 626,71.54 625.5,71.54 625,71.53 624.5,71.53 624,71.53 623.5,71.53" fill="#0050ff"/>
<polygon points="623.5,62.73 624,62.73 624.5,62.73 625,62.73 625.5,62.74 626,62.74 626.5,62.75 627,62.77 627.5,62.8 628,62.83 628.5,62.88 629,62.94 629.5,63 630,63.08 630.5,63.17 631,63.28 631.5,63.4 632,63.53 632.5,63.69 633,63.87 633.5,64.06 634,64.27 634.5,64.49 635,64.72 635.5,64.95 636,65.19 636.5,65.47 637,65.81 637.5,66.16 638,66.49 638.5,66.78 639,66.96 639.5,66.93 640,66.54 640.5,65.73 641,64.54 641.5,62.23 642,59.86 642.5,57.21 643,54.54 643.5,52.12 644,50.07 644.5,48.13 645,46.5 645.5,45.29 646,46.41 646.5,47.97 647,49.79 647.5,51.62 648,53.63 648.5,55.76 649,57.89 649.5,59.86 650,61.8 650.5,62.37 651,62.58 651.5,62.59 652,62.48 652.5,62.38 653,62.31 653.5,62.27 654,62.23 654.5,62.21 655,62.19 655.5,62.17 656,62.15 656.5,62.14 657,62.12 657.5,62.1 658,62.09 658.5,62.07 659,62.06 659.5,62.05 660,62.03 660.5,62.02 661,62.01 661.5,62 662,61.99 662.5,61.98 663,61.97 663.5,61.96 664,61.95 664.5,61.95 665,61.94 665.5,61.93 666,61.93 666.5,61.92 667,61.92 667.5,61.91 668,61.91 668.5,61.9 669,61.9 669.5,61.89 670,61.89 670.5,61.89 671,61.89 671.5,61.88 672,61.88 672.5,61.88 673,61.87 673.5,61.87 674,61.87 674.5,61.87 675,61.87 675.5,61.86 676,61.86 676.5,61.86 677,61.86 677.5,61.86 678,61.85 678.5,61.85 679,61.85 679.5,61.85 680,61.85 680.5,61.85 681,61.84 681.5,61.84 682,61.84 682.5,61.84 683,61.84 683.5,61.84 684,61.83 684.5,61.83 685,61.83 685,69.97 684.5,69.97 684,69.97 683.5,69.98 683,69.98 682.5,69.98 682,69.98 681.5,69.98 681,69.98 680.5,69.99 680,69.99 679.5,69.99 679,69.99 678.5,69.99 678,69.99 677.5,70 677,70 676.5,70 676,70 675.5,70 675,70.01 674.5,70.01 674,70.01 673.5,70.01 673,70.01 672.5,70.02 672,70.02 671.5,70.02 671,70.03 670.5,70.03 670,70.03 669.5,70.03 669,70.04 668.5,70.04 668,70.05 667.5,70.05 667,70.06 666.5,70.06 666,70.07 665.5,70.07 665,70.08 664.5,70.09 664,70.09 663.5,70.1 663,70.11 662.5,70.12 662,70.13 661.5,70.14 661,70.15 660.5,70.16 660,70.17 659.5,70.19 659,70.2 658.5,70.21 658,70.23 657.5,70.24 657,70.26 656.5,70.28 656,70.29 655.5,70.31 655,70.33 654.5,70.35 654,70.37 653.5,70.41 653,70.45 652.5,70.52 652,70.62 651.5,70.73 651,70.72 650.5,70.51 650,69.94 649.5,68.96 649,67.96 648.5,66.79 648,65.62 647.5,64.57 647,63.57 646.5,62.58 646,61.86 645.5,61.57 645,61.95 644.5,62.75 644,63.86 643.5,65.07 643,66.53 642.5,68.23 642,69.92 641.5,71.33 641,72.68 640.5,73.87 640,74.68 639.5,75.07 639,75.1 638.5,74.92 638,74.63 637.5,74.3 637,73.95 636.5,73.61 636,73.33 635.5,73.09 635,72.86 634.5,72.63 634,72.41 633.5,72.2 633,72.01 632.5,71.83 632,71.67 631.5,71.54 631,71.42 630.5,71.31 630,71.22 629.5,71.14 629,71.08 628.5,71.02 628,70.97 627.5,70.94 627,70.91 626.5,70.89 626,70.88 625.5,70.88 625,70.87 624.5,70.87 624,70.87 623.5,70.87" fill="#00a8ff"/>
<polygon points="623.5,63.39 624,63.39 624.5,63.39 625,63.39 625.5,63.4 626,63.4 626.5,63.41 627,63.43 627.5,63.46 628,63.49 628.5,63.54 629,63.6 629.5,63.66 630,63.74 630.5,63.83 631,63.94 631.5,64.06 632,64.19 632.5,64.35 633,64.53 633.5,64.72 634,64.93 634.5,65.15 635,65.38 635.5,65.61 636,65.85 636.5,66.13 637,66.47 637.5,66.82 638,67.15 638.5,67.44 639,67.62 639.5,67.59 640,67.2 640.5,66.39 641,65.2 641.5,63.05 642,60.83 642.5,58.34 643,55.82 643.5,53.56 644,51.65 644.5,49.84 645,48.35 645.5,47.27 646,48.26 646.5,49.68 647,51.36 647.5,53.06 648,54.91 648.5,56.89 649,58.86 649.5,60.68 650,62.46 650.5,63.03 651,63.24 651.5,63.25 652,63.14 652.5,63.04 653,62.97 653.5,62.93 654,62.89 654.5,62.87 655,62.85 655.5,62.83 656,62.81 656.5,62.8 657,62.78 657.5,62.76 658,62.75 658.5,62.73 659,62.72 659.5,62.71 660,62.69 660.5,62.68 661,62.67 661.5,62.66 662,62.65 662.5,62.64 663,62.63 663.5,62.62 664,62.61 664.5,62.61 665,62.6 665.5,62.59 666,62.59 666.5,62.58 667,62.58 667.5,62.57 668,62.57 668.5,62.56 669,62.56 669.5,62.55 670,62.55 670.5,62.55 671,62.55 671.5,62.54 672,62.54 672.5,62.54 673,62.53 673.5,62.53 674,62.53 674.5,62.53 675,62.53 675.5,62.52 676,62.52 676.5,62.52 677,62.52 677.5,62.52 678,62.51 678.5,62.51 679,62.51 679.5,62.51 680,62.51 680.5,62.51 681,62.5 681.5,62.5 682,62.5 682.5,62.5 683,62.5 683.5,62.5 684,62.49 684.5,62.49 685,62.49 685,69.31 684.5,69.31 684,69.31 683.5,69.32 683,69.32 682.5,69.32 682,69.32 681.5,69.32 681,69.32 680.5,69.33 680,69.33 679.5,69.33 679,69.33 678.5,69.33 678,69.33 677.5,69.34 677,69.34 676.5,69.34 676,69.34 675.5,69.34 675,69.35 674.5,69.35 674,69.35 673.5,69.35 673,69.35 672.5,69.36 672,69.36 671.5,69.36 671,69.37 670.5,69.37 670,69.37 669.5,69.37 669,69.38 668.5,69.38 668,69.39 667.5,69.39 667,69.4 666.5,69.4 666,69.41 665.5,69.41 665,69.42 664.5,69.43 664,69.43 663.5,69.44 663,69.45 662.5,69.46 662,69.47 661.5,69.48 661,69.49 660.5,69.5 660,69.51 659.5,69.53 659,69.54 658.5,69.55 658,69.57 657.5,69.58 657,69.6 656.5,69.62 656,69.63 655.5,69.65 655,69.67 654.5,69.69 654,69.71 653.5,69.75 653,69.79 652.5,69.86 652,69.96 651.5,70.07 651,70.06 650.5,69.85 650,69.28 649.5,68.3 649,67.3 648.5,66.13 648,64.96 647.5,63.91 647,62.91 646.5,61.92 646,61.2 645.5,60.91 645,61.29 644.5,62.09 644,63.2 643.5,64.41 643,65.87 642.5,67.57 642,69.26 641.5,70.67 641,72.02 640.5,73.21 640,74.02 639.5,74.41 639,74.44 638.5,74.26 638,73.97 637.5,73.64 637,73.29 636.5,72.95 636,72.67 635.5,72.43 635,72.2 634.5,71.97 634,71.75 633.5,71.54 633,71.35 632.5,71.17 632,71.01 631.5,70.88 631,70.76 630.5,70.65 630,70.56 629.5,70.48 629,70.42 628.5,70.36 628,70.31 627.5,70.28 627,70.25 626.5,70.23 626,70.22 625.5,70.22 625,70.21 624.5,70.21 624,70.21 623.5,70.21" fill="#00f0f0"/>
<polygon points="623.5,64.16 624,64.16 624.5,64.16 625,64.16 625.5,64.17 626,64.17 626.5,64.18 627,64.2 627.5,64.23 628,64.26 628.5,64.31 629,64.37 629.5,64.43 630,64.51 630.5,64.6 631,64.71 631.5,64.83 632,64.96 632.5,65.12 633,65.3 633.5,65.49 634,65.7 634.5,65.92 635,66.15 635.5,66.38 636,66.62 636.5,66.9 637,67.24 637.5,67.59 638,67.92 638.5,68.21 639,68.39 639.5,68.36 640,67.97 640.5,67.16 641,65.97 641.5,64 642,61.96 642.5,59.65 643,57.32 643.5,55.24 644,53.49 644.5,51.84 645,50.5 645.5,49.58 646,50.41 646.5,51.67 647,53.2 647.5,54.74 648,56.41 648.5,58.21 649,60 649.5,61.63 650,63.23 650.5,63.8 651,64.01 651.5,64.02 652,63.91 652.5,63.81 653,63.74 653.5,63.7 654,63.66 654.5,63.64 655,63.62 655.5,63.6 656,63.58 656.5,63.57 657,63.55 657.5,63.53 658,63.52 658.5,63.5 659,63.49 659.5,63.48 660,63.46 660.5,63.45 661,63.44 661.5,63.43 662,63.42 662.5,63.41 663,63.4 663.5,63.39 664,63.38 664.5,63.38 665,63.37 665.5,63.36 666,63.36 666.5,63.35 667,63.35 667.5,63.34 668,63.34 668.5,63.33 669,63.33 669.5,63.32 670,63.32 670.5,63.32 671,63.32 671.5,63.31 672,63.31 672.5,63.31 673,63.3 673.5,63.3 674,63.3 674.5,63.3 675,63.3 675.5,63.29 676,63.29 676.5,63.29 677,63.29 677.5,63.29 678,63.28 678.5,63.28 679,63.28 679.5,63.28 680,63.28 680.5,63.28 681,63.27 681.5,63.27 682,63.27 682.5,63.27 683,63.27 683.5,63.27 684,63.26 684.5,63.26 685,63.26 685,68.54 684.5,68.54 684,68.54 683.5,68.55 683,68.55 682.5,68.55 682,68.55 681.5,68.55 681,68.55 680.5,68.56 680,68.56 679.5,68.56 679,68.56 678.5,68.56 678,68.56 677.5,68.57 677,68.57 676.5,68.57 676,68.57 675.5,68.57 675,68.58 674.5,68.58 674,68.58 673.5,68.58 673,68.58 672.5,68.59 672,68.59 671.5,68.59 671,68.6 670.5,68.6 670,68.6 669.5,68.6 669,68.61 668.5,68.61 668,68.62 667.5,68.62 667,68.63 666.5,68.63 666,68.64 665.5,68.64 665,68.65 664.5,68.66 664,68.66 663.5,68.67 663,68.68 662.5,68.69 662,68.7 661.5,68.71 661,68.72 660.5,68.73 660,68.74 659.5,68.76 659,68.77 658.5,68.78 658,68.8 657.5,68.81 657,68.83 656.5,68.85 656,68.86 655.5,68.88 655,68.9 654.5,68.92 654,68.94 653.5,68.98 653,69.02 652.5,69.09 652,69.19 651.5,69.3 651,69.29 650.5,69.08 650,68.51 649.5,67.53 649,66.53 648.5,65.36 648,64.19 647.5,63.14 647,62.14 646.5,61.15 646,60.43 645.5,60.14 645,60.52 644.5,61.32 644,62.43 643.5,63.64 643,65.1 642.5,66.8 642,68.49 641.5,69.9 641,71.25 640.5,72.44 640,73.25 639.5,73.64 639,73.67 638.5,73.49 638,73.2 637.5,72.87 637,72.52 636.5,72.18 636,71.9 635.5,71.66 635,71.43 634.5,71.2 634,70.98 633.5,70.77 633,70.58 632.5,70.4 632,70.24 631.5,70.11 631,69.99 630.5,69.88 630,69.79 629.5,69.71 629,69.65 628.5,69.59 628,69.54 627.5,69.51 627,69.48 626.5,69.46 626,69.45 625.5,69.45 625,69.44 624.5,69.44 624,69.44 623.5,69.44" fill="#9cff64"/>
<polygon points="623.5,64.82 624,64.82 624.5,64.82 625,64.82 625.5,64.83 626,64.83 626.5,64.84 627,64.86 627.5,64.89 628,64.92 628.5,64.97 629,65.03 629.5,65.09 630,65.17 630.5,65.26 631,65.37 631.5,65.49 632,65.62 632.5,65.78 633,65.96 633.5,66.15 634,66.36 634.5,66.58 635,66.81 635.5,67.04 636,67.28 636.5,67.56 637,67.9 637.5,68.25 638,68.58 638.5,68.87 639,69.05 639.5,69.02 640,68.63 640.5,67.82 641,66.63 641.5,64.82 642,62.93 642.5,60.78 643,58.61 643.5,56.68 644,55.06 644.5,53.55 645,52.35 645.5,51.56 646,52.26 646.5,53.38 647,54.77 647.5,56.18 648,57.69 648.5,59.34 649,60.97 649.5,62.45 650,63.89 650.5,64.46 651,64.67 651.5,64.68 652,64.57 652.5,64.47 653,64.4 653.5,64.36 654,64.32 654.5,64.3 655,64.28 655.5,64.26 656,64.24 656.5,64.23 657,64.21 657.5,64.19 658,64.18 658.5,64.16 659,64.15 659.5,64.14 660,64.12 660.5,64.11 661,64.1 661.5,64.09 662,64.08 662.5,64.07 663,64.06 663.5,64.05 664,64.04 664.5,64.04 665,64.03 665.5,64.02 666,64.02 666.5,64.01 667,64.01 667.5,64 668,64 668.5,63.99 669,63.99 669.5,63.98 670,63.98 670.5,63.98 671,63.98 671.5,63.97 672,63.97 672.5,63.97 673,63.96 673.5,63.96 674,63.96 674.5,63.96 675,63.96 675.5,63.95 676,63.95 676.5,63.95 677,63.95 677.5,63.95 678,63.94 678.5,63.94 679,63.94 679.5,63.94 680,63.94 680.5,63.94 681,63.93 681.5,63.93 682,63.93 682.5,63.93 683,63.93 683.5,63.93 684,63.92 684.5,63.92 685,63.92 685,67.88 684.5,67.88 684,67.88 683.5,67.89 683,67.89 682.5,67.89 682,67.89 681.5,67.89 681,67.89 680.5,67.9 680,67.9 679.5,67.9 679,67.9 678.5,67.9 678,67.9 677.5,67.91 677,67.91 676.5,67.91 676,67.91 675.5,67.91 675,67.92 674.5,67.92 674,67.92 673.5,67.92 673,67.92 672.5,67.93 672,67.93 671.5,67.93 671,67.94 670.5,67.94 670,67.94 669.5,67.94 669,67.95 668.5,67.95 668,67.96 667.5,67.96 667,67.97 666.5,67.97 666,67.98 665.5,67.98 665,67.99 664.5,68 664,68 663.5,68.01 663,68.02 662.5,68.03 662,68.04 661.5,68.05 661,68.06 660.5,68.07 660,68.08 659.5,68.1 659,68.11 658.5,68.12 658,68.14 657.5,68.15 657,68.17 656.5,68.19 656,68.2 655.5,68.22 655,68.24 654.5,68.26 654,68.28 653.5,68.32 653,68.36 652.5,68.43 652,68.53 651.5,68.64 651,68.63 650.5,68.42 650,67.85 649.5,66.87 649,65.87 648.5,64.7 648,63.53 647.5,62.48 647,61.48 646.5,60.49 646,59.77 645.5,59.48 645,59.86 644.5,60.66 644,61.77 643.5,62.98 643,64.44 642.5,66.14 642,67.83 641.5,69.24 641,70.59 640.5,71.78 640,72.59 639.5,72.98 639,73.01 638.5,72.83 638,72.54 637.5,72.21 637,71.86 636.5,71.52 636,71.24 635.5,71 635,70.77 634.5,70.54 634,70.32 633.5,70.11 633,69.92 632.5,69.74 632,69.58 631.5,69.45 631,69.33 630.5,69.22 630,69.13 629.5,69.05 629,68.99 628.5,68.93 628,68.88 627.5,68.85 627,68.82 626.5,68.8 626,68.79 625.5,68.79 625,68.78 624.5,68.78 624,68.78 623.5,68.78" fill="#ffe600"/>
<polygon points="623.5,65.48 624,65.48 624.5,65.48 625,65.48 625.5,65.49 626,65.49 626.5,65.5 627,65.52 627.5,65.55 628,65.58 628.5,65.63 629,65.69 629.5,65.75 630,65.83 630.5,65.92 631,66.03 631.5,66.15 632,66.28 632.5,66.44 633,66.62 633.5,66.81 634,67.02 634.5,67.24 635,67.47 635.5,67.7 636,67.94 636.5,68.22 637,68.56 637.5,68.91 638,69.24 638.5,69.53 639,69.71 639.5,69.68 640,69.29 640.5,68.48 641,67.29 641.5,65.63 642,63.91 642.5,61.91 643,59.89 643.5,58.12 644,56.64 644.5,55.26 645,54.19 645.5,53.54 646,54.1 646.5,55.09 647,56.35 647.5,57.62 648,58.98 648.5,60.46 649,61.94 649.5,63.26 650,64.55 650.5,65.12 651,65.33 651.5,65.34 652,65.23 652.5,65.13 653,65.06 653.5,65.02 654,64.98 654.5,64.96 655,64.94 655.5,64.92 656,64.9 656.5,64.89 657,64.87 657.5,64.85 658,64.84 658.5,64.82 659,64.81 659.5,64.8 660,64.78 660.5,64.77 661,64.76 661.5,64.75 662,64.74 662.5,64.73 663,64.72 663.5,64.71 664,64.7 664.5,64.7 665,64.69 665.5,64.68 666,64.68 666.5,64.67 667,64.67 667.5,64.66 668,64.66 668.5,64.65 669,64.65 669.5,64.64 670,64.64 670.5,64.64 671,64.64 671.5,64.63 672,64.63 672.5,64.63 673,64.62 673.5,64.62 674,64.62 674.5,64.62 675,64.62 675.5,64.61 676,64.61 676.5,64.61 677,64.61 677.5,64.61 678,64.6 678.5,64.6 679,64.6 679.5,64.6 680,64.6 680.5,64.6 681,64.59 681.5,64.59 682,64.59 682.5,64.59 683,64.59 683.5,64.59 684,64.58 684.5,64.58 685,64.58 685,67.22 684.5,67.22 684,67.22 683.5,67.23 683,67.23 682.5,67.23 682,67.23 681.5,67.23 681,67.23 680.5,67.24 680,67.24 679.5,67.24 679,67.24 678.5,67.24 678,67.24 677.5,67.25 677,67.25 676.5,67.25 676,67.25 675.5,67.25 675,67.26 674.5,67.26 674,67.26 673.5,67.26 673,67.26 672.5,67.27 672,67.27 671.5,67.27 671,67.28 670.5,67.28 670,67.28 669.5,67.28 669,67.29 668.5,67.29 668,67.3 667.5,67.3 667,67.31 666.5,67.31 666,67.32 665.5,67.32 665,67.33 664.5,67.34 664,67.34 663.5,67.35 663,67.36 662.5,67.37 662,67.38 661.5,67.39 661,67.4 660.5,67.41 660,67.42 659.5,67.44 659,67.45 658.5,67.46 658,67.48 657.5,67.49 657,67.51 656.5,67.53 656,67.54 655.5,67.56 655,67.58 654.5,67.6 654,67.62 653.5,67.66 653,67.7 652.5,67.77 652,67.87 651.5,67.98 651,67.97 650.5,67.76 650,67.19 649.5,66.21 649,65.21 648.5,64.04 648,62.87 647.5,61.82 647,60.82 646.5,59.83 646,59.11 645.5,58.82 645,59.2 644.5,60 644,61.11 643.5,62.32 643,63.78 642.5,65.48 642,67.17 641.5,68.58 641,69.93 640.5,71.12 640,71.93 639.5,72.32 639,72.35 638.5,72.17 638,71.88 637.5,71.55 637,71.2 636.5,70.86 636,70.58 635.5,70.34 635,70.11 634.5,69.88 634,69.66 633.5,69.45 633,69.26 632.5,69.08 632,68.92 631.5,68.79 631,68.67 630.5,68.56 630,68.47 629.5,68.39 629,68.33 628.5,68.27 628,68.22 627.5,68.19 627,68.16 626.5,68.14 626,68.13 625.5,68.13 625,68.12 624.5,68.12 624,68.12 623.5,68.12" fill="#ff8c00"/>
<polygon points="623.5,66.3 624,66.31 624.5,66.31 625,66.31 625.5,66.31 626,66.32 626.5,66.33 627,66.34 627.5,66.37 628,66.41 628.5,66.46 629,66.51 629.5,66.58 630,66.66 630.5,66.75 631,66.85 631.5,66.97 632,67.1 632.5,67.27 633,67.44 633.5,67.64 634,67.85 634.5,68.07 635,68.29 635.5,68.52 636,68.76 636.5,69.04 637,69.38 637.5,69.73 638,70.07 638.5,70.36 639,70.54 639.5,70.5 640,70.11 640.5,69.31 641,68.12 641.5,66.65 642,65.12 642.5,63.32 643,61.5 643.5,59.92 644,58.61 644.5,57.39 645,56.5 645.5,56.02 646,56.41 646.5,57.23 647,58.32 647.5,59.42 648,60.58 648.5,61.87 649,63.16 649.5,64.28 650,65.38 650.5,65.94 651,66.16 651.5,66.17 652,66.05 652.5,65.96 653,65.88 653.5,65.84 654,65.8 654.5,65.79 655,65.77 655.5,65.75 656,65.73 656.5,65.71 657,65.7 657.5,65.68 658,65.66 658.5,65.65 659,65.64 659.5,65.62 660,65.61 660.5,65.6 661,65.59 661.5,65.57 662,65.56 662.5,65.55 663,65.54 663.5,65.54 664,65.53 664.5,65.52 665,65.51 665.5,65.5 666,65.5 666.5,65.5 667,65.49 667.5,65.49 668,65.48 668.5,65.48 669,65.47 669.5,65.47 670,65.47 670.5,65.46 671,65.46 671.5,65.46 672,65.45 672.5,65.45 673,65.45 673.5,65.45 674,65.44 674.5,65.44 675,65.44 675.5,65.44 676,65.44 676.5,65.43 677,65.43 677.5,65.43 678,65.43 678.5,65.43 679,65.43 679.5,65.42 680,65.42 680.5,65.42 681,65.42 681.5,65.42 682,65.42 682.5,65.41 683,65.41 683.5,65.41 684,65.41 684.5,65.41 685,65.41 685,66.4 684.5,66.4 684,66.4 683.5,66.4 683,66.4 682.5,66.4 682,66.41 681.5,66.41 681,66.41 680.5,66.41 680,66.41 679.5,66.41 679,66.42 678.5,66.42 678,66.42 677.5,66.42 677,66.42 676.5,66.42 676,66.43 675.5,66.43 675,66.43 674.5,66.43 674,66.43 673.5,66.44 673,66.44 672.5,66.44 672,66.44 671.5,66.45 671,66.45 670.5,66.45 670,66.46 669.5,66.46 669,66.46 668.5,66.47 668,66.47 667.5,66.48 667,66.48 666.5,66.49 666,66.49 665.5,66.5 665,66.5 664.5,66.51 664,66.52 663.5,66.53 663,66.53 662.5,66.54 662,66.55 661.5,66.56 661,66.58 660.5,66.59 660,66.6 659.5,66.61 659,66.63 658.5,66.64 658,66.65 657.5,66.67 657,66.69 656.5,66.7 656,66.72 655.5,66.74 655,66.76 654.5,66.78 654,66.8 653.5,66.83 653,66.87 652.5,66.95 652,67.04 651.5,67.16 651,67.15 650.5,66.93 650,66.37 649.5,65.39 649,64.38 648.5,63.22 648,62.04 647.5,60.99 647,59.99 646.5,59.01 646,58.29 645.5,57.99 645,58.38 644.5,59.17 644,60.28 643.5,61.49 643,62.95 642.5,64.66 642,66.34 641.5,67.76 641,69.11 640.5,70.3 640,71.1 639.5,71.5 639,71.53 638.5,71.35 638,71.06 637.5,70.72 637,70.37 636.5,70.03 636,69.75 635.5,69.51 635,69.28 634.5,69.06 634,68.84 633.5,68.63 633,68.43 632.5,68.26 632,68.09 631.5,67.96 631,67.84 630.5,67.74 630,67.65 629.5,67.57 629,67.5 628.5,67.45 628,67.4 627.5,67.36 627,67.33 626.5,67.32 626,67.31 625.5,67.3 625,67.3 624.5,67.3 624,67.3 623.5,67.3" fill="#f21a00"/>
<rect x="48.1" y="293.2" width="13.8" height="7.4" fill="#ff0000" fill-opacity="0.5"/>
<path d="M44.2 296.8 H65.6" stroke="#ff0000" stroke-width="1.8"/>
<text x="70.5" y="299.9" font-size="11.2" fill="#262626" font-family="Liberation Sans, sans-serif">Pref. cued (mean ± s.e.m)</text>
<rect x="268.3" y="293.2" width="14.1" height="7.4" fill="#0000ff" fill-opacity="0.5"/>
<path d="M264.1 296.8 H285" stroke="#0000ff" stroke-width="1.8"/>
<text x="289.6" y="299.9" font-size="11.2" fill="#262626" font-family="Liberation Sans, sans-serif">Pref. uncued (mean ± s.e.m)</text>
<rect x="530.1" y="295.1" width="13.5" height="7.4" fill="#7f7f7f" fill-opacity="0.3"/>
<path d="M526.1 298.7 H546.7" stroke="#7f7f7f" stroke-width="1.8"/>
<text x="551.8" y="301.8" font-size="11.2" fill="#262626" font-family="Liberation Sans, sans-serif">Other (mean ± s.e.m)</text>
<path d="M29.7 324.2 V546.8 H207.16" fill="none" stroke="#747474" stroke-width="1"/>
<path d="M39.4 324.2 V546.8" stroke="#a0a0a0" stroke-width="1"/>
<path d="M29.7 325.3 H33.5" stroke="#747474" stroke-width="1"/>
<path d="M29.7 370.1 H33.5" stroke="#747474" stroke-width="1"/>
<path d="M29.7 414.9 H33.5" stroke="#747474" stroke-width="1"/>
<path d="M29.7 459.7 H33.5" stroke="#747474" stroke-width="1"/>
<path d="M29.7 504.5 H33.5" stroke="#747474" stroke-width="1"/>
<path d="M39.4 546.8 V542.8" stroke="#747474" stroke-width="1"/>
<text x="39.4" y="559.9" font-size="10.2" text-anchor="middle" fill="#262626" font-family="Liberation Sans, sans-serif">−4</text>
<path d="M58.04 546.8 V542.8" stroke="#747474" stroke-width="1"/>
<text x="58.04" y="559.9" font-size="10.2" text-anchor="middle" fill="#262626" font-family="Liberation Sans, sans-serif">−3</text>
<path d="M76.68 546.8 V542.8" stroke="#747474" stroke-width="1"/>
<text x="76.68" y="559.9" font-size="10.2" text-anchor="middle" fill="#262626" font-family="Liberation Sans, sans-serif">−2</text>
<path d="M95.32 546.8 V542.8" stroke="#747474" stroke-width="1"/>
<text x="95.32" y="559.9" font-size="10.2" text-anchor="middle" fill="#262626" font-family="Liberation Sans, sans-serif">−1</text>
<path d="M113.96 546.8 V542.8" stroke="#747474" stroke-width="1"/>
<text x="113.96" y="559.9" font-size="10.2" text-anchor="middle" fill="#262626" font-family="Liberation Sans, sans-serif">0</text>
<path d="M132.6 546.8 V542.8" stroke="#747474" stroke-width="1"/>
<text x="132.6" y="559.9" font-size="10.2" text-anchor="middle" fill="#262626" font-family="Liberation Sans, sans-serif">1</text>
<path d="M151.24 546.8 V542.8" stroke="#747474" stroke-width="1"/>
<text x="151.24" y="559.9" font-size="10.2" text-anchor="middle" fill="#262626" font-family="Liberation Sans, sans-serif">2</text>
<path d="M169.88 546.8 V542.8" stroke="#747474" stroke-width="1"/>
<text x="169.88" y="559.9" font-size="10.2" text-anchor="middle" fill="#262626" font-family="Liberation Sans, sans-serif">3</text>
<path d="M188.52 546.8 V542.8" stroke="#747474" stroke-width="1"/>
<text x="188.52" y="559.9" font-size="10.2" text-anchor="middle" fill="#262626" font-family="Liberation Sans, sans-serif">4</text>
<path d="M207.16 546.8 V542.8" stroke="#747474" stroke-width="1"/>
<text x="207.16" y="559.9" font-size="10.2" text-anchor="middle" fill="#262626" font-family="Liberation Sans, sans-serif">5</text>
<text x="118.62" y="573.9" font-size="11.2" text-anchor="middle" fill="#262626" font-family="Liberation Sans, sans-serif">Time (s)</text>
<text transform="translate(22.8,435.4) rotate(-90)" font-size="11.55" text-anchor="middle" fill="#262626" font-family="Liberation Sans, sans-serif">Trials (re-ordered)</text>
<path fill="#6e6e6e" d="M60.2 325h2.1v2.6h-2.1zM62.9 325h2.1v2.6h-2.1zM63.8 325h2.1v2.6h-2.1zM79.1 325h4.2v2.6h-4.2zM117.2 325h2.1v2.6h-2.1zM182 325h2.1v2.6h-2.1zM200 325h2.1v2.6h-2.1zM57.5 327.55h2.1v2.6h-2.1zM59.3 327.55h2.1v2.6h-2.1zM75.5 327.55h2.1v2.6h-2.1zM156.5 327.55h2.1v2.6h-2.1zM203.3 327.55h2.1v2.6h-2.1zM35 330.1h2.1v2.6h-2.1zM87.2 330.1h2.1v2.6h-2.1zM179 330.1h4.2v2.6h-4.2zM77.3 332.65h2.1v2.6h-2.1zM153.8 332.65h2.1v2.6h-2.1zM153.8 335.2h2.1v2.6h-2.1zM179 335.2h2.1v2.6h-2.1zM100.7 337.75h2.1v2.6h-2.1zM107.9 337.75h2.1v2.6h-2.1zM151.1 337.75h2.1v2.6h-2.1zM174.5 337.75h2.1v2.6h-2.1zM43.1 340.3h2.1v2.6h-2.1zM143 340.3h2.1v2.6h-2.1zM115.1 342.85h2.1v2.6h-2.1zM69.2 345.4h2.1v2.6h-2.1zM139.4 345.4h2.1v2.6h-2.1zM44 347.95h2.1v2.6h-2.1zM76.4 347.95h2.1v2.6h-2.1zM103.4 347.95h6.3v2.6h-6.3zM115.7 347.95h2.1v2.6h-2.1zM127.4 347.95h2.1v2.6h-2.1zM133.7 347.95h4.2v2.6h-4.2zM159.2 347.95h2.1v2.6h-2.1zM39.5 350.5h2.1v2.6h-2.1zM53.9 350.5h2.1v2.6h-2.1zM55.7 350.5h4.2v2.6h-4.2zM62.3 350.5h2.1v2.6h-2.1zM70.4 350.5h2.1v2.6h-2.1zM107.3 350.5h2.1v2.6h-2.1zM154.1 350.5h2.1v2.6h-2.1zM173.9 350.5h6.3v2.6h-6.3zM46.7 353.05h2.1v2.6h-2.1zM53.9 353.05h2.1v2.6h-2.1zM64.7 353.05h2.1v2.6h-2.1zM52.1 355.6h2.1v2.6h-2.1zM58.4 355.6h2.1v2.6h-2.1zM127.7 355.6h2.1v2.6h-2.1zM135.8 355.6h4.2v2.6h-4.2zM203.6 355.6h2.1v2.6h-2.1zM49.4 358.15h2.1v2.6h-2.1zM60.2 358.15h2.1v2.6h-2.1zM77.3 358.15h2.1v2.6h-2.1zM81.8 358.15h2.1v2.6h-2.1zM93.5 358.15h2.1v2.6h-2.1zM104.3 358.15h2.1v2.6h-2.1zM153.8 358.15h2.1v2.6h-2.1zM184.4 358.15h2.1v2.6h-2.1zM30.5 360.7h2.1v2.6h-2.1zM45.8 360.7h2.1v2.6h-2.1zM104.3 360.7h2.1v2.6h-2.1zM161.9 360.7h4.2v2.6h-4.2zM173 360.7h2.1v2.6h-2.1zM84.5 363.25h2.1v2.6h-2.1zM101.6 363.25h2.1v2.6h-2.1zM108.8 363.25h2.1v2.6h-2.1zM123.2 363.25h2.1v2.6h-2.1zM143 363.25h2.1v2.6h-2.1zM151.1 363.25h2.1v2.6h-2.1zM169.1 363.25h2.1v2.6h-2.1zM170 363.25h2.1v2.6h-2.1zM39.5 365.8h4.2v2.6h-4.2zM46.1 365.8h4.2v2.6h-4.2zM50 365.8h2.1v2.6h-2.1zM54.5 365.8h2.1v2.6h-2.1zM58.1 365.8h2.1v2.6h-2.1zM60.8 365.8h2.1v2.6h-2.1zM71.6 365.8h2.1v2.6h-2.1zM113.9 365.8h2.1v2.6h-2.1zM143.6 365.8h2.1v2.6h-2.1zM147.2 365.8h2.1v2.6h-2.1zM149 365.8h2.1v2.6h-2.1zM156.2 365.8h2.1v2.6h-2.1zM181.4 365.8h4.2v2.6h-4.2zM190.7 365.8h2.1v2.6h-2.1zM64.7 370.9h6.3v2.6h-6.3zM75.2 370.9h2.1v2.6h-2.1zM149.9 370.9h2.1v2.6h-2.1zM153.5 370.9h2.1v2.6h-2.1zM167.9 370.9h2.1v2.6h-2.1zM37.7 373.45h2.1v2.6h-2.1zM43.1 373.45h2.1v2.6h-2.1zM69.2 373.45h2.1v2.6h-2.1zM79.1 373.45h2.1v2.6h-2.1zM102.5 373.45h2.1v2.6h-2.1zM127.7 373.45h4.2v2.6h-4.2zM192.8 373.45h2.1v2.6h-2.1zM194.6 373.45h2.1v2.6h-2.1zM197.3 373.45h2.1v2.6h-2.1zM32.3 376h2.1v2.6h-2.1zM35.9 376h2.1v2.6h-2.1zM43.1 376h2.1v2.6h-2.1zM54.8 376h2.1v2.6h-2.1zM68.3 376h2.1v2.6h-2.1zM144.8 376h2.1v2.6h-2.1zM191.6 376h2.1v2.6h-2.1zM80.9 378.55h2.1v2.6h-2.1zM108.8 378.55h2.1v2.6h-2.1zM190.7 378.55h2.1v2.6h-2.1zM70.1 381.1h2.1v2.6h-2.1zM78.2 381.1h2.1v2.6h-2.1zM89 381.1h2.1v2.6h-2.1zM107 381.1h2.1v2.6h-2.1zM112.4 381.1h2.1v2.6h-2.1zM193.4 381.1h2.1v2.6h-2.1zM52.1 383.65h2.1v2.6h-2.1zM54.8 383.65h6.3v2.6h-6.3zM110.3 383.65h2.1v2.6h-2.1zM112.1 383.65h4.2v2.6h-4.2zM115.1 383.65h2.1v2.6h-2.1zM116.9 383.65h2.1v2.6h-2.1zM118.7 383.65h2.1v2.6h-2.1zM135.8 383.65h2.1v2.6h-2.1zM150.2 383.65h2.1v2.6h-2.1zM198.8 383.65h2.1v2.6h-2.1zM34.1 386.2h2.1v2.6h-2.1zM69.2 386.2h2.1v2.6h-2.1zM78.2 386.2h2.1v2.6h-2.1zM81.8 386.2h2.1v2.6h-2.1zM114.2 386.2h2.1v2.6h-2.1zM116 386.2h2.1v2.6h-2.1zM134 386.2h2.1v2.6h-2.1zM145.7 386.2h2.1v2.6h-2.1zM158.3 386.2h6.3v2.6h-6.3zM164.3 386.2h2.1v2.6h-2.1zM181.4 386.2h2.1v2.6h-2.1zM182.3 386.2h2.1v2.6h-2.1zM188.6 386.2h2.1v2.6h-2.1zM40.4 388.75h2.1v2.6h-2.1zM57.5 388.75h2.1v2.6h-2.1zM97.1 388.75h2.1v2.6h-2.1zM106.1 388.75h2.1v2.6h-2.1zM114.2 388.75h2.1v2.6h-2.1zM118.7 388.75h2.1v2.6h-2.1zM122.3 388.75h2.1v2.6h-2.1zM136.7 388.75h2.1v2.6h-2.1zM150.2 388.75h6.3v2.6h-6.3zM61.1 391.3h2.1v2.6h-2.1zM86.3 391.3h2.1v2.6h-2.1zM104.3 391.3h2.1v2.6h-2.1zM116 391.3h6.3v2.6h-6.3zM143.6 391.3h2.1v2.6h-2.1zM158.9 391.3h2.1v2.6h-2.1zM193.1 391.3h2.1v2.6h-2.1zM57.5 393.85h2.1v2.6h-2.1zM68.3 393.85h2.1v2.6h-2.1zM108.8 393.85h2.1v2.6h-2.1zM140.3 393.85h2.1v2.6h-2.1zM201.5 393.85h2.1v2.6h-2.1zM43.1 396.4h2.1v2.6h-2.1zM44 396.4h2.1v2.6h-2.1zM72.8 396.4h2.1v2.6h-2.1zM88.1 396.4h2.1v2.6h-2.1zM115.1 396.4h2.1v2.6h-2.1zM149.3 396.4h2.1v2.6h-2.1zM153.8 396.4h2.1v2.6h-2.1zM181.7 396.4h2.1v2.6h-2.1zM30.5 398.95h2.1v2.6h-2.1zM48.5 398.95h2.1v2.6h-2.1zM55.7 398.95h2.1v2.6h-2.1zM62 398.95h2.1v2.6h-2.1zM119.6 398.95h2.1v2.6h-2.1zM120.5 398.95h2.1v2.6h-2.1zM124.1 398.95h2.1v2.6h-2.1zM137.6 398.95h2.1v2.6h-2.1zM202.4 398.95h2.1v2.6h-2.1zM44 401.5h2.1v2.6h-2.1zM48.5 401.5h2.1v2.6h-2.1zM77.3 401.5h2.1v2.6h-2.1zM79.1 401.5h6.3v2.6h-6.3zM90.5 401.5h6.3v2.6h-6.3zM101 401.5h2.1v2.6h-2.1zM104.6 401.5h2.1v2.6h-2.1zM147.8 401.5h4.2v2.6h-4.2zM185.9 401.5h2.1v2.6h-2.1zM203.9 401.5h2.1v2.6h-2.1zM34.1 404.05h2.1v2.6h-2.1zM42.2 404.05h2.1v2.6h-2.1zM59.3 404.05h2.1v2.6h-2.1zM65.6 404.05h2.1v2.6h-2.1zM75.5 404.05h2.1v2.6h-2.1zM89.9 404.05h2.1v2.6h-2.1zM99.8 404.05h2.1v2.6h-2.1zM158.3 404.05h2.1v2.6h-2.1zM177.2 404.05h2.1v2.6h-2.1zM185.3 404.05h2.1v2.6h-2.1zM200.6 404.05h2.1v2.6h-2.1zM39.5 406.6h2.1v2.6h-2.1zM51.2 406.6h2.1v2.6h-2.1zM52.1 406.6h6.3v2.6h-6.3zM95 406.6h6.3v2.6h-6.3zM103.7 406.6h6.3v2.6h-6.3zM115.1 406.6h2.1v2.6h-2.1zM122.3 406.6h2.1v2.6h-2.1zM143.9 406.6h2.1v2.6h-2.1zM157.4 406.6h2.1v2.6h-2.1zM163.7 406.6h2.1v2.6h-2.1zM192.5 406.6h2.1v2.6h-2.1zM35 409.15h2.1v2.6h-2.1zM41.3 409.15h2.1v2.6h-2.1zM42.2 409.15h4.2v2.6h-4.2zM72.2 409.15h2.1v2.6h-2.1zM95.6 409.15h2.1v2.6h-2.1zM119.9 409.15h2.1v2.6h-2.1zM138.8 409.15h2.1v2.6h-2.1zM143.3 409.15h2.1v2.6h-2.1zM159.5 409.15h2.1v2.6h-2.1zM164 409.15h2.1v2.6h-2.1zM180.2 409.15h6.3v2.6h-6.3zM46.7 411.7h4.2v2.6h-4.2zM56 411.7h2.1v2.6h-2.1zM59.6 411.7h2.1v2.6h-2.1zM64.1 411.7h2.1v2.6h-2.1zM67.7 411.7h4.2v2.6h-4.2zM82.4 411.7h2.1v2.6h-2.1zM139.1 411.7h2.1v2.6h-2.1zM60.2 414.25h2.1v2.6h-2.1zM76.4 414.25h6.3v2.6h-6.3zM84.2 414.25h6.3v2.6h-6.3zM99.2 414.25h2.1v2.6h-2.1zM100.1 414.25h2.1v2.6h-2.1zM103.7 414.25h2.1v2.6h-2.1zM111.8 414.25h2.1v2.6h-2.1zM119.9 414.25h4.2v2.6h-4.2zM139.1 414.25h2.1v2.6h-2.1zM156.2 414.25h2.1v2.6h-2.1zM190.4 414.25h2.1v2.6h-2.1zM193.1 414.25h2.1v2.6h-2.1zM205.7 414.25h2.1v2.6h-2.1zM75.5 416.8h4.2v2.6h-4.2zM89.3 416.8h2.1v2.6h-2.1zM173.9 416.8h2.1v2.6h-2.1zM33.2 419.35h2.1v2.6h-2.1zM36.8 419.35h2.1v2.6h-2.1zM50.3 419.35h2.1v2.6h-2.1zM51.2 419.35h2.1v2.6h-2.1zM61.1 419.35h2.1v2.6h-2.1zM67.4 419.35h2.1v2.6h-2.1zM69.2 419.35h2.1v2.6h-2.1zM70.1 419.35h2.1v2.6h-2.1zM71 419.35h2.1v2.6h-2.1zM76.4 419.35h2.1v2.6h-2.1zM79.1 419.35h2.1v2.6h-2.1zM98 419.35h2.1v2.6h-2.1zM111.5 419.35h4.2v2.6h-4.2zM131.6 419.35h2.1v2.6h-2.1zM138.8 419.35h2.1v2.6h-2.1zM146.9 419.35h2.1v2.6h-2.1zM149.6 419.35h4.2v2.6h-4.2zM189.5 419.35h2.1v2.6h-2.1zM194 419.35h4.2v2.6h-4.2zM198.8 419.35h2.1v2.6h-2.1zM201.5 419.35h2.1v2.6h-2.1zM35 421.9h2.1v2.6h-2.1zM39.5 421.9h2.1v2.6h-2.1zM58.4 421.9h2.1v2.6h-2.1zM79.1 421.9h2.1v2.6h-2.1zM84.5 421.9h2.1v2.6h-2.1zM122.3 421.9h2.1v2.6h-2.1zM184.4 421.9h6.3v2.6h-6.3zM38.6 424.45h6.3v2.6h-6.3zM49.1 424.45h2.1v2.6h-2.1zM59 424.45h2.1v2.6h-2.1zM72.5 424.45h2.1v2.6h-2.1zM104.9 424.45h2.1v2.6h-2.1zM105.8 424.45h2.1v2.6h-2.1zM109.4 424.45h2.1v2.6h-2.1zM112.1 424.45h2.1v2.6h-2.1zM122.9 424.45h2.1v2.6h-2.1zM135.5 424.45h2.1v2.6h-2.1zM165.2 424.45h2.1v2.6h-2.1zM171.5 424.45h2.1v2.6h-2.1zM174.2 424.45h2.1v2.6h-2.1zM187.7 424.45h2.1v2.6h-2.1zM35 427h2.1v2.6h-2.1zM42.2 427h4.2v2.6h-4.2zM54.2 427h2.1v2.6h-2.1zM71.3 427h2.1v2.6h-2.1zM82.1 427h2.1v2.6h-2.1zM83.9 427h2.1v2.6h-2.1zM86.6 427h2.1v2.6h-2.1zM93.8 427h2.1v2.6h-2.1zM102.8 427h2.1v2.6h-2.1zM119 427h2.1v2.6h-2.1zM135.2 427h2.1v2.6h-2.1zM190.1 427h2.1v2.6h-2.1zM205.4 427h2.1v2.6h-2.1zM33.2 429.55h2.1v2.6h-2.1zM42.2 429.55h2.1v2.6h-2.1zM44.9 429.55h2.1v2.6h-2.1zM52.1 429.55h2.1v2.6h-2.1zM61.1 429.55h2.1v2.6h-2.1zM63.8 429.55h2.1v2.6h-2.1zM69.2 429.55h2.1v2.6h-2.1zM71 429.55h2.1v2.6h-2.1zM73.7 429.55h2.1v2.6h-2.1zM74.6 429.55h2.1v2.6h-2.1zM110.6 429.55h2.1v2.6h-2.1zM124.1 429.55h4.2v2.6h-4.2zM140.6 429.55h2.1v2.6h-2.1zM148.7 429.55h2.1v2.6h-2.1zM153.2 429.55h2.1v2.6h-2.1zM185.6 429.55h2.1v2.6h-2.1zM194.6 429.55h2.1v2.6h-2.1z"/>
<path fill="#0000ff" d="M30.5 433h4.2v2.6h-4.2zM66.8 433h2.1v2.6h-2.1zM67.7 433h2.1v2.6h-2.1zM72.2 433h2.1v2.6h-2.1zM123.5 433h2.1v2.6h-2.1zM185.6 433h2.1v2.6h-2.1zM195.5 433h2.1v2.6h-2.1zM46.7 435.55h2.1v2.6h-2.1zM60.2 435.55h2.1v2.6h-2.1zM62.9 435.55h2.1v2.6h-2.1zM77.3 435.55h2.1v2.6h-2.1zM161.9 435.55h2.1v2.6h-2.1zM173.6 435.55h2.1v2.6h-2.1zM182.6 435.55h4.2v2.6h-4.2zM191 435.55h4.2v2.6h-4.2zM204.8 435.55h2.1v2.6h-2.1zM44 438.1h2.1v2.6h-2.1zM50.3 438.1h2.1v2.6h-2.1zM53 438.1h2.1v2.6h-2.1zM53.9 438.1h2.1v2.6h-2.1zM62 438.1h4.2v2.6h-4.2zM68.6 438.1h2.1v2.6h-2.1zM75.8 438.1h2.1v2.6h-2.1zM83 438.1h2.1v2.6h-2.1zM98.3 438.1h2.1v2.6h-2.1zM110.9 438.1h2.1v2.6h-2.1zM113.6 438.1h2.1v2.6h-2.1zM149.6 438.1h6.3v2.6h-6.3zM168.2 438.1h4.2v2.6h-4.2zM171.2 438.1h2.1v2.6h-2.1zM180.2 438.1h2.1v2.6h-2.1zM202.7 438.1h2.1v2.6h-2.1zM205.4 438.1h2.1v2.6h-2.1zM41.3 440.65h2.1v2.6h-2.1zM42.2 440.65h2.1v2.6h-2.1zM49.4 440.65h2.1v2.6h-2.1zM62.9 440.65h6.3v2.6h-6.3zM90.5 440.65h2.1v2.6h-2.1zM99.5 440.65h2.1v2.6h-2.1zM130.1 440.65h2.1v2.6h-2.1zM142.7 440.65h2.1v2.6h-2.1zM147.2 440.65h2.1v2.6h-2.1zM203.9 440.65h2.1v2.6h-2.1zM45.8 443.2h2.1v2.6h-2.1zM46.7 443.2h2.1v2.6h-2.1zM47.6 443.2h2.1v2.6h-2.1zM49.4 443.2h2.1v2.6h-2.1zM56.6 443.2h6.3v2.6h-6.3zM68.9 443.2h2.1v2.6h-2.1zM77 443.2h2.1v2.6h-2.1zM79.7 443.2h2.1v2.6h-2.1zM85.1 443.2h6.3v2.6h-6.3zM96.5 443.2h6.3v2.6h-6.3zM108.8 443.2h2.1v2.6h-2.1zM117.8 443.2h2.1v2.6h-2.1zM124.1 443.2h2.1v2.6h-2.1zM158.3 443.2h2.1v2.6h-2.1zM170.9 443.2h6.3v2.6h-6.3zM108.8 445.75h2.1v2.6h-2.1zM198.8 445.75h2.1v2.6h-2.1zM59.3 448.3h2.1v2.6h-2.1zM61.1 448.3h2.1v2.6h-2.1zM88.1 448.3h2.1v2.6h-2.1zM108.8 448.3h2.1v2.6h-2.1zM183.5 448.3h2.1v2.6h-2.1zM31.4 450.85h2.1v2.6h-2.1zM32.3 450.85h2.1v2.6h-2.1zM33.2 450.85h2.1v2.6h-2.1zM45.8 450.85h2.1v2.6h-2.1zM51.2 450.85h6.3v2.6h-6.3zM57.2 450.85h2.1v2.6h-2.1zM59 450.85h2.1v2.6h-2.1zM59.9 450.85h2.1v2.6h-2.1zM61.7 450.85h2.1v2.6h-2.1zM74.3 450.85h2.1v2.6h-2.1zM77 450.85h2.1v2.6h-2.1zM77.9 450.85h2.1v2.6h-2.1zM78.8 450.85h2.1v2.6h-2.1zM96.8 450.85h2.1v2.6h-2.1zM104.9 450.85h2.1v2.6h-2.1zM133.7 450.85h2.1v2.6h-2.1zM158 450.85h2.1v2.6h-2.1zM176 450.85h6.3v2.6h-6.3zM187.4 450.85h2.1v2.6h-2.1zM191.9 450.85h2.1v2.6h-2.1zM44 453.4h2.1v2.6h-2.1zM65.6 453.4h2.1v2.6h-2.1zM68.3 453.4h2.1v2.6h-2.1zM89.9 453.4h2.1v2.6h-2.1zM116.9 453.4h2.1v2.6h-2.1zM162.8 453.4h6.3v2.6h-6.3zM171.5 453.4h2.1v2.6h-2.1zM46.7 455.95h2.1v2.6h-2.1zM53 455.95h2.1v2.6h-2.1zM62 455.95h6.3v2.6h-6.3zM74.3 455.95h2.1v2.6h-2.1zM85.1 455.95h2.1v2.6h-2.1zM132.8 455.95h2.1v2.6h-2.1zM41.3 458.5h2.1v2.6h-2.1zM44 458.5h4.2v2.6h-4.2zM47 458.5h4.2v2.6h-4.2zM70.7 458.5h2.1v2.6h-2.1zM86 458.5h2.1v2.6h-2.1zM86.9 458.5h6.3v2.6h-6.3zM93.8 458.5h2.1v2.6h-2.1zM99.2 458.5h4.2v2.6h-4.2zM107.6 458.5h2.1v2.6h-2.1zM108.5 458.5h2.1v2.6h-2.1zM140.9 458.5h6.3v2.6h-6.3zM159.5 458.5h2.1v2.6h-2.1zM166.7 458.5h4.2v2.6h-4.2zM197.6 458.5h2.1v2.6h-2.1zM31.4 461.05h2.1v2.6h-2.1zM34.1 461.05h2.1v2.6h-2.1zM89.9 461.05h2.1v2.6h-2.1zM117.8 461.05h2.1v2.6h-2.1zM146.6 461.05h2.1v2.6h-2.1zM161.9 461.05h6.3v2.6h-6.3zM35.9 463.6h2.1v2.6h-2.1zM46.7 463.6h2.1v2.6h-2.1zM59.3 463.6h2.1v2.6h-2.1zM60.2 463.6h2.1v2.6h-2.1zM62 463.6h2.1v2.6h-2.1zM62.9 463.6h4.2v2.6h-4.2zM69.5 463.6h2.1v2.6h-2.1zM70.4 463.6h2.1v2.6h-2.1zM73.1 463.6h2.1v2.6h-2.1zM74 463.6h2.1v2.6h-2.1zM74.9 463.6h4.2v2.6h-4.2zM77.9 463.6h2.1v2.6h-2.1zM79.7 463.6h2.1v2.6h-2.1zM86 463.6h6.3v2.6h-6.3zM92 463.6h2.1v2.6h-2.1zM92.9 463.6h2.1v2.6h-2.1zM94.7 463.6h2.1v2.6h-2.1zM96.5 463.6h2.1v2.6h-2.1zM99.2 463.6h2.1v2.6h-2.1zM135.2 463.6h2.1v2.6h-2.1zM150.5 463.6h6.3v2.6h-6.3zM169.1 463.6h2.1v2.6h-2.1zM179 463.6h2.1v2.6h-2.1zM202.4 463.6h2.1v2.6h-2.1zM41.3 466.15h2.1v2.6h-2.1zM47.6 466.15h2.1v2.6h-2.1zM48.5 466.15h2.1v2.6h-2.1zM52.1 466.15h2.1v2.6h-2.1zM53 466.15h2.1v2.6h-2.1zM55.7 466.15h2.1v2.6h-2.1zM57.5 466.15h2.1v2.6h-2.1zM61.1 466.15h2.1v2.6h-2.1zM71 466.15h4.2v2.6h-4.2zM75.8 466.15h2.1v2.6h-2.1zM76.7 466.15h2.1v2.6h-2.1zM83.9 466.15h2.1v2.6h-2.1zM94.7 466.15h4.2v2.6h-4.2zM119.3 466.15h2.1v2.6h-2.1zM123.8 466.15h4.2v2.6h-4.2zM130.4 466.15h2.1v2.6h-2.1zM175.4 466.15h2.1v2.6h-2.1zM180.8 466.15h2.1v2.6h-2.1zM190.7 466.15h2.1v2.6h-2.1zM192.5 466.15h4.2v2.6h-4.2zM35 468.7h4.2v2.6h-4.2zM43.4 468.7h6.3v2.6h-6.3zM53.9 468.7h2.1v2.6h-2.1zM56.6 468.7h6.3v2.6h-6.3zM68 468.7h2.1v2.6h-2.1zM74.3 468.7h2.1v2.6h-2.1zM76.1 468.7h2.1v2.6h-2.1zM83.3 468.7h2.1v2.6h-2.1zM95.9 468.7h2.1v2.6h-2.1zM118.4 468.7h2.1v2.6h-2.1zM119.3 468.7h4.2v2.6h-4.2zM135.8 468.7h2.1v2.6h-2.1zM153.8 468.7h2.1v2.6h-2.1zM175.4 468.7h2.1v2.6h-2.1zM200.6 468.7h2.1v2.6h-2.1zM46.7 471.25h2.1v2.6h-2.1zM52.1 471.25h2.1v2.6h-2.1zM71.9 471.25h2.1v2.6h-2.1zM72.8 471.25h2.1v2.6h-2.1zM77.3 471.25h2.1v2.6h-2.1zM99.8 471.25h2.1v2.6h-2.1zM105.2 471.25h2.1v2.6h-2.1zM107 471.25h2.1v2.6h-2.1zM125.9 471.25h2.1v2.6h-2.1zM138.5 471.25h4.2v2.6h-4.2zM174.8 471.25h2.1v2.6h-2.1zM193.7 471.25h2.1v2.6h-2.1zM199.1 471.25h2.1v2.6h-2.1zM202.7 471.25h2.1v2.6h-2.1zM35 473.8h2.1v2.6h-2.1zM44 473.8h2.1v2.6h-2.1zM47.6 473.8h2.1v2.6h-2.1zM48.5 473.8h2.1v2.6h-2.1zM49.4 473.8h2.1v2.6h-2.1zM50.3 473.8h6.3v2.6h-6.3zM56.3 473.8h2.1v2.6h-2.1zM58.1 473.8h2.1v2.6h-2.1zM60.8 473.8h2.1v2.6h-2.1zM61.7 473.8h2.1v2.6h-2.1zM62.6 473.8h2.1v2.6h-2.1zM70.7 473.8h4.2v2.6h-4.2zM73.7 473.8h2.1v2.6h-2.1zM76.4 473.8h2.1v2.6h-2.1zM90.8 473.8h2.1v2.6h-2.1zM91.7 473.8h2.1v2.6h-2.1zM92.6 473.8h2.1v2.6h-2.1zM95.3 473.8h2.1v2.6h-2.1zM98 473.8h2.1v2.6h-2.1zM98.9 473.8h2.1v2.6h-2.1zM99.8 473.8h2.1v2.6h-2.1zM107.9 473.8h2.1v2.6h-2.1zM109.7 473.8h2.1v2.6h-2.1zM111.5 473.8h2.1v2.6h-2.1zM125 473.8h2.1v2.6h-2.1zM128.6 473.8h2.1v2.6h-2.1zM136.7 473.8h2.1v2.6h-2.1zM140.3 473.8h2.1v2.6h-2.1zM144.8 473.8h2.1v2.6h-2.1zM151.1 473.8h2.1v2.6h-2.1zM159.2 473.8h2.1v2.6h-2.1zM163.7 473.8h2.1v2.6h-2.1zM178.1 473.8h2.1v2.6h-2.1zM187.1 473.8h2.1v2.6h-2.1zM199.7 473.8h2.1v2.6h-2.1zM35.9 476.35h4.2v2.6h-4.2zM38.9 476.35h2.1v2.6h-2.1zM39.8 476.35h2.1v2.6h-2.1zM42.5 476.35h4.2v2.6h-4.2zM45.5 476.35h2.1v2.6h-2.1zM46.4 476.35h6.3v2.6h-6.3zM52.4 476.35h2.1v2.6h-2.1zM53.3 476.35h2.1v2.6h-2.1zM57.8 476.35h4.2v2.6h-4.2zM60.8 476.35h2.1v2.6h-2.1zM63.5 476.35h2.1v2.6h-2.1zM65.3 476.35h2.1v2.6h-2.1zM66.2 476.35h2.1v2.6h-2.1zM68.9 476.35h2.1v2.6h-2.1zM77.9 476.35h2.1v2.6h-2.1zM79.7 476.35h2.1v2.6h-2.1zM85.1 476.35h2.1v2.6h-2.1zM90.5 476.35h4.2v2.6h-4.2zM94.4 476.35h2.1v2.6h-2.1zM97.1 476.35h2.1v2.6h-2.1zM108.8 476.35h2.1v2.6h-2.1zM117.8 476.35h2.1v2.6h-2.1zM125 476.35h2.1v2.6h-2.1zM125.9 476.35h2.1v2.6h-2.1zM128.6 476.35h2.1v2.6h-2.1zM134 476.35h2.1v2.6h-2.1zM136.7 476.35h2.1v2.6h-2.1zM145.7 476.35h2.1v2.6h-2.1zM146.6 476.35h2.1v2.6h-2.1zM147.5 476.35h2.1v2.6h-2.1zM150.2 476.35h4.2v2.6h-4.2zM155.9 476.35h2.1v2.6h-2.1zM170.3 476.35h4.2v2.6h-4.2zM193.1 476.35h2.1v2.6h-2.1zM196.7 476.35h2.1v2.6h-2.1zM204.8 476.35h2.1v2.6h-2.1zM56.6 478.9h2.1v2.6h-2.1zM62 478.9h2.1v2.6h-2.1zM69.2 478.9h2.1v2.6h-2.1zM117.8 478.9h2.1v2.6h-2.1zM143.9 478.9h2.1v2.6h-2.1zM166.4 478.9h2.1v2.6h-2.1zM199.7 478.9h2.1v2.6h-2.1zM38.6 481.45h2.1v2.6h-2.1zM43.1 481.45h2.1v2.6h-2.1zM44.9 481.45h4.2v2.6h-4.2zM51.5 481.45h2.1v2.6h-2.1zM64.1 481.45h2.1v2.6h-2.1zM82.1 481.45h2.1v2.6h-2.1zM90.2 481.45h2.1v2.6h-2.1zM92.9 481.45h2.1v2.6h-2.1zM134.3 481.45h2.1v2.6h-2.1zM137 481.45h4.2v2.6h-4.2zM142.7 481.45h2.1v2.6h-2.1zM150.8 481.45h2.1v2.6h-2.1zM157.1 481.45h2.1v2.6h-2.1zM166.1 481.45h2.1v2.6h-2.1zM167.9 481.45h2.1v2.6h-2.1zM176 481.45h2.1v2.6h-2.1zM46.7 484h2.1v2.6h-2.1zM48.5 484h2.1v2.6h-2.1zM49.4 484h2.1v2.6h-2.1zM53 484h2.1v2.6h-2.1zM55.7 484h2.1v2.6h-2.1zM59.3 484h2.1v2.6h-2.1zM62 484h4.2v2.6h-4.2zM65 484h6.3v2.6h-6.3zM70.1 484h2.1v2.6h-2.1zM71 484h4.2v2.6h-4.2zM76.7 484h2.1v2.6h-2.1zM77.6 484h2.1v2.6h-2.1zM78.5 484h2.1v2.6h-2.1zM79.4 484h2.1v2.6h-2.1zM81.2 484h2.1v2.6h-2.1zM83.9 484h2.1v2.6h-2.1zM87.5 484h6.3v2.6h-6.3zM107.9 484h2.1v2.6h-2.1zM112.4 484h2.1v2.6h-2.1zM117.8 484h2.1v2.6h-2.1zM118.7 484h2.1v2.6h-2.1zM121.4 484h2.1v2.6h-2.1zM134 484h2.1v2.6h-2.1zM166.4 484h2.1v2.6h-2.1zM169.1 484h4.2v2.6h-4.2zM177.5 484h2.1v2.6h-2.1zM178.4 484h2.1v2.6h-2.1zM202.7 484h2.1v2.6h-2.1zM205.4 484h2.1v2.6h-2.1zM39.5 486.55h2.1v2.6h-2.1zM44 486.55h2.1v2.6h-2.1zM54.8 486.55h6.3v2.6h-6.3zM66.2 486.55h2.1v2.6h-2.1zM68.9 486.55h2.1v2.6h-2.1zM75.2 486.55h2.1v2.6h-2.1zM76.1 486.55h4.2v2.6h-4.2zM101.6 486.55h2.1v2.6h-2.1zM118.7 486.55h2.1v2.6h-2.1zM126.8 486.55h2.1v2.6h-2.1zM136.7 486.55h2.1v2.6h-2.1zM137.6 486.55h2.1v2.6h-2.1zM139.4 486.55h6.3v2.6h-6.3zM155.3 486.55h2.1v2.6h-2.1zM161.6 486.55h2.1v2.6h-2.1zM167.9 486.55h2.1v2.6h-2.1zM171.5 486.55h2.1v2.6h-2.1zM188.6 486.55h6.3v2.6h-6.3zM44 489.1h2.1v2.6h-2.1zM69.2 489.1h2.1v2.6h-2.1zM70.1 489.1h2.1v2.6h-2.1zM85.4 489.1h2.1v2.6h-2.1zM97.1 489.1h2.1v2.6h-2.1zM98 489.1h2.1v2.6h-2.1zM125 489.1h2.1v2.6h-2.1zM134.9 489.1h2.1v2.6h-2.1zM173.6 489.1h2.1v2.6h-2.1zM179.9 489.1h2.1v2.6h-2.1zM180.8 489.1h2.1v2.6h-2.1zM185.3 489.1h2.1v2.6h-2.1zM206 489.1h2.1v2.6h-2.1z"/>
<path fill="#ff0000" d="M44.9 490.5h2.1v2.6h-2.1zM46.7 490.5h2.1v2.6h-2.1zM47.6 490.5h2.1v2.6h-2.1zM49.4 490.5h2.1v2.6h-2.1zM70.1 490.5h2.1v2.6h-2.1zM74.6 490.5h2.1v2.6h-2.1zM75.5 490.5h6.3v2.6h-6.3zM81.5 490.5h2.1v2.6h-2.1zM96.8 490.5h4.2v2.6h-4.2zM104.3 490.5h2.1v2.6h-2.1zM110.6 490.5h6.3v2.6h-6.3zM115.7 490.5h2.1v2.6h-2.1zM119.3 490.5h2.1v2.6h-2.1zM125.6 490.5h2.1v2.6h-2.1zM128.3 490.5h2.1v2.6h-2.1zM131.9 490.5h2.1v2.6h-2.1zM132.8 490.5h2.1v2.6h-2.1zM133.7 490.5h2.1v2.6h-2.1zM138.2 490.5h2.1v2.6h-2.1zM157.1 490.5h2.1v2.6h-2.1zM158.9 490.5h2.1v2.6h-2.1zM170.6 490.5h2.1v2.6h-2.1zM178.7 490.5h6.3v2.6h-6.3zM199.1 490.5h2.1v2.6h-2.1zM35.9 493.05h2.1v2.6h-2.1zM42.2 493.05h2.1v2.6h-2.1zM44 493.05h4.2v2.6h-4.2zM47.9 493.05h6.3v2.6h-6.3zM59.3 493.05h2.1v2.6h-2.1zM61.1 493.05h2.1v2.6h-2.1zM63.8 493.05h2.1v2.6h-2.1zM66.5 493.05h2.1v2.6h-2.1zM68.3 493.05h2.1v2.6h-2.1zM73.7 493.05h2.1v2.6h-2.1zM75.5 493.05h2.1v2.6h-2.1zM77.3 493.05h2.1v2.6h-2.1zM80.9 493.05h2.1v2.6h-2.1zM86.3 493.05h2.1v2.6h-2.1zM88.1 493.05h2.1v2.6h-2.1zM89 493.05h2.1v2.6h-2.1zM95.3 493.05h2.1v2.6h-2.1zM99.8 493.05h2.1v2.6h-2.1zM100.7 493.05h6.3v2.6h-6.3zM107.6 493.05h2.1v2.6h-2.1zM108.5 493.05h2.1v2.6h-2.1zM109.4 493.05h2.1v2.6h-2.1zM110.3 493.05h4.2v2.6h-4.2zM114.2 493.05h2.1v2.6h-2.1zM119.6 493.05h2.1v2.6h-2.1zM125.9 493.05h2.1v2.6h-2.1zM131.3 493.05h2.1v2.6h-2.1zM141.2 493.05h4.2v2.6h-4.2zM145.1 493.05h2.1v2.6h-2.1zM148.7 493.05h6.3v2.6h-6.3zM153.8 493.05h2.1v2.6h-2.1zM157.4 493.05h2.1v2.6h-2.1zM165.5 493.05h2.1v2.6h-2.1zM170 493.05h2.1v2.6h-2.1zM171.8 493.05h2.1v2.6h-2.1zM175.4 493.05h2.1v2.6h-2.1zM190.7 493.05h2.1v2.6h-2.1zM33.2 495.6h2.1v2.6h-2.1zM37.7 495.6h6.3v2.6h-6.3zM46.4 495.6h2.1v2.6h-2.1zM49.1 495.6h2.1v2.6h-2.1zM53.6 495.6h4.2v2.6h-4.2zM59.3 495.6h2.1v2.6h-2.1zM99.8 495.6h2.1v2.6h-2.1zM100.7 495.6h2.1v2.6h-2.1zM106.1 495.6h2.1v2.6h-2.1zM108.8 495.6h2.1v2.6h-2.1zM109.7 495.6h2.1v2.6h-2.1zM114.2 495.6h2.1v2.6h-2.1zM117.8 495.6h2.1v2.6h-2.1zM123.2 495.6h2.1v2.6h-2.1zM130.4 495.6h2.1v2.6h-2.1zM156.5 495.6h2.1v2.6h-2.1zM168.2 495.6h4.2v2.6h-4.2zM183.8 495.6h2.1v2.6h-2.1zM191 495.6h2.1v2.6h-2.1zM47.6 498.15h2.1v2.6h-2.1zM51.2 498.15h2.1v2.6h-2.1zM76.4 498.15h2.1v2.6h-2.1zM84.5 498.15h4.2v2.6h-4.2zM97.4 498.15h2.1v2.6h-2.1zM102.8 498.15h2.1v2.6h-2.1zM103.7 498.15h2.1v2.6h-2.1zM105.5 498.15h2.1v2.6h-2.1zM106.4 498.15h2.1v2.6h-2.1zM110 498.15h2.1v2.6h-2.1zM134.3 498.15h2.1v2.6h-2.1zM137.9 498.15h2.1v2.6h-2.1zM146.9 498.15h2.1v2.6h-2.1zM172.1 498.15h2.1v2.6h-2.1zM179.3 498.15h4.2v2.6h-4.2zM187.7 498.15h2.1v2.6h-2.1zM46.7 500.7h2.1v2.6h-2.1zM47.6 500.7h2.1v2.6h-2.1zM53.9 500.7h2.1v2.6h-2.1zM88.1 500.7h2.1v2.6h-2.1zM89.9 500.7h4.2v2.6h-4.2zM110.9 500.7h2.1v2.6h-2.1zM119.9 500.7h2.1v2.6h-2.1zM135.2 500.7h2.1v2.6h-2.1zM148.7 500.7h4.2v2.6h-4.2zM158 500.7h2.1v2.6h-2.1zM165.2 500.7h2.1v2.6h-2.1zM182.3 500.7h2.1v2.6h-2.1zM99.8 503.25h6.3v2.6h-6.3zM137.3 503.25h2.1v2.6h-2.1zM159.8 503.25h6.3v2.6h-6.3zM44.9 505.8h2.1v2.6h-2.1zM45.8 505.8h2.1v2.6h-2.1zM48.5 505.8h2.1v2.6h-2.1zM51.2 505.8h2.1v2.6h-2.1zM55.7 505.8h2.1v2.6h-2.1zM59.3 505.8h2.1v2.6h-2.1zM62.9 505.8h6.3v2.6h-6.3zM70.7 505.8h2.1v2.6h-2.1zM72.5 505.8h6.3v2.6h-6.3zM82.1 505.8h2.1v2.6h-2.1zM83 505.8h2.1v2.6h-2.1zM93.8 505.8h2.1v2.6h-2.1zM111.8 505.8h2.1v2.6h-2.1zM114.5 505.8h2.1v2.6h-2.1zM139.7 505.8h2.1v2.6h-2.1zM141.5 505.8h2.1v2.6h-2.1zM154.1 505.8h2.1v2.6h-2.1zM157.7 505.8h2.1v2.6h-2.1zM167.6 505.8h2.1v2.6h-2.1zM175.7 505.8h2.1v2.6h-2.1zM178.4 505.8h2.1v2.6h-2.1zM186.5 505.8h2.1v2.6h-2.1zM191 505.8h4.2v2.6h-4.2zM42.2 508.35h2.1v2.6h-2.1zM50.3 508.35h2.1v2.6h-2.1zM51.2 508.35h4.2v2.6h-4.2zM63.2 508.35h2.1v2.6h-2.1zM76.7 508.35h2.1v2.6h-2.1zM98.3 508.35h2.1v2.6h-2.1zM101 508.35h6.3v2.6h-6.3zM107.9 508.35h2.1v2.6h-2.1zM116 508.35h2.1v2.6h-2.1zM125.9 508.35h2.1v2.6h-2.1zM133.1 508.35h2.1v2.6h-2.1zM136.7 508.35h2.1v2.6h-2.1zM142.1 508.35h2.1v2.6h-2.1zM152 508.35h2.1v2.6h-2.1zM155.6 508.35h2.1v2.6h-2.1zM164.6 508.35h2.1v2.6h-2.1zM165.5 508.35h2.1v2.6h-2.1zM167.3 508.35h2.1v2.6h-2.1zM170.9 508.35h2.1v2.6h-2.1zM203.3 508.35h2.1v2.6h-2.1zM206.9 508.35h2.1v2.6h-2.1zM50.3 510.9h2.1v2.6h-2.1zM54.8 510.9h2.1v2.6h-2.1zM64.7 510.9h2.1v2.6h-2.1zM71 510.9h2.1v2.6h-2.1zM101.6 510.9h4.2v2.6h-4.2zM110 510.9h2.1v2.6h-2.1zM119 510.9h2.1v2.6h-2.1zM156.8 510.9h2.1v2.6h-2.1zM165.8 510.9h2.1v2.6h-2.1zM178.4 510.9h2.1v2.6h-2.1zM32.3 513.45h2.1v2.6h-2.1zM40.4 513.45h2.1v2.6h-2.1zM44 513.45h4.2v2.6h-4.2zM48.8 513.45h2.1v2.6h-2.1zM49.7 513.45h2.1v2.6h-2.1zM56 513.45h4.2v2.6h-4.2zM60.8 513.45h2.1v2.6h-2.1zM69.8 513.45h2.1v2.6h-2.1zM73.4 513.45h2.1v2.6h-2.1zM74.3 513.45h2.1v2.6h-2.1zM75.2 513.45h6.3v2.6h-6.3zM82.1 513.45h6.3v2.6h-6.3zM91.7 513.45h2.1v2.6h-2.1zM104.3 513.45h2.1v2.6h-2.1zM110.6 513.45h2.1v2.6h-2.1zM134.9 513.45h4.2v2.6h-4.2zM139.7 513.45h2.1v2.6h-2.1zM142.4 513.45h2.1v2.6h-2.1zM177.5 513.45h2.1v2.6h-2.1zM42.2 516h2.1v2.6h-2.1zM48.5 516h2.1v2.6h-2.1zM60.2 516h2.1v2.6h-2.1zM62 516h2.1v2.6h-2.1zM77.3 516h2.1v2.6h-2.1zM78.2 516h2.1v2.6h-2.1zM88.1 516h6.3v2.6h-6.3zM100.4 516h2.1v2.6h-2.1zM103.1 516h2.1v2.6h-2.1zM109.4 516h2.1v2.6h-2.1zM110.3 516h2.1v2.6h-2.1zM111.2 516h2.1v2.6h-2.1zM112.1 516h2.1v2.6h-2.1zM119.3 516h6.3v2.6h-6.3zM125.3 516h2.1v2.6h-2.1zM137.9 516h2.1v2.6h-2.1zM145.1 516h2.1v2.6h-2.1zM156.8 516h2.1v2.6h-2.1zM158.6 516h2.1v2.6h-2.1zM173.9 516h2.1v2.6h-2.1zM178.4 516h2.1v2.6h-2.1zM192.8 516h2.1v2.6h-2.1zM31.4 518.55h6.3v2.6h-6.3zM45.5 518.55h2.1v2.6h-2.1zM46.4 518.55h2.1v2.6h-2.1zM50 518.55h4.2v2.6h-4.2zM55.7 518.55h2.1v2.6h-2.1zM58.4 518.55h2.1v2.6h-2.1zM60.2 518.55h2.1v2.6h-2.1zM65.6 518.55h2.1v2.6h-2.1zM75.5 518.55h2.1v2.6h-2.1zM76.4 518.55h2.1v2.6h-2.1zM103.4 518.55h2.1v2.6h-2.1zM107 518.55h4.2v2.6h-4.2zM121.7 518.55h2.1v2.6h-2.1zM122.6 518.55h2.1v2.6h-2.1zM144.2 518.55h2.1v2.6h-2.1zM150.5 518.55h2.1v2.6h-2.1zM157.7 518.55h2.1v2.6h-2.1zM159.5 518.55h2.1v2.6h-2.1zM164.9 518.55h2.1v2.6h-2.1zM170.3 518.55h2.1v2.6h-2.1zM171.2 518.55h2.1v2.6h-2.1zM173.9 518.55h2.1v2.6h-2.1zM174.8 518.55h2.1v2.6h-2.1zM176.6 518.55h2.1v2.6h-2.1zM181.1 518.55h2.1v2.6h-2.1zM185.6 518.55h2.1v2.6h-2.1zM201.8 518.55h2.1v2.6h-2.1zM43.1 521.1h2.1v2.6h-2.1zM46.7 521.1h2.1v2.6h-2.1zM48.5 521.1h4.2v2.6h-4.2zM56 521.1h2.1v2.6h-2.1zM67.7 521.1h2.1v2.6h-2.1zM81.2 521.1h2.1v2.6h-2.1zM84.8 521.1h2.1v2.6h-2.1zM99.2 521.1h2.1v2.6h-2.1zM111.8 521.1h6.3v2.6h-6.3zM119.6 521.1h2.1v2.6h-2.1zM128.6 521.1h2.1v2.6h-2.1zM129.5 521.1h2.1v2.6h-2.1zM155.6 521.1h2.1v2.6h-2.1zM170 521.1h2.1v2.6h-2.1zM170.9 521.1h4.2v2.6h-4.2zM179.3 521.1h2.1v2.6h-2.1zM192.8 521.1h2.1v2.6h-2.1zM196.4 521.1h2.1v2.6h-2.1zM201.8 521.1h2.1v2.6h-2.1zM30.5 523.65h2.1v2.6h-2.1zM43.1 523.65h2.1v2.6h-2.1zM44.9 523.65h2.1v2.6h-2.1zM46.7 523.65h2.1v2.6h-2.1zM50.3 523.65h2.1v2.6h-2.1zM67.4 523.65h6.3v2.6h-6.3zM101.3 523.65h2.1v2.6h-2.1zM104 523.65h2.1v2.6h-2.1zM106.7 523.65h2.1v2.6h-2.1zM113.9 523.65h2.1v2.6h-2.1zM114.8 523.65h2.1v2.6h-2.1zM115.7 523.65h2.1v2.6h-2.1zM116.6 523.65h6.3v2.6h-6.3zM155.9 523.65h2.1v2.6h-2.1zM162.2 523.65h2.1v2.6h-2.1zM171.2 523.65h2.1v2.6h-2.1zM197.3 523.65h2.1v2.6h-2.1zM204.5 523.65h2.1v2.6h-2.1zM30.5 526.2h2.1v2.6h-2.1zM31.4 526.2h2.1v2.6h-2.1zM51.2 526.2h2.1v2.6h-2.1zM54.8 526.2h2.1v2.6h-2.1zM73.7 526.2h2.1v2.6h-2.1zM87.2 526.2h2.1v2.6h-2.1zM116 526.2h2.1v2.6h-2.1zM171.8 526.2h2.1v2.6h-2.1zM179 526.2h2.1v2.6h-2.1zM202.4 526.2h2.1v2.6h-2.1zM34.1 528.75h2.1v2.6h-2.1zM38.6 528.75h2.1v2.6h-2.1zM42.2 528.75h4.2v2.6h-4.2zM45.2 528.75h2.1v2.6h-2.1zM48.8 528.75h2.1v2.6h-2.1zM53.3 528.75h2.1v2.6h-2.1zM57.8 528.75h2.1v2.6h-2.1zM59.6 528.75h4.2v2.6h-4.2zM76.1 528.75h2.1v2.6h-2.1zM87.8 528.75h4.2v2.6h-4.2zM98 528.75h2.1v2.6h-2.1zM106.1 528.75h4.2v2.6h-4.2zM109.1 528.75h2.1v2.6h-2.1zM111.8 528.75h6.3v2.6h-6.3zM116.9 528.75h2.1v2.6h-2.1zM117.8 528.75h2.1v2.6h-2.1zM119.6 528.75h2.1v2.6h-2.1zM137.6 528.75h2.1v2.6h-2.1zM139.4 528.75h2.1v2.6h-2.1zM150.2 528.75h2.1v2.6h-2.1zM158.3 528.75h2.1v2.6h-2.1zM160.1 528.75h2.1v2.6h-2.1zM161.9 528.75h2.1v2.6h-2.1zM165.5 528.75h2.1v2.6h-2.1zM171.8 528.75h2.1v2.6h-2.1zM179 528.75h2.1v2.6h-2.1zM181.7 528.75h6.3v2.6h-6.3zM188.6 528.75h2.1v2.6h-2.1zM191.3 528.75h2.1v2.6h-2.1zM192.2 528.75h2.1v2.6h-2.1zM52.1 531.3h2.1v2.6h-2.1zM55.7 531.3h2.1v2.6h-2.1zM63.8 531.3h2.1v2.6h-2.1zM77.3 531.3h4.2v2.6h-4.2zM101.9 531.3h2.1v2.6h-2.1zM102.8 531.3h2.1v2.6h-2.1zM105.5 531.3h2.1v2.6h-2.1zM106.4 531.3h2.1v2.6h-2.1zM110 531.3h2.1v2.6h-2.1zM110.9 531.3h2.1v2.6h-2.1zM120.8 531.3h2.1v2.6h-2.1zM137.9 531.3h2.1v2.6h-2.1zM155 531.3h2.1v2.6h-2.1zM156.8 531.3h2.1v2.6h-2.1zM178.4 531.3h4.2v2.6h-4.2zM199.4 531.3h2.1v2.6h-2.1zM205.7 531.3h6.3v2.6h-6.3zM113.3 533.85h2.1v2.6h-2.1zM151.1 533.85h2.1v2.6h-2.1zM160.1 533.85h6.3v2.6h-6.3zM167.9 533.85h4.2v2.6h-4.2zM171.8 533.85h2.1v2.6h-2.1zM198.8 533.85h2.1v2.6h-2.1zM35.9 536.4h2.1v2.6h-2.1zM45.8 536.4h2.1v2.6h-2.1zM82.7 536.4h6.3v2.6h-6.3zM93.2 536.4h2.1v2.6h-2.1zM106.7 536.4h2.1v2.6h-2.1zM110.3 536.4h2.1v2.6h-2.1zM112.1 536.4h2.1v2.6h-2.1zM116.6 536.4h2.1v2.6h-2.1zM160.7 536.4h2.1v2.6h-2.1zM165.2 536.4h2.1v2.6h-2.1zM166.1 536.4h2.1v2.6h-2.1zM169.7 536.4h2.1v2.6h-2.1zM172.4 536.4h2.1v2.6h-2.1zM185.9 536.4h2.1v2.6h-2.1zM205.7 536.4h2.1v2.6h-2.1zM47.6 538.95h2.1v2.6h-2.1zM67.4 538.95h2.1v2.6h-2.1zM73.7 538.95h2.1v2.6h-2.1zM79.1 538.95h2.1v2.6h-2.1zM82.7 538.95h2.1v2.6h-2.1zM103.4 538.95h2.1v2.6h-2.1zM106.1 538.95h2.1v2.6h-2.1zM107.9 538.95h2.1v2.6h-2.1zM114.2 538.95h2.1v2.6h-2.1zM115.1 538.95h4.2v2.6h-4.2zM145.1 538.95h2.1v2.6h-2.1zM155 538.95h2.1v2.6h-2.1zM168.5 538.95h2.1v2.6h-2.1zM44 541.5h2.1v2.6h-2.1zM44.9 541.5h2.1v2.6h-2.1zM48.5 541.5h2.1v2.6h-2.1zM49.4 541.5h6.3v2.6h-6.3zM57.2 541.5h2.1v2.6h-2.1zM67.1 541.5h6.3v2.6h-6.3zM80.3 541.5h2.1v2.6h-2.1zM95.6 541.5h2.1v2.6h-2.1zM106.4 541.5h2.1v2.6h-2.1zM109.1 541.5h2.1v2.6h-2.1zM110 541.5h2.1v2.6h-2.1zM110.9 541.5h4.2v2.6h-4.2zM130.1 541.5h2.1v2.6h-2.1zM131 541.5h2.1v2.6h-2.1zM135.5 541.5h2.1v2.6h-2.1zM140 541.5h2.1v2.6h-2.1zM153.5 541.5h2.1v2.6h-2.1zM157.1 541.5h2.1v2.6h-2.1zM162.5 541.5h2.1v2.6h-2.1zM175.1 541.5h2.1v2.6h-2.1zM179.6 541.5h2.1v2.6h-2.1zM182.3 541.5h2.1v2.6h-2.1zM198.5 541.5h2.1v2.6h-2.1zM201.2 541.5h2.1v2.6h-2.1z"/>
<path d="M254 324.2 V546.8 H430.34" fill="none" stroke="#747474" stroke-width="1"/>
<path d="M263.3 324.2 V546.8" stroke="#a0a0a0" stroke-width="1"/>
<path d="M254 326.3 H257.8" stroke="#747474" stroke-width="1"/>
<path d="M254 374.6 H257.8" stroke="#747474" stroke-width="1"/>
<path d="M254 423 H257.8" stroke="#747474" stroke-width="1"/>
<path d="M254 471.4 H257.8" stroke="#747474" stroke-width="1"/>
<path d="M254 519.8 H257.8" stroke="#747474" stroke-width="1"/>
<path d="M263.3 546.8 V542.8" stroke="#747474" stroke-width="1"/>
<text x="263.3" y="559.9" font-size="10.2" text-anchor="middle" fill="#262626" font-family="Liberation Sans, sans-serif">−4</text>
<path d="M281.86 546.8 V542.8" stroke="#747474" stroke-width="1"/>
<text x="281.86" y="559.9" font-size="10.2" text-anchor="middle" fill="#262626" font-family="Liberation Sans, sans-serif">−3</text>
<path d="M300.42 546.8 V542.8" stroke="#747474" stroke-width="1"/>
<text x="300.42" y="559.9" font-size="10.2" text-anchor="middle" fill="#262626" font-family="Liberation Sans, sans-serif">−2</text>
<path d="M318.98 546.8 V542.8" stroke="#747474" stroke-width="1"/>
<text x="318.98" y="559.9" font-size="10.2" text-anchor="middle" fill="#262626" font-family="Liberation Sans, sans-serif">−1</text>
<path d="M337.54 546.8 V542.8" stroke="#747474" stroke-width="1"/>
<text x="337.54" y="559.9" font-size="10.2" text-anchor="middle" fill="#262626" font-family="Liberation Sans, sans-serif">0</text>
<path d="M356.1 546.8 V542.8" stroke="#747474" stroke-width="1"/>
<text x="356.1" y="559.9" font-size="10.2" text-anchor="middle" fill="#262626" font-family="Liberation Sans, sans-serif">1</text>
<path d="M374.66 546.8 V542.8" stroke="#747474" stroke-width="1"/>
<text x="374.66" y="559.9" font-size="10.2" text-anchor="middle" fill="#262626" font-family="Liberation Sans, sans-serif">2</text>
<path d="M393.22 546.8 V542.8" stroke="#747474" stroke-width="1"/>
<text x="393.22" y="559.9" font-size="10.2" text-anchor="middle" fill="#262626" font-family="Liberation Sans, sans-serif">3</text>
<path d="M411.78 546.8 V542.8" stroke="#747474" stroke-width="1"/>
<text x="411.78" y="559.9" font-size="10.2" text-anchor="middle" fill="#262626" font-family="Liberation Sans, sans-serif">4</text>
<path d="M430.34 546.8 V542.8" stroke="#747474" stroke-width="1"/>
<text x="430.34" y="559.9" font-size="10.2" text-anchor="middle" fill="#262626" font-family="Liberation Sans, sans-serif">5</text>
<text x="342.18" y="573.9" font-size="11.2" text-anchor="middle" fill="#262626" font-family="Liberation Sans, sans-serif">Time (s)</text>
<text transform="translate(248.3,435.4) rotate(-90)" font-size="11.55" text-anchor="middle" fill="#262626" font-family="Liberation Sans, sans-serif">Trials (re-ordered)</text>
<path fill="#6e6e6e" d="M294.4 327.55h2v2.6h-2zM308.8 330.1h2v2.6h-2zM427.6 330.1h2v2.6h-2zM256.6 332.65h2v2.6h-2zM258.4 332.65h2v2.6h-2zM277.3 332.65h2v2.6h-2zM289.9 337.75h2v2.6h-2zM334 337.75h2v2.6h-2zM316 342.85h2v2.6h-2zM418.6 342.85h2v2.6h-2zM277.3 345.4h2v2.6h-2zM395.2 345.4h2v2.6h-2zM407.8 345.4h2v2.6h-2zM411.4 345.4h2v2.6h-2zM277.3 347.95h2v2.6h-2zM299.8 347.95h2v2.6h-2zM354.7 347.95h2v2.6h-2zM428.5 347.95h2v2.6h-2zM287.2 350.5h2v2.6h-2zM289.9 350.5h2v2.6h-2zM415.9 353.05h2v2.6h-2zM280.9 355.6h2v2.6h-2zM262 358.15h2v2.6h-2zM347.5 358.15h2v2.6h-2zM348.4 360.7h2v2.6h-2zM277.3 363.25h2v2.6h-2zM297.1 363.25h2v2.6h-2zM294.4 365.8h2v2.6h-2zM300.7 365.8h2v2.6h-2zM388 365.8h2v2.6h-2zM254.8 368.35h2v2.6h-2zM307.9 368.35h2v2.6h-2zM316 370.9h2v2.6h-2zM361 370.9h2v2.6h-2zM412.3 370.9h2v2.6h-2zM346.6 373.45h2v2.6h-2zM347.5 376h2v2.6h-2zM348.4 376h2v2.6h-2zM292.6 378.55h2v2.6h-2zM350.2 378.55h2v2.6h-2zM362.8 378.55h2v2.6h-2zM395.2 378.55h2v2.6h-2zM414.1 378.55h2v2.6h-2zM421.3 378.55h2v2.6h-2zM289 381.1h2v2.6h-2zM382.6 381.1h2v2.6h-2zM398.8 381.1h2v2.6h-2zM406.9 381.1h2v2.6h-2zM275.5 383.65h2v2.6h-2zM377.2 386.2h2v2.6h-2zM255.7 388.75h2v2.6h-2zM335.8 388.75h2v2.6h-2zM356.5 391.3h2v2.6h-2zM255.7 393.85h2v2.6h-2zM273.7 393.85h2v2.6h-2zM293.5 393.85h2v2.6h-2zM308.8 398.95h2v2.6h-2zM387.1 398.95h2v2.6h-2zM271.9 401.5h2v2.6h-2zM290.8 401.5h2v2.6h-2zM300.7 401.5h2v2.6h-2zM304.3 401.5h2v2.6h-2zM284.5 404.05h2v2.6h-2zM355.6 404.05h2v2.6h-2zM370.9 404.05h2v2.6h-2zM304.3 406.6h2v2.6h-2zM298.9 409.15h2v2.6h-2zM320.5 409.15h2v2.6h-2zM333.1 409.15h2v2.6h-2zM378.1 411.7h2v2.6h-2zM305.2 419.35h2v2.6h-2zM379 419.35h2v2.6h-2zM411.4 419.35h2v2.6h-2zM421.3 419.35h2v2.6h-2zM423.1 419.35h2v2.6h-2zM317.8 421.9h2v2.6h-2zM360.1 421.9h2v2.6h-2zM424.9 424.45h2v2.6h-2zM259.3 427h2v2.6h-2zM316.9 427h2v2.6h-2zM371.8 427h2v2.6h-2zM430.3 427h2v2.6h-2zM357.4 429.55h2v2.6h-2zM379 429.55h2v2.6h-2zM258.4 432.1h2v2.6h-2zM323.2 432.1h2v2.6h-2z"/>
<path fill="#0000ff" d="M288.1 436.05h2v2.6h-2zM326.8 436.05h2v2.6h-2zM374.5 438.6h2v2.6h-2zM414.1 438.6h2v2.6h-2zM260.2 441.15h2v2.6h-2zM279.1 441.15h2v2.6h-2zM334.9 441.15h2v2.6h-2zM374.5 441.15h2v2.6h-2zM378.1 441.15h2v2.6h-2zM406.9 443.7h2v2.6h-2zM302.5 446.25h2v2.6h-2zM317.8 446.25h2v2.6h-2zM318.7 446.25h2v2.6h-2zM297.1 448.8h2v2.6h-2zM329.5 448.8h2v2.6h-2zM408.7 448.8h2v2.6h-2zM312.4 451.35h2v2.6h-2zM340.3 451.35h2v2.6h-2zM327.7 453.9h2v2.6h-2zM373.6 453.9h2v2.6h-2zM379.9 453.9h2v2.6h-2zM388 453.9h2v2.6h-2zM397.9 453.9h2v2.6h-2zM424 453.9h2v2.6h-2zM319.6 456.45h2v2.6h-2zM331.3 456.45h2v2.6h-2zM280 459h2v2.6h-2zM289 459h2v2.6h-2zM293.5 459h2v2.6h-2zM409.6 459h2v2.6h-2zM423.1 459h2v2.6h-2zM269.2 461.55h2v2.6h-2zM306.1 461.55h2v2.6h-2zM319.6 461.55h2v2.6h-2zM300.7 464.1h2v2.6h-2zM343.9 464.1h2v2.6h-2zM396.1 464.1h2v2.6h-2zM400.6 464.1h2v2.6h-2zM321.4 466.65h2v2.6h-2zM354.7 466.65h2v2.6h-2zM362.8 466.65h2v2.6h-2zM398.8 466.65h2v2.6h-2zM420.4 466.65h2v2.6h-2zM254.8 469.2h2v2.6h-2zM318.7 469.2h2v2.6h-2zM351.1 469.2h2v2.6h-2zM330.4 471.75h2v2.6h-2zM347.5 471.75h2v2.6h-2zM393.4 471.75h2v2.6h-2zM394.3 471.75h2v2.6h-2zM254.8 474.3h2v2.6h-2zM397.9 474.3h2v2.6h-2zM287.2 476.85h2v2.6h-2zM262.9 479.4h2v2.6h-2zM273.7 479.4h2v2.6h-2zM275.5 479.4h2v2.6h-2zM334 479.4h2v2.6h-2zM404.2 479.4h2v2.6h-2zM409.6 481.95h2v2.6h-2z"/>
<path fill="#ff0000" d="M272.8 485.5h2v2.6h-2zM278.2 485.5h2v2.6h-2zM310.6 485.5h2v2.6h-2zM323.2 485.5h2v2.6h-2zM326.8 485.5h2v2.6h-2zM342.1 485.5h2v2.6h-2zM259.3 488.05h2v2.6h-2zM270.1 488.05h2v2.6h-2zM325.9 488.05h2v2.6h-2zM335.8 488.05h2v2.6h-2zM336.7 488.05h2v2.6h-2zM381.7 488.05h2v2.6h-2zM403.3 488.05h2v2.6h-2zM256.6 490.6h2v2.6h-2zM280.9 490.6h2v2.6h-2zM283.6 490.6h2v2.6h-2zM286.3 490.6h2v2.6h-2zM316.9 490.6h2v2.6h-2zM319.6 490.6h2v2.6h-2zM326.8 490.6h2v2.6h-2zM340.3 490.6h2v2.6h-2zM391.6 490.6h2v2.6h-2zM393.4 490.6h2v2.6h-2zM422.2 490.6h2v2.6h-2zM337.6 493.15h2v2.6h-2zM381.7 493.15h2v2.6h-2zM395.2 493.15h2v2.6h-2zM405.1 493.15h2v2.6h-2zM413.2 493.15h2v2.6h-2zM418.6 493.15h2v2.6h-2zM258.4 495.7h2v2.6h-2zM325 495.7h2v2.6h-2zM336.7 495.7h2v2.6h-2zM363.7 495.7h2v2.6h-2zM367.3 495.7h2v2.6h-2zM317.8 498.25h2v2.6h-2zM321.4 498.25h2v2.6h-2zM340.3 498.25h2v2.6h-2zM381.7 498.25h2v2.6h-2zM269.2 500.8h2v2.6h-2zM327.7 500.8h2v2.6h-2zM333.1 500.8h2v2.6h-2zM417.7 500.8h2v2.6h-2zM257.5 503.35h2v2.6h-2zM270.1 503.35h2v2.6h-2zM277.3 503.35h2v2.6h-2zM295.3 503.35h2v2.6h-2zM330.4 503.35h2v2.6h-2zM361 503.35h2v2.6h-2zM363.7 503.35h2v2.6h-2zM406 503.35h2v2.6h-2zM430.3 503.35h2v2.6h-2zM271.9 505.9h2v2.6h-2zM343.9 505.9h2v2.6h-2zM349.3 505.9h2v2.6h-2zM424 505.9h2v2.6h-2zM310.6 508.45h2v2.6h-2zM429.4 508.45h2v2.6h-2zM262.9 511h2v2.6h-2zM284.5 511h2v2.6h-2zM314.2 511h2v2.6h-2zM336.7 511h2v2.6h-2zM385.3 511h2v2.6h-2zM323.2 513.55h2v2.6h-2zM339.4 513.55h2v2.6h-2zM347.5 513.55h2v2.6h-2zM406.9 513.55h2v2.6h-2zM316 516.1h2v2.6h-2zM342.1 516.1h2v2.6h-2zM426.7 516.1h2v2.6h-2zM279.1 518.65h2v2.6h-2zM307.9 518.65h2v2.6h-2zM387.1 518.65h2v2.6h-2zM281.8 521.2h2v2.6h-2zM316 521.2h2v2.6h-2zM325 521.2h2v2.6h-2zM413.2 521.2h2v2.6h-2zM273.7 523.75h2v2.6h-2zM324.1 523.75h2v2.6h-2zM332.2 523.75h2v2.6h-2zM385.3 523.75h2v2.6h-2zM260.2 526.3h2v2.6h-2zM279.1 526.3h2v2.6h-2zM312.4 526.3h2v2.6h-2zM320.5 526.3h2v2.6h-2zM385.3 526.3h2v2.6h-2zM420.4 526.3h2v2.6h-2zM424 526.3h2v2.6h-2zM301.6 528.85h2v2.6h-2zM347.5 528.85h2v2.6h-2zM367.3 528.85h2v2.6h-2zM384.4 528.85h2v2.6h-2zM391.6 528.85h2v2.6h-2zM403.3 528.85h2v2.6h-2zM425.8 528.85h2v2.6h-2zM266.5 531.4h2v2.6h-2zM300.7 531.4h2v2.6h-2zM312.4 531.4h2v2.6h-2zM319.6 531.4h2v2.6h-2zM331.3 531.4h2v2.6h-2zM334.9 531.4h2v2.6h-2zM342.1 531.4h2v2.6h-2zM375.4 531.4h2v2.6h-2zM403.3 531.4h2v2.6h-2zM409.6 531.4h2v2.6h-2zM418.6 531.4h2v2.6h-2zM269.2 533.95h2v2.6h-2zM307 533.95h2v2.6h-2zM390.7 533.95h2v2.6h-2zM263.8 536.5h2v2.6h-2zM276.4 536.5h2v2.6h-2zM319.6 536.5h2v2.6h-2zM344.8 536.5h2v2.6h-2zM402.4 536.5h2v2.6h-2zM260.2 539.05h2v2.6h-2zM273.7 539.05h2v2.6h-2zM284.5 539.05h2v2.6h-2zM310.6 539.05h2v2.6h-2zM385.3 539.05h2v2.6h-2zM406.9 539.05h2v2.6h-2zM333.1 541.6h2v2.6h-2zM334.9 541.6h2v2.6h-2z"/>
<path d="M497.5 320.2 V546.8 H673.07" fill="none" stroke="#747474" stroke-width="1"/>
<path d="M507.2 320.2 V546.8" stroke="#a0a0a0" stroke-width="1"/>
<path d="M497.5 326.3 H501.3" stroke="#747474" stroke-width="1"/>
<path d="M497.5 471.7 H501.3" stroke="#747474" stroke-width="1"/>
<path d="M507.2 546.8 V542.8" stroke="#747474" stroke-width="1"/>
<text x="507.2" y="559.9" font-size="10.2" text-anchor="middle" fill="#262626" font-family="Liberation Sans, sans-serif">−4</text>
<path d="M525.63 546.8 V542.8" stroke="#747474" stroke-width="1"/>
<text x="525.63" y="559.9" font-size="10.2" text-anchor="middle" fill="#262626" font-family="Liberation Sans, sans-serif">−3</text>
<path d="M544.06 546.8 V542.8" stroke="#747474" stroke-width="1"/>
<text x="544.06" y="559.9" font-size="10.2" text-anchor="middle" fill="#262626" font-family="Liberation Sans, sans-serif">−2</text>
<path d="M562.49 546.8 V542.8" stroke="#747474" stroke-width="1"/>
<text x="562.49" y="559.9" font-size="10.2" text-anchor="middle" fill="#262626" font-family="Liberation Sans, sans-serif">−1</text>
<path d="M580.92 546.8 V542.8" stroke="#747474" stroke-width="1"/>
<text x="580.92" y="559.9" font-size="10.2" text-anchor="middle" fill="#262626" font-family="Liberation Sans, sans-serif">0</text>
<path d="M599.35 546.8 V542.8" stroke="#747474" stroke-width="1"/>
<text x="599.35" y="559.9" font-size="10.2" text-anchor="middle" fill="#262626" font-family="Liberation Sans, sans-serif">1</text>
<path d="M617.78 546.8 V542.8" stroke="#747474" stroke-width="1"/>
<text x="617.78" y="559.9" font-size="10.2" text-anchor="middle" fill="#262626" font-family="Liberation Sans, sans-serif">2</text>
<path d="M636.21 546.8 V542.8" stroke="#747474" stroke-width="1"/>
<text x="636.21" y="559.9" font-size="10.2" text-anchor="middle" fill="#262626" font-family="Liberation Sans, sans-serif">3</text>
<path d="M654.64 546.8 V542.8" stroke="#747474" stroke-width="1"/>
<text x="654.64" y="559.9" font-size="10.2" text-anchor="middle" fill="#262626" font-family="Liberation Sans, sans-serif">4</text>
<path d="M673.07 546.8 V542.8" stroke="#747474" stroke-width="1"/>
<text x="673.07" y="559.9" font-size="10.2" text-anchor="middle" fill="#262626" font-family="Liberation Sans, sans-serif">5</text>
<text x="585.53" y="573.9" font-size="11.2" text-anchor="middle" fill="#262626" font-family="Liberation Sans, sans-serif">Time (s)</text>
<text transform="translate(491.6,432.5) rotate(-90)" font-size="11.55" text-anchor="middle" fill="#262626" font-family="Liberation Sans, sans-serif">Trials (re-ordered)</text>
<path fill="#6e6e6e" d="M501.9 321.5h1.9v3.5h-1.9zM507.3 321.5h1.9v3.5h-1.9zM509.1 321.5h1.9v3.5h-1.9zM541.5 321.5h1.9v3.5h-1.9zM553.2 321.5h1.9v3.5h-1.9zM554.1 321.5h1.9v3.5h-1.9zM575.7 321.5h1.9v3.5h-1.9zM582 321.5h5.7v3.5h-5.7zM607.4 321.5h1.9v3.5h-1.9zM608.3 321.5h1.9v3.5h-1.9zM613.7 321.5h1.9v3.5h-1.9zM617.3 321.5h1.9v3.5h-1.9zM643.4 321.5h1.9v3.5h-1.9zM644.3 321.5h1.9v3.5h-1.9zM671.3 321.5h3.8v3.5h-3.8zM510.9 324.05h1.9v3.5h-1.9zM513.6 324.05h1.9v3.5h-1.9zM549.6 324.05h5.7v3.5h-5.7zM591.2 324.05h1.9v3.5h-1.9zM593.9 324.05h1.9v3.5h-1.9zM594.8 324.05h1.9v3.5h-1.9zM598.4 324.05h1.9v3.5h-1.9zM625.4 324.05h1.9v3.5h-1.9zM659.6 324.05h1.9v3.5h-1.9zM663.2 324.05h1.9v3.5h-1.9zM554.1 326.6h1.9v3.5h-1.9zM596.4 326.6h1.9v3.5h-1.9zM598.2 326.6h1.9v3.5h-1.9zM626.1 326.6h1.9v3.5h-1.9zM638.7 326.6h1.9v3.5h-1.9zM642.3 326.6h1.9v3.5h-1.9zM658.5 326.6h1.9v3.5h-1.9zM662.1 326.6h3.8v3.5h-3.8zM670.3 326.6h1.9v3.5h-1.9zM502.8 329.15h3.8v3.5h-3.8zM557.8 329.15h1.9v3.5h-1.9zM605.5 329.15h1.9v3.5h-1.9zM644.2 329.15h1.9v3.5h-1.9zM511.8 331.7h1.9v3.5h-1.9zM537 334.25h1.9v3.5h-1.9zM558.6 334.25h1.9v3.5h-1.9zM582.9 334.25h1.9v3.5h-1.9zM594.6 334.25h1.9v3.5h-1.9zM629.7 334.25h1.9v3.5h-1.9zM515.4 336.8h3.8v3.5h-3.8zM578.5 336.8h3.8v3.5h-3.8zM616.4 336.8h1.9v3.5h-1.9zM534.3 339.35h1.9v3.5h-1.9zM631.5 339.35h1.9v3.5h-1.9zM647.7 339.35h1.9v3.5h-1.9zM664.8 339.35h1.9v3.5h-1.9zM498.3 341.9h1.9v3.5h-1.9zM586.5 341.9h1.9v3.5h-1.9zM596.4 341.9h1.9v3.5h-1.9zM600 341.9h3.8v3.5h-3.8zM610 341.9h1.9v3.5h-1.9zM632.5 341.9h1.9v3.5h-1.9zM508.2 344.45h5.7v3.5h-5.7zM530.9 344.45h3.8v3.5h-3.8zM543.6 344.45h1.9v3.5h-1.9zM545.4 344.45h1.9v3.5h-1.9zM566.1 344.45h5.7v3.5h-5.7zM587.9 344.45h1.9v3.5h-1.9zM596 344.45h1.9v3.5h-1.9zM596.9 344.45h1.9v3.5h-1.9zM605.9 344.45h1.9v3.5h-1.9zM625.7 344.45h1.9v3.5h-1.9zM634.7 344.45h1.9v3.5h-1.9zM671.6 344.45h1.9v3.5h-1.9zM500.1 347h1.9v3.5h-1.9zM536.1 347h1.9v3.5h-1.9zM549.6 347h1.9v3.5h-1.9zM559.5 347h1.9v3.5h-1.9zM564 347h5.7v3.5h-5.7zM587.6 347h1.9v3.5h-1.9zM615.5 347h1.9v3.5h-1.9zM644.3 347h1.9v3.5h-1.9zM653.3 347h1.9v3.5h-1.9zM656.9 347h1.9v3.5h-1.9zM662.3 347h1.9v3.5h-1.9zM667.7 347h1.9v3.5h-1.9zM526.2 349.55h1.9v3.5h-1.9zM528.9 349.55h1.9v3.5h-1.9zM541.5 349.55h1.9v3.5h-1.9zM569.4 349.55h3.8v3.5h-3.8zM576.7 349.55h1.9v3.5h-1.9zM578.5 349.55h1.9v3.5h-1.9zM608.2 349.55h1.9v3.5h-1.9zM623.5 349.55h1.9v3.5h-1.9zM624.4 349.55h3.8v3.5h-3.8zM645.2 349.55h1.9v3.5h-1.9zM531.6 352.1h1.9v3.5h-1.9zM549.6 352.1h1.9v3.5h-1.9zM564 352.1h1.9v3.5h-1.9zM572.1 352.1h1.9v3.5h-1.9zM576.6 352.1h1.9v3.5h-1.9zM582 352.1h3.8v3.5h-3.8zM616.3 352.1h1.9v3.5h-1.9zM621.7 352.1h1.9v3.5h-1.9zM629.8 352.1h1.9v3.5h-1.9zM651.4 352.1h1.9v3.5h-1.9zM662.2 352.1h1.9v3.5h-1.9zM665.8 352.1h1.9v3.5h-1.9zM649.5 354.65h5.7v3.5h-5.7zM656 354.65h1.9v3.5h-1.9zM522.6 357.2h1.9v3.5h-1.9zM537.9 357.2h1.9v3.5h-1.9zM558.6 357.2h1.9v3.5h-1.9zM593.7 357.2h1.9v3.5h-1.9zM661.2 357.2h3.8v3.5h-3.8zM527.1 359.75h3.8v3.5h-3.8zM558.7 359.75h1.9v3.5h-1.9zM588.4 359.75h1.9v3.5h-1.9zM613.6 359.75h1.9v3.5h-1.9zM513.6 362.3h1.9v3.5h-1.9zM519.9 362.3h1.9v3.5h-1.9zM524.4 362.3h1.9v3.5h-1.9zM540.6 362.3h5.7v3.5h-5.7zM546.2 362.3h1.9v3.5h-1.9zM548 362.3h1.9v3.5h-1.9zM569.6 362.3h1.9v3.5h-1.9zM571.4 362.3h1.9v3.5h-1.9zM572.3 362.3h1.9v3.5h-1.9zM599.3 362.3h1.9v3.5h-1.9zM604.7 362.3h5.7v3.5h-5.7zM617.5 362.3h1.9v3.5h-1.9zM636.4 362.3h3.8v3.5h-3.8zM661.7 362.3h1.9v3.5h-1.9zM498.3 364.85h1.9v3.5h-1.9zM509.1 364.85h1.9v3.5h-1.9zM512.7 364.85h1.9v3.5h-1.9zM514.5 364.85h5.7v3.5h-5.7zM527.3 364.85h1.9v3.5h-1.9zM539.9 364.85h1.9v3.5h-1.9zM560.6 364.85h1.9v3.5h-1.9zM611 364.85h1.9v3.5h-1.9zM633.5 364.85h1.9v3.5h-1.9zM510 367.4h3.8v3.5h-3.8zM517.3 367.4h1.9v3.5h-1.9zM523.6 367.4h1.9v3.5h-1.9zM532.6 367.4h1.9v3.5h-1.9zM534.4 367.4h1.9v3.5h-1.9zM538 367.4h1.9v3.5h-1.9zM547.9 367.4h1.9v3.5h-1.9zM572.2 367.4h1.9v3.5h-1.9zM575.8 367.4h1.9v3.5h-1.9zM590.2 367.4h1.9v3.5h-1.9zM592 367.4h1.9v3.5h-1.9zM601.9 367.4h3.8v3.5h-3.8zM638 367.4h1.9v3.5h-1.9zM667.7 367.4h1.9v3.5h-1.9zM499.2 369.95h3.8v3.5h-3.8zM508.3 369.95h1.9v3.5h-1.9zM518.2 369.95h1.9v3.5h-1.9zM546.1 369.95h1.9v3.5h-1.9zM555.1 369.95h1.9v3.5h-1.9zM561.4 369.95h1.9v3.5h-1.9zM562.3 369.95h1.9v3.5h-1.9zM563.2 369.95h1.9v3.5h-1.9zM564.1 369.95h1.9v3.5h-1.9zM566.8 369.95h5.7v3.5h-5.7zM583.2 369.95h1.9v3.5h-1.9zM589.5 369.95h1.9v3.5h-1.9zM592.2 369.95h1.9v3.5h-1.9zM603 369.95h1.9v3.5h-1.9zM603.9 369.95h1.9v3.5h-1.9zM655.2 369.95h1.9v3.5h-1.9zM668.7 369.95h1.9v3.5h-1.9zM672.3 369.95h1.9v3.5h-1.9zM509.1 372.5h5.7v3.5h-5.7zM525.5 372.5h1.9v3.5h-1.9zM534.5 372.5h1.9v3.5h-1.9zM538.1 372.5h1.9v3.5h-1.9zM549.8 372.5h3.8v3.5h-3.8zM669.6 372.5h1.9v3.5h-1.9zM514.5 375.05h1.9v3.5h-1.9zM531.6 375.05h1.9v3.5h-1.9zM536.1 375.05h1.9v3.5h-1.9zM568.5 375.05h1.9v3.5h-1.9zM630.6 375.05h1.9v3.5h-1.9zM653.1 375.05h1.9v3.5h-1.9zM523.5 377.6h1.9v3.5h-1.9zM540.6 377.6h1.9v3.5h-1.9zM560.4 377.6h5.7v3.5h-5.7zM596.6 377.6h1.9v3.5h-1.9zM620.9 377.6h1.9v3.5h-1.9zM639.8 377.6h1.9v3.5h-1.9zM651.5 377.6h3.8v3.5h-3.8zM655.2 377.6h5.7v3.5h-5.7zM668 377.6h1.9v3.5h-1.9zM670.7 377.6h1.9v3.5h-1.9zM503.7 380.15h1.9v3.5h-1.9zM519.9 380.15h5.7v3.5h-5.7zM560.6 380.15h1.9v3.5h-1.9zM565.1 380.15h1.9v3.5h-1.9zM612.8 380.15h1.9v3.5h-1.9zM616.4 380.15h1.9v3.5h-1.9zM543.3 382.7h1.9v3.5h-1.9zM565.8 382.7h1.9v3.5h-1.9zM566.7 382.7h1.9v3.5h-1.9zM575.7 382.7h1.9v3.5h-1.9zM650.4 382.7h1.9v3.5h-1.9zM660.3 382.7h1.9v3.5h-1.9zM665.7 382.7h1.9v3.5h-1.9zM573 385.25h1.9v3.5h-1.9zM576.6 385.25h1.9v3.5h-1.9zM583.8 385.25h1.9v3.5h-1.9zM609.9 385.25h1.9v3.5h-1.9zM503.7 387.8h1.9v3.5h-1.9zM510 387.8h1.9v3.5h-1.9zM521.7 387.8h1.9v3.5h-1.9zM572.1 387.8h1.9v3.5h-1.9zM590.1 387.8h1.9v3.5h-1.9zM610.8 387.8h3.8v3.5h-3.8zM620.8 387.8h1.9v3.5h-1.9zM629.8 387.8h1.9v3.5h-1.9zM654.1 387.8h1.9v3.5h-1.9zM516.3 390.35h1.9v3.5h-1.9zM531.6 390.35h1.9v3.5h-1.9zM550.5 390.35h1.9v3.5h-1.9zM582.9 390.35h1.9v3.5h-1.9zM618.9 390.35h1.9v3.5h-1.9zM653.1 390.35h1.9v3.5h-1.9zM499.2 392.9h3.8v3.5h-3.8zM543.4 392.9h1.9v3.5h-1.9zM625.3 392.9h1.9v3.5h-1.9zM561.3 395.45h1.9v3.5h-1.9zM575.7 395.45h1.9v3.5h-1.9zM588.3 395.45h1.9v3.5h-1.9zM593.7 395.45h5.7v3.5h-5.7zM620 395.45h1.9v3.5h-1.9zM624.5 395.45h1.9v3.5h-1.9zM661.4 395.45h1.9v3.5h-1.9zM509.1 398h5.7v3.5h-5.7zM552.5 398h1.9v3.5h-1.9zM602.9 398h5.7v3.5h-5.7zM607.6 398h1.9v3.5h-1.9zM509.1 400.55h1.9v3.5h-1.9zM533.4 400.55h5.7v3.5h-5.7zM571.4 400.55h1.9v3.5h-1.9zM572.3 400.55h1.9v3.5h-1.9zM584.9 400.55h1.9v3.5h-1.9zM608.3 400.55h1.9v3.5h-1.9zM641.6 400.55h1.9v3.5h-1.9zM499.2 403.1h1.9v3.5h-1.9zM512.7 403.1h3.8v3.5h-3.8zM524.5 403.1h1.9v3.5h-1.9zM551.5 403.1h1.9v3.5h-1.9zM601.9 403.1h1.9v3.5h-1.9zM626.2 403.1h1.9v3.5h-1.9zM585.6 405.65h1.9v3.5h-1.9zM597.3 405.65h1.9v3.5h-1.9zM605.4 405.65h1.9v3.5h-1.9zM613.5 405.65h1.9v3.5h-1.9zM639.6 405.65h1.9v3.5h-1.9zM654.9 405.65h1.9v3.5h-1.9zM665.7 405.65h1.9v3.5h-1.9zM531.6 408.2h1.9v3.5h-1.9zM548.7 408.2h1.9v3.5h-1.9zM550.5 408.2h1.9v3.5h-1.9zM583.8 408.2h1.9v3.5h-1.9zM594.6 408.2h1.9v3.5h-1.9zM598.2 408.2h1.9v3.5h-1.9zM627.9 408.2h1.9v3.5h-1.9zM629.7 408.2h1.9v3.5h-1.9zM506.4 410.75h1.9v3.5h-1.9zM507.3 410.75h1.9v3.5h-1.9zM513.6 410.75h1.9v3.5h-1.9zM530.7 410.75h1.9v3.5h-1.9zM540.6 410.75h1.9v3.5h-1.9zM547.8 410.75h1.9v3.5h-1.9zM549.6 410.75h1.9v3.5h-1.9zM551.4 410.75h1.9v3.5h-1.9zM560.4 410.75h1.9v3.5h-1.9zM573.9 410.75h1.9v3.5h-1.9zM585.6 410.75h1.9v3.5h-1.9zM592.8 410.75h1.9v3.5h-1.9zM622.5 410.75h1.9v3.5h-1.9zM640.5 410.75h1.9v3.5h-1.9zM657.6 410.75h1.9v3.5h-1.9zM662.1 410.75h1.9v3.5h-1.9zM562.2 413.3h1.9v3.5h-1.9zM565.8 413.3h1.9v3.5h-1.9zM566.7 413.3h1.9v3.5h-1.9zM570.3 413.3h1.9v3.5h-1.9zM571.2 413.3h5.7v3.5h-5.7zM616.4 413.3h1.9v3.5h-1.9zM663.2 413.3h1.9v3.5h-1.9zM498.3 415.85h1.9v3.5h-1.9zM506.4 415.85h1.9v3.5h-1.9zM555.9 415.85h1.9v3.5h-1.9zM563.1 415.85h3.8v3.5h-3.8zM592.9 415.85h1.9v3.5h-1.9zM597.4 415.85h1.9v3.5h-1.9zM601 415.85h1.9v3.5h-1.9zM628 415.85h1.9v3.5h-1.9zM640.6 415.85h1.9v3.5h-1.9zM660.4 415.85h1.9v3.5h-1.9zM665.8 415.85h1.9v3.5h-1.9zM502.8 418.4h1.9v3.5h-1.9zM517.2 418.4h1.9v3.5h-1.9zM538.8 418.4h3.8v3.5h-3.8zM547 418.4h1.9v3.5h-1.9zM550.6 418.4h1.9v3.5h-1.9zM558.7 418.4h1.9v3.5h-1.9zM559.6 418.4h1.9v3.5h-1.9zM567.7 418.4h1.9v3.5h-1.9zM609.1 418.4h3.8v3.5h-3.8zM629.9 418.4h1.9v3.5h-1.9zM633.5 418.4h3.8v3.5h-3.8zM636.3 418.4h1.9v3.5h-1.9zM646.2 418.4h1.9v3.5h-1.9zM536.1 420.95h1.9v3.5h-1.9zM573.9 420.95h1.9v3.5h-1.9zM603.6 420.95h5.7v3.5h-5.7zM613.7 420.95h1.9v3.5h-1.9zM660.5 420.95h1.9v3.5h-1.9zM520.8 423.5h1.9v3.5h-1.9zM529.8 423.5h1.9v3.5h-1.9zM530.7 423.5h1.9v3.5h-1.9zM535.2 423.5h1.9v3.5h-1.9zM543.3 423.5h1.9v3.5h-1.9zM545.1 423.5h1.9v3.5h-1.9zM560.4 423.5h1.9v3.5h-1.9zM596.4 423.5h1.9v3.5h-1.9zM609 423.5h1.9v3.5h-1.9zM656.7 423.5h1.9v3.5h-1.9zM662.1 423.5h1.9v3.5h-1.9zM506.4 426.05h1.9v3.5h-1.9zM514.5 426.05h1.9v3.5h-1.9zM543.3 426.05h1.9v3.5h-1.9zM554.1 426.05h1.9v3.5h-1.9zM555.9 426.05h1.9v3.5h-1.9zM556.8 426.05h1.9v3.5h-1.9zM567.6 426.05h1.9v3.5h-1.9zM582 426.05h1.9v3.5h-1.9zM598.2 426.05h3.8v3.5h-3.8zM608.2 426.05h1.9v3.5h-1.9zM610.9 426.05h1.9v3.5h-1.9zM627.1 426.05h1.9v3.5h-1.9zM637 426.05h1.9v3.5h-1.9zM660.4 426.05h1.9v3.5h-1.9zM513.6 428.6h1.9v3.5h-1.9zM570.3 428.6h5.7v3.5h-5.7zM580.4 428.6h1.9v3.5h-1.9zM583.1 428.6h1.9v3.5h-1.9zM595.7 428.6h1.9v3.5h-1.9zM641.6 428.6h3.8v3.5h-3.8zM664.2 428.6h1.9v3.5h-1.9zM672.3 428.6h1.9v3.5h-1.9z"/>
<path fill="#0000ff" d="M510.9 431.5h1.9v3.5h-1.9zM514.5 431.5h1.9v3.5h-1.9zM527.1 431.5h1.9v3.5h-1.9zM532.5 431.5h1.9v3.5h-1.9zM536.1 431.5h1.9v3.5h-1.9zM551.4 431.5h1.9v3.5h-1.9zM558.6 431.5h1.9v3.5h-1.9zM565.8 431.5h1.9v3.5h-1.9zM566.7 431.5h1.9v3.5h-1.9zM576.6 431.5h3.8v3.5h-3.8zM581.2 431.5h1.9v3.5h-1.9zM584.8 431.5h1.9v3.5h-1.9zM586.6 431.5h1.9v3.5h-1.9zM591.1 431.5h1.9v3.5h-1.9zM593.8 431.5h1.9v3.5h-1.9zM603.7 431.5h1.9v3.5h-1.9zM611.8 431.5h1.9v3.5h-1.9zM612.7 431.5h1.9v3.5h-1.9zM624.4 431.5h1.9v3.5h-1.9zM632.5 431.5h1.9v3.5h-1.9zM635.2 431.5h1.9v3.5h-1.9zM639.7 431.5h1.9v3.5h-1.9zM644.2 431.5h1.9v3.5h-1.9zM646.9 431.5h3.8v3.5h-3.8zM654.2 431.5h1.9v3.5h-1.9zM660.5 431.5h1.9v3.5h-1.9zM663.2 431.5h1.9v3.5h-1.9zM668.6 431.5h3.8v3.5h-3.8zM518.1 434.05h1.9v3.5h-1.9zM557.7 434.05h1.9v3.5h-1.9zM564 434.05h1.9v3.5h-1.9zM568.5 434.05h1.9v3.5h-1.9zM575.7 434.05h1.9v3.5h-1.9zM576.6 434.05h1.9v3.5h-1.9zM579.3 434.05h1.9v3.5h-1.9zM609 434.05h1.9v3.5h-1.9zM626.1 434.05h1.9v3.5h-1.9zM515.4 436.6h1.9v3.5h-1.9zM516.3 436.6h1.9v3.5h-1.9zM528.9 436.6h1.9v3.5h-1.9zM541.5 436.6h1.9v3.5h-1.9zM546.9 436.6h1.9v3.5h-1.9zM548.7 436.6h1.9v3.5h-1.9zM551.4 436.6h1.9v3.5h-1.9zM559.5 436.6h1.9v3.5h-1.9zM574.8 436.6h1.9v3.5h-1.9zM576.6 436.6h1.9v3.5h-1.9zM583.8 436.6h1.9v3.5h-1.9zM609 436.6h1.9v3.5h-1.9zM610.8 436.6h1.9v3.5h-1.9zM615.3 436.6h1.9v3.5h-1.9zM619.8 436.6h1.9v3.5h-1.9zM628.8 436.6h3.8v3.5h-3.8zM640.6 436.6h1.9v3.5h-1.9zM503.7 439.15h1.9v3.5h-1.9zM527.1 439.15h1.9v3.5h-1.9zM531.6 439.15h1.9v3.5h-1.9zM543.3 439.15h1.9v3.5h-1.9zM551.4 439.15h3.8v3.5h-3.8zM555.1 439.15h1.9v3.5h-1.9zM566.8 439.15h3.8v3.5h-3.8zM582.2 439.15h5.7v3.5h-5.7zM588.7 439.15h3.8v3.5h-3.8zM595.1 439.15h1.9v3.5h-1.9zM613.1 439.15h3.8v3.5h-3.8zM618.6 439.15h1.9v3.5h-1.9zM638.4 439.15h1.9v3.5h-1.9zM653.7 439.15h1.9v3.5h-1.9zM500.1 441.7h5.7v3.5h-5.7zM512.9 441.7h1.9v3.5h-1.9zM521.9 441.7h1.9v3.5h-1.9zM522.8 441.7h1.9v3.5h-1.9zM525.5 441.7h1.9v3.5h-1.9zM530.9 441.7h1.9v3.5h-1.9zM540.8 441.7h1.9v3.5h-1.9zM557 441.7h1.9v3.5h-1.9zM559.7 441.7h1.9v3.5h-1.9zM562.4 441.7h1.9v3.5h-1.9zM572.3 441.7h1.9v3.5h-1.9zM575 441.7h3.8v3.5h-3.8zM578.7 441.7h1.9v3.5h-1.9zM579.6 441.7h1.9v3.5h-1.9zM589.5 441.7h1.9v3.5h-1.9zM606.6 441.7h5.7v3.5h-5.7zM612.2 441.7h1.9v3.5h-1.9zM619.4 441.7h3.8v3.5h-3.8zM624.9 441.7h5.7v3.5h-5.7zM646.7 441.7h1.9v3.5h-1.9zM653 441.7h1.9v3.5h-1.9zM653.9 441.7h1.9v3.5h-1.9zM659.3 441.7h1.9v3.5h-1.9zM662 441.7h1.9v3.5h-1.9zM672.8 441.7h1.9v3.5h-1.9zM510 444.25h1.9v3.5h-1.9zM522.6 444.25h1.9v3.5h-1.9zM540.6 444.25h3.8v3.5h-3.8zM560.5 444.25h1.9v3.5h-1.9zM567.7 444.25h1.9v3.5h-1.9zM575.8 444.25h1.9v3.5h-1.9zM579.4 444.25h1.9v3.5h-1.9zM589.3 444.25h1.9v3.5h-1.9zM603.7 444.25h1.9v3.5h-1.9zM633.4 444.25h1.9v3.5h-1.9zM648.7 444.25h1.9v3.5h-1.9zM665.8 444.25h1.9v3.5h-1.9zM519 446.8h3.8v3.5h-3.8zM525.4 446.8h5.7v3.5h-5.7zM549 446.8h1.9v3.5h-1.9zM556.2 446.8h3.8v3.5h-3.8zM563.5 446.8h1.9v3.5h-1.9zM567.1 446.8h3.8v3.5h-3.8zM578.9 446.8h1.9v3.5h-1.9zM586.1 446.8h1.9v3.5h-1.9zM592.4 446.8h1.9v3.5h-1.9zM601.4 446.8h3.8v3.5h-3.8zM618.6 446.8h1.9v3.5h-1.9zM630.3 446.8h1.9v3.5h-1.9zM634.8 446.8h1.9v3.5h-1.9zM662.7 446.8h1.9v3.5h-1.9zM507.3 449.35h1.9v3.5h-1.9zM522.6 449.35h1.9v3.5h-1.9zM528 449.35h1.9v3.5h-1.9zM534.3 449.35h1.9v3.5h-1.9zM546.9 449.35h1.9v3.5h-1.9zM593.7 449.35h1.9v3.5h-1.9zM597.3 449.35h1.9v3.5h-1.9zM629.7 449.35h1.9v3.5h-1.9zM634.2 449.35h1.9v3.5h-1.9zM639.6 449.35h1.9v3.5h-1.9zM667.5 449.35h5.7v3.5h-5.7zM673.1 449.35h1.9v3.5h-1.9zM498.3 451.9h1.9v3.5h-1.9zM510.9 451.9h1.9v3.5h-1.9zM516.3 451.9h1.9v3.5h-1.9zM528 451.9h1.9v3.5h-1.9zM555.9 451.9h1.9v3.5h-1.9zM562.2 451.9h1.9v3.5h-1.9zM607.2 451.9h3.8v3.5h-3.8zM618.1 451.9h1.9v3.5h-1.9zM619.9 451.9h1.9v3.5h-1.9zM626.2 451.9h1.9v3.5h-1.9zM652.3 451.9h3.8v3.5h-3.8zM665 451.9h1.9v3.5h-1.9zM670.4 451.9h1.9v3.5h-1.9zM671.3 451.9h1.9v3.5h-1.9zM515.4 454.45h1.9v3.5h-1.9zM518.1 454.45h1.9v3.5h-1.9zM521.7 454.45h1.9v3.5h-1.9zM550.5 454.45h1.9v3.5h-1.9zM558.6 454.45h5.7v3.5h-5.7zM581.3 454.45h1.9v3.5h-1.9zM593.9 454.45h1.9v3.5h-1.9zM611 454.45h3.8v3.5h-3.8zM613.8 454.45h1.9v3.5h-1.9zM621 454.45h1.9v3.5h-1.9zM621.9 454.45h3.8v3.5h-3.8zM637.3 454.45h1.9v3.5h-1.9zM641.8 454.45h5.7v3.5h-5.7zM647.4 454.45h1.9v3.5h-1.9zM650.1 454.45h1.9v3.5h-1.9zM656.4 454.45h1.9v3.5h-1.9zM659.1 454.45h1.9v3.5h-1.9zM671.7 454.45h1.9v3.5h-1.9zM501 457h1.9v3.5h-1.9zM501.9 457h1.9v3.5h-1.9zM524.4 457h1.9v3.5h-1.9zM539.7 457h1.9v3.5h-1.9zM550.5 457h1.9v3.5h-1.9zM563.1 457h1.9v3.5h-1.9zM569.4 457h3.8v3.5h-3.8zM575.8 457h1.9v3.5h-1.9zM576.7 457h1.9v3.5h-1.9zM580.3 457h3.8v3.5h-3.8zM587.6 457h1.9v3.5h-1.9zM592.1 457h1.9v3.5h-1.9zM601.1 457h1.9v3.5h-1.9zM604.7 457h1.9v3.5h-1.9zM609.2 457h1.9v3.5h-1.9zM612.8 457h1.9v3.5h-1.9zM614.6 457h1.9v3.5h-1.9zM616.4 457h1.9v3.5h-1.9zM620 457h1.9v3.5h-1.9zM639.8 457h1.9v3.5h-1.9zM642.5 457h1.9v3.5h-1.9zM647.9 457h3.8v3.5h-3.8zM659.7 457h1.9v3.5h-1.9zM666 457h1.9v3.5h-1.9zM668.7 457h1.9v3.5h-1.9zM501.9 459.55h1.9v3.5h-1.9zM530.7 459.55h1.9v3.5h-1.9zM534.3 459.55h5.7v3.5h-5.7zM562.4 459.55h1.9v3.5h-1.9zM568.7 459.55h3.8v3.5h-3.8zM599.4 459.55h1.9v3.5h-1.9zM600.3 459.55h1.9v3.5h-1.9zM605.7 459.55h1.9v3.5h-1.9zM608.4 459.55h1.9v3.5h-1.9zM611.1 459.55h1.9v3.5h-1.9zM612.9 459.55h1.9v3.5h-1.9zM614.7 459.55h1.9v3.5h-1.9zM620.1 459.55h1.9v3.5h-1.9zM626.4 459.55h1.9v3.5h-1.9zM628.2 459.55h1.9v3.5h-1.9zM632.7 459.55h1.9v3.5h-1.9zM633.6 459.55h3.8v3.5h-3.8zM640 459.55h1.9v3.5h-1.9zM647.2 459.55h1.9v3.5h-1.9zM669.7 459.55h1.9v3.5h-1.9zM499.2 462.1h1.9v3.5h-1.9zM507.3 462.1h3.8v3.5h-3.8zM517.3 462.1h1.9v3.5h-1.9zM520.9 462.1h1.9v3.5h-1.9zM524.5 462.1h1.9v3.5h-1.9zM529.9 462.1h1.9v3.5h-1.9zM543.4 462.1h3.8v3.5h-3.8zM550.7 462.1h1.9v3.5h-1.9zM557.9 462.1h3.8v3.5h-3.8zM571.5 462.1h1.9v3.5h-1.9zM602.1 462.1h1.9v3.5h-1.9zM612.9 462.1h1.9v3.5h-1.9zM630 462.1h1.9v3.5h-1.9zM635.4 462.1h3.8v3.5h-3.8zM640 462.1h1.9v3.5h-1.9zM641.8 462.1h5.7v3.5h-5.7zM646.5 462.1h1.9v3.5h-1.9zM648.3 462.1h1.9v3.5h-1.9zM653.7 462.1h1.9v3.5h-1.9zM524.4 464.65h1.9v3.5h-1.9zM527.1 464.65h1.9v3.5h-1.9zM529.8 464.65h1.9v3.5h-1.9zM539.7 464.65h1.9v3.5h-1.9zM541.5 464.65h1.9v3.5h-1.9zM543.3 464.65h1.9v3.5h-1.9zM544.2 464.65h1.9v3.5h-1.9zM553.2 464.65h1.9v3.5h-1.9zM565.8 464.65h1.9v3.5h-1.9zM589.2 464.65h1.9v3.5h-1.9zM591 464.65h1.9v3.5h-1.9zM593.7 464.65h1.9v3.5h-1.9zM609.9 464.65h1.9v3.5h-1.9zM616.2 464.65h1.9v3.5h-1.9zM621.6 464.65h1.9v3.5h-1.9zM625.2 464.65h1.9v3.5h-1.9zM643.2 464.65h1.9v3.5h-1.9zM657.6 464.65h1.9v3.5h-1.9zM499.2 467.2h1.9v3.5h-1.9zM508.2 467.2h1.9v3.5h-1.9zM519 467.2h5.7v3.5h-5.7zM540.8 467.2h1.9v3.5h-1.9zM549.8 467.2h3.8v3.5h-3.8zM555.3 467.2h1.9v3.5h-1.9zM562.5 467.2h1.9v3.5h-1.9zM563.4 467.2h1.9v3.5h-1.9zM564.3 467.2h5.7v3.5h-5.7zM573.5 467.2h1.9v3.5h-1.9zM580.7 467.2h1.9v3.5h-1.9zM585.2 467.2h1.9v3.5h-1.9zM587.9 467.2h1.9v3.5h-1.9zM588.8 467.2h5.7v3.5h-5.7zM598 467.2h1.9v3.5h-1.9zM609.7 467.2h1.9v3.5h-1.9zM625.9 467.2h1.9v3.5h-1.9zM629.5 467.2h1.9v3.5h-1.9zM633.1 467.2h1.9v3.5h-1.9zM638.5 467.2h1.9v3.5h-1.9zM641.2 467.2h1.9v3.5h-1.9zM663.7 467.2h5.7v3.5h-5.7zM503.7 469.75h3.8v3.5h-3.8zM515.5 469.75h1.9v3.5h-1.9zM522.7 469.75h1.9v3.5h-1.9zM543.4 469.75h1.9v3.5h-1.9zM547.9 469.75h5.7v3.5h-5.7zM555.3 469.75h1.9v3.5h-1.9zM569.7 469.75h1.9v3.5h-1.9zM603.9 469.75h1.9v3.5h-1.9zM604.8 469.75h1.9v3.5h-1.9zM606.6 469.75h1.9v3.5h-1.9zM612 469.75h1.9v3.5h-1.9zM615.6 469.75h1.9v3.5h-1.9zM617.4 469.75h1.9v3.5h-1.9zM622.8 469.75h1.9v3.5h-1.9zM629.1 469.75h3.8v3.5h-3.8zM634.6 469.75h1.9v3.5h-1.9zM639.1 469.75h1.9v3.5h-1.9zM640.9 469.75h1.9v3.5h-1.9zM641.8 469.75h1.9v3.5h-1.9zM663.4 469.75h1.9v3.5h-1.9zM524.4 472.3h1.9v3.5h-1.9zM533.4 472.3h1.9v3.5h-1.9zM564 472.3h1.9v3.5h-1.9zM606.3 472.3h1.9v3.5h-1.9zM617.1 472.3h3.8v3.5h-3.8zM516.3 474.85h5.7v3.5h-5.7zM521 474.85h5.7v3.5h-5.7zM525.7 474.85h1.9v3.5h-1.9zM534.7 474.85h5.7v3.5h-5.7zM547.5 474.85h1.9v3.5h-1.9zM555.6 474.85h1.9v3.5h-1.9zM561.9 474.85h1.9v3.5h-1.9zM586.2 474.85h5.7v3.5h-5.7zM595.4 474.85h1.9v3.5h-1.9zM608.9 474.85h1.9v3.5h-1.9zM617 474.85h1.9v3.5h-1.9zM619.7 474.85h1.9v3.5h-1.9zM624.2 474.85h1.9v3.5h-1.9zM626 474.85h1.9v3.5h-1.9zM649.4 474.85h1.9v3.5h-1.9zM654.8 474.85h1.9v3.5h-1.9zM658.4 474.85h1.9v3.5h-1.9zM672.8 474.85h3.8v3.5h-3.8zM533.4 477.4h1.9v3.5h-1.9zM539.7 477.4h3.8v3.5h-3.8zM543.4 477.4h1.9v3.5h-1.9zM637.9 477.4h1.9v3.5h-1.9zM654.1 477.4h1.9v3.5h-1.9zM529.8 479.95h1.9v3.5h-1.9zM534.3 479.95h1.9v3.5h-1.9zM543.3 479.95h1.9v3.5h-1.9zM561.3 479.95h1.9v3.5h-1.9zM586.5 479.95h1.9v3.5h-1.9zM589.2 479.95h3.8v3.5h-3.8zM607.3 479.95h1.9v3.5h-1.9zM628 479.95h1.9v3.5h-1.9zM631.6 479.95h1.9v3.5h-1.9zM575.7 482.5h1.9v3.5h-1.9zM591.9 482.5h1.9v3.5h-1.9zM621.6 482.5h1.9v3.5h-1.9zM643.2 482.5h1.9v3.5h-1.9zM669.3 482.5h1.9v3.5h-1.9zM528.9 485.05h1.9v3.5h-1.9zM566.7 485.05h1.9v3.5h-1.9zM585.6 485.05h1.9v3.5h-1.9zM587.4 485.05h1.9v3.5h-1.9zM591 485.05h1.9v3.5h-1.9zM609 485.05h1.9v3.5h-1.9zM624.3 485.05h5.7v3.5h-5.7zM654.2 485.05h1.9v3.5h-1.9zM673.1 485.05h1.9v3.5h-1.9z"/>
<path fill="#ff0000" d="M505.5 486.5h1.9v3.5h-1.9zM507.3 486.5h1.9v3.5h-1.9zM527.1 486.5h1.9v3.5h-1.9zM544.2 486.5h3.8v3.5h-3.8zM562.3 486.5h1.9v3.5h-1.9zM567.7 486.5h3.8v3.5h-3.8zM571.4 486.5h5.7v3.5h-5.7zM577.9 486.5h1.9v3.5h-1.9zM584.2 486.5h3.8v3.5h-3.8zM589.7 486.5h1.9v3.5h-1.9zM603.2 486.5h1.9v3.5h-1.9zM605.9 486.5h1.9v3.5h-1.9zM612.2 486.5h1.9v3.5h-1.9zM622.1 486.5h1.9v3.5h-1.9zM626.6 486.5h3.8v3.5h-3.8zM639.3 486.5h1.9v3.5h-1.9zM644.7 486.5h3.8v3.5h-3.8zM648.4 486.5h1.9v3.5h-1.9zM652.9 486.5h1.9v3.5h-1.9zM653.8 486.5h1.9v3.5h-1.9zM657.4 486.5h1.9v3.5h-1.9zM670 486.5h1.9v3.5h-1.9zM525.3 489.05h1.9v3.5h-1.9zM531.6 491.6h1.9v3.5h-1.9zM535.2 491.6h1.9v3.5h-1.9zM573 491.6h1.9v3.5h-1.9zM575.7 491.6h1.9v3.5h-1.9zM579.3 491.6h1.9v3.5h-1.9zM596.4 491.6h1.9v3.5h-1.9zM617.1 491.6h1.9v3.5h-1.9zM636.9 491.6h1.9v3.5h-1.9zM648.6 491.6h1.9v3.5h-1.9zM650.4 491.6h1.9v3.5h-1.9zM652.2 491.6h1.9v3.5h-1.9zM500.1 494.15h1.9v3.5h-1.9zM522.6 494.15h1.9v3.5h-1.9zM523.5 494.15h1.9v3.5h-1.9zM528 494.15h1.9v3.5h-1.9zM528.9 494.15h5.7v3.5h-5.7zM564.2 494.15h1.9v3.5h-1.9zM566.9 494.15h1.9v3.5h-1.9zM575.9 494.15h3.8v3.5h-3.8zM583.2 494.15h1.9v3.5h-1.9zM585.9 494.15h1.9v3.5h-1.9zM589.5 494.15h5.7v3.5h-5.7zM596.9 494.15h5.7v3.5h-5.7zM616.9 494.15h1.9v3.5h-1.9zM618.7 494.15h1.9v3.5h-1.9zM626.8 494.15h3.8v3.5h-3.8zM629.6 494.15h1.9v3.5h-1.9zM636.8 494.15h5.7v3.5h-5.7zM641.5 494.15h1.9v3.5h-1.9zM650.5 494.15h1.9v3.5h-1.9zM667.6 494.15h1.9v3.5h-1.9zM523.5 496.7h1.9v3.5h-1.9zM618 496.7h1.9v3.5h-1.9zM639.6 496.7h1.9v3.5h-1.9zM658.5 496.7h1.9v3.5h-1.9zM666.6 496.7h1.9v3.5h-1.9zM503.7 499.25h1.9v3.5h-1.9zM505.5 499.25h3.8v3.5h-3.8zM511.9 499.25h3.8v3.5h-3.8zM516.5 499.25h1.9v3.5h-1.9zM520.1 499.25h1.9v3.5h-1.9zM521 499.25h1.9v3.5h-1.9zM524.6 499.25h1.9v3.5h-1.9zM528.2 499.25h5.7v3.5h-5.7zM544.6 499.25h1.9v3.5h-1.9zM550 499.25h1.9v3.5h-1.9zM553.6 499.25h5.7v3.5h-5.7zM562.8 499.25h1.9v3.5h-1.9zM571.8 499.25h1.9v3.5h-1.9zM573.6 499.25h1.9v3.5h-1.9zM578.1 499.25h1.9v3.5h-1.9zM582.6 499.25h5.7v3.5h-5.7zM592.7 499.25h1.9v3.5h-1.9zM598.1 499.25h1.9v3.5h-1.9zM610.7 499.25h1.9v3.5h-1.9zM611.6 499.25h1.9v3.5h-1.9zM615.2 499.25h5.7v3.5h-5.7zM624.4 499.25h1.9v3.5h-1.9zM627.1 499.25h3.8v3.5h-3.8zM655.1 499.25h1.9v3.5h-1.9zM658.7 499.25h3.8v3.5h-3.8zM514.5 501.8h1.9v3.5h-1.9zM547.8 501.8h1.9v3.5h-1.9zM563.1 501.8h1.9v3.5h-1.9zM585.6 501.8h3.8v3.5h-3.8zM594.7 501.8h1.9v3.5h-1.9zM607.3 501.8h1.9v3.5h-1.9zM642.4 501.8h1.9v3.5h-1.9zM501 504.35h3.8v3.5h-3.8zM585.7 504.35h1.9v3.5h-1.9zM587.5 504.35h1.9v3.5h-1.9zM597.4 504.35h3.8v3.5h-3.8zM636.2 504.35h1.9v3.5h-1.9zM499.2 506.9h1.9v3.5h-1.9zM506.4 506.9h1.9v3.5h-1.9zM508.2 506.9h1.9v3.5h-1.9zM514.5 506.9h1.9v3.5h-1.9zM519.9 506.9h1.9v3.5h-1.9zM523.5 506.9h1.9v3.5h-1.9zM530.7 506.9h5.7v3.5h-5.7zM539.9 506.9h3.8v3.5h-3.8zM546.3 506.9h5.7v3.5h-5.7zM556.4 506.9h3.8v3.5h-3.8zM561 506.9h1.9v3.5h-1.9zM563.7 506.9h1.9v3.5h-1.9zM565.5 506.9h1.9v3.5h-1.9zM579.9 506.9h1.9v3.5h-1.9zM580.8 506.9h1.9v3.5h-1.9zM583.5 506.9h1.9v3.5h-1.9zM586.2 506.9h1.9v3.5h-1.9zM587.1 506.9h3.8v3.5h-3.8zM594.4 506.9h1.9v3.5h-1.9zM598.9 506.9h1.9v3.5h-1.9zM604.3 506.9h1.9v3.5h-1.9zM606.1 506.9h5.7v3.5h-5.7zM613.5 506.9h1.9v3.5h-1.9zM614.4 506.9h5.7v3.5h-5.7zM620.9 506.9h1.9v3.5h-1.9zM623.6 506.9h1.9v3.5h-1.9zM624.5 506.9h1.9v3.5h-1.9zM627.2 506.9h1.9v3.5h-1.9zM639.8 506.9h1.9v3.5h-1.9zM641.6 506.9h1.9v3.5h-1.9zM645.2 506.9h1.9v3.5h-1.9zM651.5 506.9h1.9v3.5h-1.9zM652.4 506.9h1.9v3.5h-1.9zM509.1 509.45h1.9v3.5h-1.9zM514.5 509.45h1.9v3.5h-1.9zM516.3 509.45h3.8v3.5h-3.8zM523.6 509.45h3.8v3.5h-3.8zM526.4 509.45h1.9v3.5h-1.9zM537.2 509.45h3.8v3.5h-3.8zM553.5 509.45h1.9v3.5h-1.9zM561.6 509.45h1.9v3.5h-1.9zM567.9 509.45h1.9v3.5h-1.9zM568.8 509.45h1.9v3.5h-1.9zM574.2 509.45h1.9v3.5h-1.9zM576.9 509.45h1.9v3.5h-1.9zM577.8 509.45h1.9v3.5h-1.9zM579.6 509.45h1.9v3.5h-1.9zM582.3 509.45h1.9v3.5h-1.9zM588.6 509.45h1.9v3.5h-1.9zM591.3 509.45h1.9v3.5h-1.9zM592.2 509.45h1.9v3.5h-1.9zM604.8 509.45h1.9v3.5h-1.9zM609.3 509.45h1.9v3.5h-1.9zM621 509.45h5.7v3.5h-5.7zM635.6 509.45h1.9v3.5h-1.9zM639.2 509.45h1.9v3.5h-1.9zM641 509.45h1.9v3.5h-1.9zM641.9 509.45h1.9v3.5h-1.9zM644.6 509.45h3.8v3.5h-3.8zM665.4 509.45h1.9v3.5h-1.9zM498.3 512h1.9v3.5h-1.9zM501.9 512h1.9v3.5h-1.9zM504.6 512h1.9v3.5h-1.9zM515.4 512h1.9v3.5h-1.9zM518.1 512h1.9v3.5h-1.9zM528 512h3.8v3.5h-3.8zM531.7 512h1.9v3.5h-1.9zM542.5 512h1.9v3.5h-1.9zM544.3 512h1.9v3.5h-1.9zM547 512h1.9v3.5h-1.9zM547.9 512h1.9v3.5h-1.9zM566.8 512h5.7v3.5h-5.7zM576.9 512h1.9v3.5h-1.9zM595.8 512h1.9v3.5h-1.9zM601.2 512h3.8v3.5h-3.8zM616.6 512h3.8v3.5h-3.8zM623 512h1.9v3.5h-1.9zM644.6 512h1.9v3.5h-1.9zM645.5 512h1.9v3.5h-1.9zM647.3 512h1.9v3.5h-1.9zM650.9 512h1.9v3.5h-1.9zM652.7 512h1.9v3.5h-1.9zM659.9 512h1.9v3.5h-1.9zM661.7 512h1.9v3.5h-1.9zM509.1 514.55h1.9v3.5h-1.9zM514.5 514.55h1.9v3.5h-1.9zM529.8 514.55h1.9v3.5h-1.9zM539.7 514.55h1.9v3.5h-1.9zM546 514.55h1.9v3.5h-1.9zM549.6 514.55h3.8v3.5h-3.8zM557.8 514.55h1.9v3.5h-1.9zM592.9 514.55h1.9v3.5h-1.9zM596.5 514.55h1.9v3.5h-1.9zM607.3 514.55h1.9v3.5h-1.9zM619 514.55h1.9v3.5h-1.9zM619.9 514.55h1.9v3.5h-1.9zM621.7 514.55h1.9v3.5h-1.9zM629.8 514.55h1.9v3.5h-1.9zM639.7 514.55h1.9v3.5h-1.9zM502.8 517.1h1.9v3.5h-1.9zM527.1 517.1h1.9v3.5h-1.9zM538.8 517.1h1.9v3.5h-1.9zM549.6 517.1h1.9v3.5h-1.9zM552.3 517.1h1.9v3.5h-1.9zM559.5 517.1h1.9v3.5h-1.9zM563.1 517.1h1.9v3.5h-1.9zM564 517.1h1.9v3.5h-1.9zM582.9 517.1h3.8v3.5h-3.8zM589.3 517.1h1.9v3.5h-1.9zM601.9 517.1h5.7v3.5h-5.7zM607.5 517.1h1.9v3.5h-1.9zM610.2 517.1h1.9v3.5h-1.9zM621 517.1h1.9v3.5h-1.9zM501.9 519.65h1.9v3.5h-1.9zM519.9 519.65h1.9v3.5h-1.9zM521.7 519.65h1.9v3.5h-1.9zM542.4 519.65h1.9v3.5h-1.9zM552.3 519.65h1.9v3.5h-1.9zM557.7 519.65h1.9v3.5h-1.9zM581.1 519.65h1.9v3.5h-1.9zM605.4 519.65h1.9v3.5h-1.9zM612.6 519.65h3.8v3.5h-3.8zM619.9 519.65h1.9v3.5h-1.9zM659.5 519.65h1.9v3.5h-1.9zM665.8 519.65h1.9v3.5h-1.9zM667.6 519.65h1.9v3.5h-1.9zM673 519.65h1.9v3.5h-1.9zM498.3 522.2h1.9v3.5h-1.9zM515.4 522.2h1.9v3.5h-1.9zM519.9 522.2h1.9v3.5h-1.9zM521.7 522.2h5.7v3.5h-5.7zM526.4 522.2h1.9v3.5h-1.9zM533.6 522.2h1.9v3.5h-1.9zM542.6 522.2h1.9v3.5h-1.9zM545.3 522.2h1.9v3.5h-1.9zM600.2 522.2h1.9v3.5h-1.9zM603.8 522.2h1.9v3.5h-1.9zM618.2 522.2h1.9v3.5h-1.9zM644.3 522.2h1.9v3.5h-1.9zM652.4 522.2h1.9v3.5h-1.9zM656.9 522.2h1.9v3.5h-1.9zM508.2 524.75h1.9v3.5h-1.9zM509.1 524.75h3.8v3.5h-3.8zM521.8 524.75h1.9v3.5h-1.9zM523.6 524.75h1.9v3.5h-1.9zM528.1 524.75h1.9v3.5h-1.9zM529 524.75h1.9v3.5h-1.9zM534.4 524.75h5.7v3.5h-5.7zM578.7 524.75h1.9v3.5h-1.9zM597.6 524.75h1.9v3.5h-1.9zM615.6 524.75h5.7v3.5h-5.7zM633.8 524.75h1.9v3.5h-1.9zM634.7 524.75h3.8v3.5h-3.8zM649.2 524.75h1.9v3.5h-1.9zM651 524.75h1.9v3.5h-1.9zM498.3 527.3h1.9v3.5h-1.9zM505.5 527.3h1.9v3.5h-1.9zM519.9 527.3h1.9v3.5h-1.9zM527.1 527.3h1.9v3.5h-1.9zM533.4 527.3h1.9v3.5h-1.9zM540.6 527.3h5.7v3.5h-5.7zM549.8 527.3h1.9v3.5h-1.9zM555.2 527.3h1.9v3.5h-1.9zM563.3 527.3h1.9v3.5h-1.9zM565.1 527.3h3.8v3.5h-3.8zM569.7 527.3h1.9v3.5h-1.9zM572.4 527.3h1.9v3.5h-1.9zM583.2 527.3h1.9v3.5h-1.9zM585 527.3h1.9v3.5h-1.9zM590.4 527.3h1.9v3.5h-1.9zM591.3 527.3h1.9v3.5h-1.9zM603.9 527.3h1.9v3.5h-1.9zM605.7 527.3h1.9v3.5h-1.9zM612 527.3h1.9v3.5h-1.9zM614.7 527.3h1.9v3.5h-1.9zM617.4 527.3h1.9v3.5h-1.9zM640.8 527.3h5.7v3.5h-5.7zM652.7 527.3h1.9v3.5h-1.9zM658.1 527.3h1.9v3.5h-1.9zM668 527.3h1.9v3.5h-1.9zM523.5 529.85h1.9v3.5h-1.9zM529.8 529.85h1.9v3.5h-1.9zM585.6 529.85h1.9v3.5h-1.9zM593.7 529.85h1.9v3.5h-1.9zM617.1 529.85h1.9v3.5h-1.9zM631.5 529.85h3.8v3.5h-3.8zM662.2 529.85h3.8v3.5h-3.8zM669.5 529.85h3.8v3.5h-3.8zM500.1 532.4h1.9v3.5h-1.9zM514.5 532.4h1.9v3.5h-1.9zM530.7 532.4h1.9v3.5h-1.9zM533.4 532.4h1.9v3.5h-1.9zM553.2 532.4h1.9v3.5h-1.9zM559.5 532.4h1.9v3.5h-1.9zM560.4 532.4h1.9v3.5h-1.9zM562.2 532.4h1.9v3.5h-1.9zM573 532.4h1.9v3.5h-1.9zM581.1 532.4h3.8v3.5h-3.8zM665.8 532.4h5.7v3.5h-5.7zM505.5 534.95h1.9v3.5h-1.9zM507.3 534.95h1.9v3.5h-1.9zM518.1 534.95h1.9v3.5h-1.9zM519.9 534.95h3.8v3.5h-3.8zM527.2 534.95h1.9v3.5h-1.9zM528.1 534.95h1.9v3.5h-1.9zM541.6 534.95h1.9v3.5h-1.9zM542.5 534.95h1.9v3.5h-1.9zM574 534.95h1.9v3.5h-1.9zM581.2 534.95h1.9v3.5h-1.9zM593.8 534.95h1.9v3.5h-1.9zM597.4 534.95h1.9v3.5h-1.9zM607.3 534.95h1.9v3.5h-1.9zM613.6 534.95h1.9v3.5h-1.9zM619.9 534.95h1.9v3.5h-1.9zM622.6 534.95h1.9v3.5h-1.9zM629.8 534.95h1.9v3.5h-1.9zM630.7 534.95h1.9v3.5h-1.9zM632.5 534.95h1.9v3.5h-1.9zM633.4 534.95h1.9v3.5h-1.9zM638.8 534.95h1.9v3.5h-1.9zM640.6 534.95h1.9v3.5h-1.9zM643.3 534.95h1.9v3.5h-1.9zM644.2 534.95h1.9v3.5h-1.9zM647.8 534.95h1.9v3.5h-1.9zM664 534.95h1.9v3.5h-1.9zM668.5 534.95h1.9v3.5h-1.9zM669.4 534.95h1.9v3.5h-1.9zM501.9 537.5h1.9v3.5h-1.9zM512.7 537.5h1.9v3.5h-1.9zM519 537.5h1.9v3.5h-1.9zM526.2 537.5h3.8v3.5h-3.8zM535.3 537.5h5.7v3.5h-5.7zM556.2 537.5h1.9v3.5h-1.9zM558.9 537.5h1.9v3.5h-1.9zM576 537.5h5.7v3.5h-5.7zM580.7 537.5h1.9v3.5h-1.9zM586.1 537.5h1.9v3.5h-1.9zM589.7 537.5h1.9v3.5h-1.9zM593.3 537.5h1.9v3.5h-1.9zM596 537.5h1.9v3.5h-1.9zM627.5 537.5h1.9v3.5h-1.9zM648.2 537.5h1.9v3.5h-1.9zM649.1 537.5h1.9v3.5h-1.9zM659.9 537.5h1.9v3.5h-1.9zM507.3 540.05h1.9v3.5h-1.9zM514.5 540.05h1.9v3.5h-1.9zM529.8 540.05h5.7v3.5h-5.7zM539.9 540.05h5.7v3.5h-5.7zM547.3 540.05h1.9v3.5h-1.9zM563.5 540.05h1.9v3.5h-1.9zM585.1 540.05h1.9v3.5h-1.9zM587.8 540.05h1.9v3.5h-1.9zM593.2 540.05h5.7v3.5h-5.7zM606 540.05h1.9v3.5h-1.9zM607.8 540.05h1.9v3.5h-1.9zM611.4 540.05h1.9v3.5h-1.9zM613.2 540.05h1.9v3.5h-1.9zM623.1 540.05h1.9v3.5h-1.9zM629.4 540.05h1.9v3.5h-1.9zM650.1 540.05h1.9v3.5h-1.9z"/>
</svg>
</body></html>
